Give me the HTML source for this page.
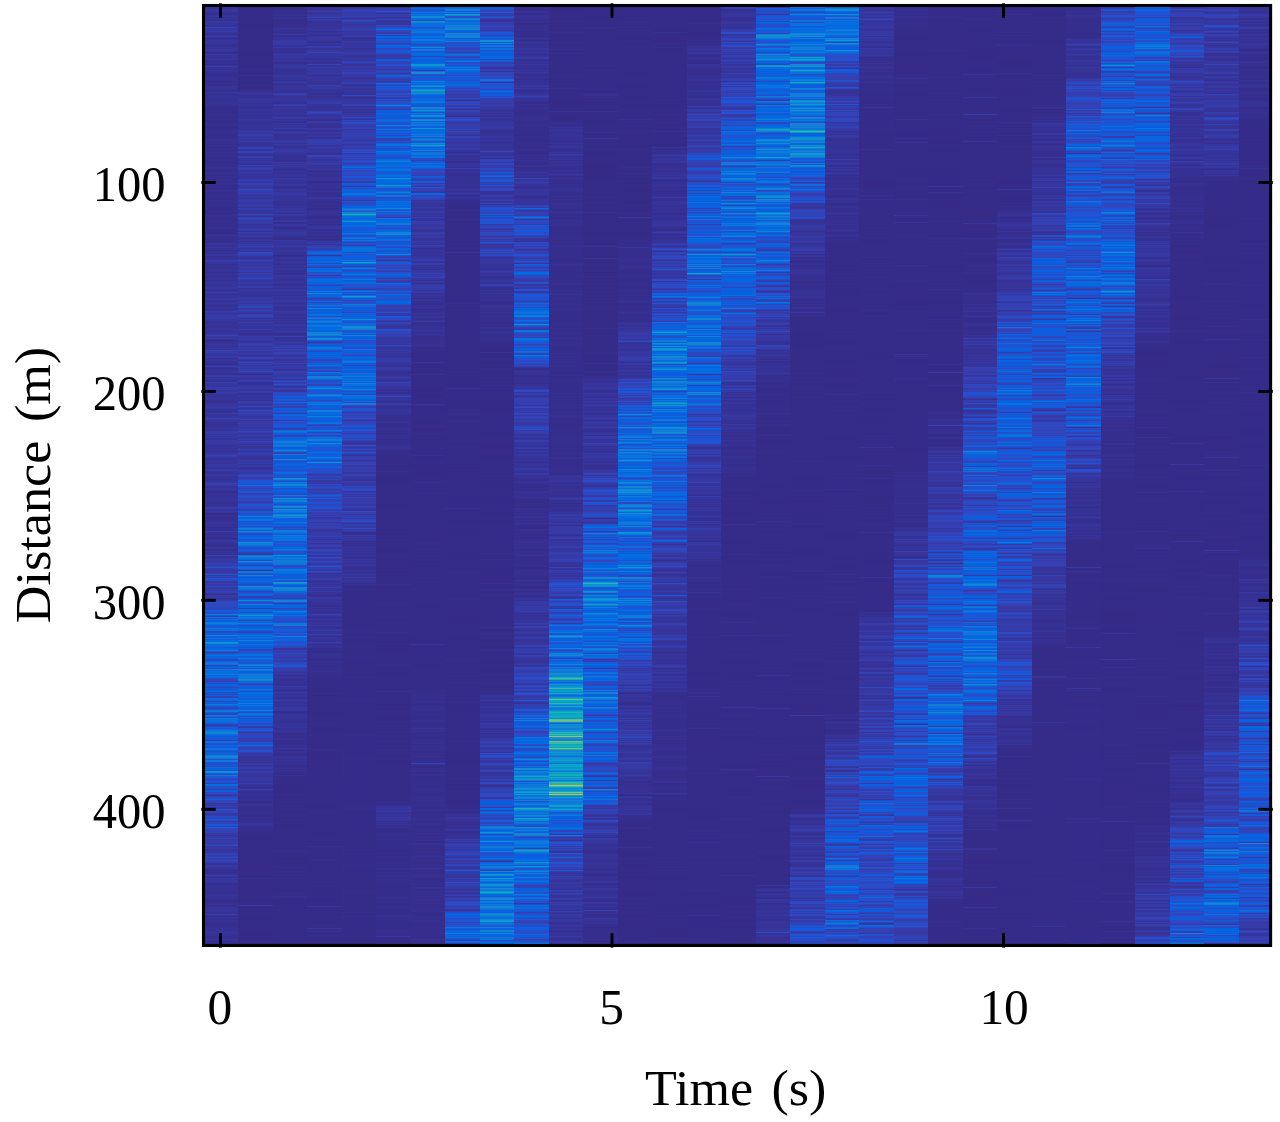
<!DOCTYPE html>
<html><head><meta charset="utf-8"><title>Distance vs Time</title>
<style>
html,body{margin:0;padding:0;background:#fff}
body{width:1280px;height:1122px;position:relative;overflow:hidden}
#p{position:absolute;left:203.5px;top:5px;width:1067.1px;height:941px;background:#352a87;overflow:hidden}
.c{position:absolute;top:0;width:34.5px;height:941px}
</style></head><body>
<div id="p">
<div class="c" style="left:0px;background:linear-gradient(#36349b .5px,#36339a,#36359c,#363399,#3638a3,#3637a0,#36359e,#363194,#362f90,#363092,#36349c,#36369e,#363194,#36349b,#363398,#363195,#3638a4,#36369f,#36359d,#36369f,#363093,#36349b,#3342b6,#36359d,#3637a1,#363aa6,#3639a6,#36349a,#363297,#363194,#36349a,#353ba8,#36349a,#362e8e,#363398,#36359e,#363297,#3637a2,#363398,#363196,#362f90,#363093,#363399,#36349b,#36369e,#36359c,#363398,#362e8e,#362e8f,#363aa6,#363399,#363297,#363296,#363297,#3637a1,#362f90,#362f90,#363195,#363093,#352d8d,#363298,#353dac,#36349b,#36349b,#362f90,#36359d,#363398,#362f91,#362f91,#362f90,#362e8e,#363092,#363195,#363195,#363195,#363093,#362f90,#362f91,#363297,#362f90,#362f90,#36349a,#363398,#363398,#363296,#362f90,#362f91,#3638a2,#363092,#363093,#363195,#363399,#363093,#363297,#363093,#363195,#363195,#363296,#363194,#363194,#363194,#362d8d,#362e8e,#362f90,#352c8b,#362e8e,#362e8f,#352c8b,#352c8b,#362f90,#362e8f,#352d8d,#362e8e,#352d8b,#362f90,#352d8c,#352d8c,#352d8c,#362f90,#362e8f,#363092,#352c8b,#352c8a,#352d8c,#363092,#362d8d,#363092,#362f90,#362e8e,#362f91,#352d8c,#352d8c,#352c8b,#352d8d,#363195,#362f90,#362f8f,#362e8f,#362f90,#362e8e,#363092,#362f91,#352d8d,#362f91,#362f91,#362e8f,#362d8d,#363093,#362f91,#362d8d,#362f90,#362e8e,#362e8f,#352d8d,#362e8d,#362d8d,#352d8c,#352d8b,#352c8b,#362e8e,#362e8e,#352d8c,#363194,#363093,#362e8f,#352d8c,#352d8b,#363092,#363093,#362e8e,#352d8c,#363092,#362e8e,#362f90,#352d8d,#362f90,#362e8f,#362e8e,#363196,#362f90,#362e8f,#352d8d,#362e8f,#352c8b,#352d8b,#363296,#362f90,#352d8d,#362d8d,#352c8a,#362f90,#362e8e,#362e8e,#362e8e,#352d8d,#362e8e,#363092,#362e8d,#362e8e,#363092,#362d8d,#362f91,#352d8c,#362e8e,#362e8e,#352c8b,#362e8f,#352d8d,#352c8a,#362f91,#363194,#362d8d,#362e8e,#352d8c,#352d8c,#362e8e,#362f90,#362e8e,#362e8f,#362e8d,#352d8b,#362e8e,#362f90,#362f90,#352d8c,#352d8d,#352d8d,#352c8b,#352d8c,#362e8e,#36349a,#352d8c,#363092,#362f90,#362e8f,#362f90,#362d8d,#363194,#363398,#36349a,#363195,#363092,#36369e,#363297,#363297,#362e8e,#363093,#363399,#362f91,#3639a6,#36369f,#362f90,#363297,#36339a,#36349a,#343eb0,#3638a3,#36349a,#363399,#363093,#363297,#36349a,#363194,#363195,#36339a,#36349b,#363296,#362e8f,#363399,#363398,#363194,#363195,#363092,#36349b,#363398,#362f91,#36339a,#3637a0,#36349b,#36369e,#363093,#3638a2,#3637a1,#3639a5,#363195,#363194,#363297,#353dad,#3637a1,#363093,#36349b,#36359d,#363296,#3637a0,#363aa7,#36349b,#363093,#36369e,#36369e,#363399,#363194,#363398,#36359d,#36349b,#362f90,#36359c,#353eaf,#3638a3,#3638a3,#36359c,#343eaf,#3637a1,#353ba8,#353dae,#36369e,#3637a1,#363195,#36349b,#363194,#36359d,#36349a,#363398,#363297,#36349b,#3637a1,#363296,#363297,#36349b,#363297,#3639a5,#3341b6,#3639a5,#36349a,#353caa,#363296,#362f90,#363093,#36349a,#363399,#36359d,#363194,#363399,#36349a,#3637a0,#363297,#3342b7,#3638a3,#343fb1,#3636a0,#36369e,#363399,#353caa,#353ba8,#363297,#363297,#3637a0,#363093,#363194,#363296,#362e8f,#36369f,#343fb1,#36339a,#362f90,#363399,#36359e,#36369f,#36339a,#363297,#362f91,#353caa,#353dae,#36349b,#36369e,#363399,#363398,#363093,#3440b2,#3637a1,#3636a0,#36349c,#36359e,#353cab,#3637a2,#353cab,#36349b,#3636a0,#353caa,#3639a5,#363398,#363194,#363297,#363195,#36359d,#36359d,#363195,#362f91,#363194,#363398,#3637a0,#36369f,#3637a1,#353ba8,#3637a2,#363194,#363296,#363093,#36349a,#353cac,#363297,#36349b,#36369f,#36359c,#3243b9,#3637a1,#3637a1,#36349b,#363194,#363195,#363092,#363399,#363092,#36369e,#36359d,#3636a0,#363196,#363aa6,#353baa,#363aa6,#36359c,#3639a5,#36349c,#363aa7,#363195,#363398,#363aa7,#3639a6,#3639a4,#3638a3,#36369e,#363195,#36359d,#36339a,#363297,#36339a,#36349a,#363194,#36369e,#36369e,#363aa6,#3340b4,#353ba8,#36369e,#363194,#363297,#36359c,#36369e,#36359c,#363297,#3637a1,#3637a1,#3639a4,#363399,#36349b,#353aa8,#353caa,#363297,#363297,#363297,#3638a4,#3638a4,#363296,#363398,#363296,#363398,#363398,#363399,#3638a2,#343fb1,#353ba9,#353cab,#363194,#36349a,#36369f,#36359d,#363398,#362e8e,#362f90,#363195,#36349a,#363195,#363297,#363398,#363297,#363399,#36349c,#363297,#363296,#363092,#363194,#363092,#363399,#353cab,#353dad,#363399,#36339a,#3637a2,#36349a,#352d8b,#362f90,#363296,#362f91,#362f91,#362f91,#362f90,#363093,#363194,#36349b,#36349b,#363194,#363195,#363297,#362e8f,#36349b,#363195,#362f90,#353dad,#36349a,#363296,#363092,#36359e,#363297,#362f8f,#352d8c,#362f91,#363aa7,#36339a,#36369f,#363196,#362e8e,#362e8e,#363092,#36349a,#363398,#362e8e,#362f91,#363398,#363194,#363399,#362f91,#343fb1,#36349b,#363297,#36359c,#363aa6,#3637a0,#3638a3,#3639a5,#343eb0,#3340b4,#353dac,#3244ba,#274ecc,#353dac,#363aa7,#3637a2,#3638a2,#3637a1,#353dac,#1758d9,#363aa7,#343fb1,#353ba9,#0b5edf,#2d48c3,#3144bb,#3639a6,#36369e,#353dac,#3638a3,#353aa8,#2e48c1,#353baa,#3639a5,#353cab,#353ba9,#3341b4,#353eae,#36369f,#363093,#353baa,#3639a4,#353dac,#36349a,#36359c,#353dae,#2f47c0,#2c4ac6,#274ecc,#3342b7,#2c4ac5,#2c49c5,#3243ba,#3242b8,#3341b4,#0363e1,#0c5ede,#2c4ac6,#2152d3,#127cd8,#1956d7,#353eaf,#0971de,#2251d1,#0871df,#0363e1,#0462e0,#0d75dc,#117ada,#0971de,#0462e1,#1857d8,#1d54d5,#0f77db,#046de0,#0a73dd,#3046be,#2d49c4,#0562e0,#1a56d7,#1482d5,#0b5edf,#0363e1,#076fdf,#1c55d6,#036ae1,#036ae1,#079cd0,#138ad3,#0267e1,#066edf,#036be0,#1956d8,#0268e1,#036ae1,#127bd9,#1c55d6,#343fb1,#2a4cc9,#0267e1,#0b73dd,#0364e1,#0268e1,#0860df,#3242b7,#3243ba,#036be0,#0971de,#0e76dc,#0870df,#3341b4,#1658da,#0266e1,#2e48c2,#117bd9,#0269e1,#066edf,#0870df,#046de0,#1079da,#0266e1,#066edf,#046ce0,#2c4ac6,#2e48c3,#3244ba,#353dac,#0860df,#2e47c1,#036be1,#0760e0,#1c55d6,#3045bd,#0960df,#274ecc,#0266e1,#056de0,#2f46bf,#0860df,#3342b6,#0267e1,#3244ba,#3440b3,#0971de,#036ae1,#036be0,#3342b7,#0265e1,#1f53d4,#0f78da,#036be1,#0e5cde,#3341b5,#3243b8,#1956d8,#0d75dc,#117bd9,#0363e1,#3046bf,#3440b3,#0f78db,#066ee0,#2c4ac7,#0d75dc,#0871de,#066edf,#0971de,#026ae1,#1c55d6,#343fb1,#353dae,#3144bc,#0364e1,#2152d2,#026ae1,#0972de,#127dd8,#1481d6,#1482d5,#046de0,#0363e1,#2251d2,#0860df,#0363e1,#2251d1,#353cac,#0871de,#0870df,#264fcd,#294cca,#036be1,#125adc,#0462e1,#0a72de,#0b73dd,#0462e1,#2a4cc9,#2351d0,#036be0,#0661e0,#127bd9,#1388d3,#1482d5,#0c74dd,#264ecd,#1079da,#0e76dc,#125adc,#2d48c3,#2a4cc9,#0a5fdf,#2f47c0,#076fdf,#0363e1,#0268e1,#2f47c0,#089ad0,#1484d4,#0265e1,#2f47c0,#0d76dc,#0364e1,#2052d3,#2d49c4,#3341b6,#2052d3,#105bdd,#244fcf,#3341b6,#0770df,#0770df,#2d49c4,#1758d9,#2d49c4,#3341b6,#0860e0,#0265e1,#3045bd,#3046bf,#353eae,#36349b,#3045bd,#2e47c1,#2d49c4,#0265e1,#2e47c1,#3144bb,#3243b9,#36359d,#353ba9,#36369e,#343fb1,#363aa7,#3637a0,#1757d9,#2e47c1,#3341b4,#2e48c1,#36369f,#3637a2,#353ba9,#2e47c1,#2c49c5,#3440b3,#0363e1,#2d49c4,#353ba9,#2e47c1,#343fb1,#1857d8,#264ecd,#343eaf,#0267e1,#2c4ac5,#3440b2,#3243b9,#3243b8,#3243b8,#3637a0,#353ba8,#363399,#3638a3,#353ba9,#3341b6,#3639a5,#353dad,#353aa8,#353cac,#3637a0,#3243b9,#2e48c2,#3637a0,#3638a2,#3639a5,#363297,#363296,#3639a4,#36359d,#343eb0,#3242b7,#363aa7,#3440b2,#2c4ac6,#353aa8,#3341b5,#3144bb,#3243b9,#363aa6,#3636a0,#363297,#3638a2,#3638a3,#36369e,#36349b,#363297,#362e8e,#363092,#362e8f,#363195,#363194,#343fb1,#36359d,#363093,#353caa,#363296,#36369f,#3638a3,#363297,#363194,#362f90,#363092,#363297,#363297,#363195,#362f91,#363298,#362f90,#362f90,#363092,#363297,#363296,#363296,#362f91,#363398,#362d8d,#362e8d,#352d8d,#362d8d,#363092,#363296,#362f91,#362f91,#36359e,#363297,#36349b,#36349b,#36349b,#363194,#363093,#353cab,#363195,#362d8d,#363297,#363093,#363092,#363296,#363092,#362f91,#362e8e,#362f91,#362e8e,#363093,#363093,#363398,#363093,#363298,#36349a,#36359c,#363399,#363398,#363195,#362f91,#362f91,#363092,#36369e,#363092,#362e8f,#363093,#362e8f,#363195,#363093 940.5px)"></div>
<div class="c" style="left:34.5px;background:linear-gradient(#352b88 .5px,#352b88,#352b88,#352b87,#352b88,#352b88,#352b88,#352a87,#352b89,#352b88,#352b88,#352b87,#352b88,#352a87,#352b88,#352b87,#352b88,#352b88,#352b87,#352b87,#352a87,#352d8d,#352b87,#352b89,#352c89,#352b89,#352b89,#352b88,#352b88,#352b88,#352b87,#352b88,#352b88,#352b88,#352b87,#352b89,#352a87,#352c8a,#352c8a,#352b88,#352a87,#352d8c,#352a87,#352b88,#352a87,#352b88,#352b88,#352b87,#352a87,#352a87,#352a87,#352b88,#352a87,#352b88,#352b88,#352b88,#352b89,#352b87,#352c8a,#352b88,#352b87,#352c8a,#352b87,#352b88,#362e8e,#352b88,#352b88,#352a87,#352c89,#352b88,#363194,#352b88,#352b88,#352b88,#352b87,#352b89,#352c89,#352b87,#352b87,#352b88,#352c8b,#352b87,#352c8a,#352c8a,#352c8a,#362e8e,#362f90,#363194,#3638a3,#36349b,#363093,#363093,#363092,#36359d,#3637a1,#36359d,#3636a0,#363297,#363092,#363399,#36349b,#363195,#363092,#363194,#36359c,#363398,#363398,#36349b,#36349b,#36349b,#363092,#363194,#36349b,#363297,#3638a2,#36359d,#363399,#363398,#363296,#363398,#36359d,#363399,#363399,#363296,#363093,#363aa7,#3637a1,#36369f,#36369f,#353baa,#343fb1,#3638a2,#36359c,#3639a5,#3638a2,#36359c,#353ba9,#36349b,#36349a,#362f91,#36349a,#363399,#343fb0,#2f46bf,#363399,#363398,#3341b4,#3341b5,#36369e,#363195,#363398,#353ba9,#3440b3,#36369f,#36359d,#363297,#3637a2,#3637a1,#363398,#363297,#3440b3,#36349b,#353ba9,#3440b2,#353ba9,#36359d,#3636a0,#3639a5,#3638a2,#363297,#36369e,#36349b,#363398,#3637a1,#3637a1,#3243b9,#3639a5,#36369e,#3342b6,#343fb2,#36359c,#3639a5,#36359c,#3638a3,#2d49c3,#353ba9,#353caa,#353baa,#3341b5,#3638a2,#3637a0,#353aa8,#3636a0,#36349a,#3638a2,#353cac,#353baa,#36359c,#3637a0,#3638a3,#3440b3,#3637a2,#36349b,#3341b5,#3639a4,#36349a,#36349a,#36359c,#36349b,#2e48c1,#3638a2,#363194,#353dac,#2a4bc8,#363aa6,#3639a5,#363aa7,#353baa,#363aa6,#363297,#36369f,#363399,#3637a1,#3638a2,#343fb1,#36369f,#363296,#353cac,#3639a4,#36349a,#36359c,#3639a5,#36349b,#363092,#363195,#3637a0,#363297,#36369f,#36359c,#353caa,#3638a4,#3243b9,#353aa8,#36349a,#36369f,#3637a0,#36349c,#2e48c2,#3045bd,#3440b3,#3440b2,#36369f,#36349a,#363296,#353cab,#3046be,#3639a6,#36369f,#36369f,#3639a6,#3639a5,#3639a5,#353ba8,#3639a5,#36369f,#343fb1,#353cab,#36359d,#343fb1,#363aa7,#353dac,#3639a5,#3243b8,#2e47c1,#353ba9,#3636a0,#36369e,#363aa6,#353cab,#363297,#363296,#343fb0,#353ba9,#363194,#36369e,#36359c,#36359c,#363398,#36349b,#363398,#36349b,#363398,#353ba9,#3637a1,#3638a2,#36359d,#353ba8,#363aa6,#36369e,#353dad,#3639a5,#2b4bc7,#3341b6,#3638a3,#3639a4,#3440b3,#353ba9,#36369f,#363398,#3341b5,#3243b9,#3145bc,#353ba8,#363398,#3637a1,#36349a,#36349a,#343eaf,#3637a1,#363297,#36369f,#363296,#3638a2,#36359e,#343eb0,#36349c,#363194,#36339a,#362f90,#363092,#36359c,#363aa7,#3637a1,#3639a6,#3639a5,#3637a1,#363399,#36359c,#353dac,#353eaf,#353dad,#36359c,#353eaf,#3637a1,#36369f,#3243b8,#36349b,#36359d,#353caa,#3638a2,#363093,#363aa7,#3341b5,#3144bb,#36369f,#363092,#3637a0,#3046be,#353ba9,#353dac,#36369f,#3639a6,#353eaf,#3637a2,#3243b8,#353ba8,#3144bb,#3638a3,#363195,#362f90,#353caa,#353ba8,#36369e,#363399,#36359c,#343eb0,#353eae,#363194,#362f91,#363093,#3637a1,#3639a4,#353dad,#3637a0,#36369e,#36349a,#353ba8,#363aa6,#363398,#363093,#363aa6,#36349a,#363398,#36369f,#36369f,#362f91,#3638a3,#353dac,#3639a5,#36359e,#36369f,#2e47c1,#3639a5,#363297,#353ba9,#2f47c0,#3342b6,#363aa7,#3144bb,#3639a5,#363aa6,#363296,#353aa8,#3639a4,#3342b7,#363296,#3637a0,#3637a2,#353eae,#3639a4,#36369f,#353ba9,#36349a,#3638a3,#343fb2,#36369e,#3145bc,#353cab,#36359d,#3639a6,#353cab,#363aa7,#363195,#363aa7,#353dae,#36359d,#3243b9,#353ba9,#3639a6,#363298,#3639a4,#363399,#363093,#36369f,#3341b5,#3638a2,#363297,#353dad,#3440b2,#3639a6,#3639a5,#36349a,#363296,#363195,#36349b,#353ba9,#3638a2,#3637a0,#353baa,#363297,#353ba8,#353ba9,#36359c,#36359c,#363297,#353ba9,#353ba9,#3639a4,#36359e,#343fb0,#2f47c0,#2b4bc7,#353aa8,#353dad,#3440b2,#2053d4,#1956d8,#2351d0,#1857d8,#2b4bc8,#076fdf,#1f53d4,#2f46bf,#353dac,#2f47c0,#2b4bc8,#0e5cde,#2052d3,#353dad,#3244ba,#2e48c2,#2350d0,#2b4bc7,#3342b6,#2f46bf,#2d49c4,#353eae,#353caa,#3045bd,#1559da,#274ecc,#2e47c1,#274ecc,#2c4ac6,#353ba9,#343fb1,#0760e0,#1459db,#3243b8,#2152d2,#1857d8,#1480d6,#0462e0,#0266e1,#0e76dc,#0971de,#2450cf,#0e5dde,#2053d4,#2251d1,#036ae1,#2b4bc7,#036be0,#137fd6,#0d76dc,#0860df,#137dd8,#0971de,#2f46bf,#3145bc,#0661e0,#0365e1,#036ae1,#036be0,#1e54d5,#2251d1,#0265e1,#1389d3,#117bd9,#127bd9,#0a72de,#0462e1,#2053d4,#3145bc,#1757d9,#0266e1,#1b55d6,#3440b3,#3639a5,#3639a6,#0c75dd,#1483d5,#1078da,#0770df,#046de0,#2a4bc8,#1486d4,#0870df,#0462e1,#1558da,#3244ba,#0a5fdf,#0b73dd,#066fdf,#2b4bc7,#3639a4,#0e77db,#127bd9,#2350d0,#264ecd,#1482d5,#0269e1,#1b55d7,#095fdf,#0268e1,#0761e0,#076fdf,#0462e1,#2152d3,#343fb2,#0e5dde,#1388d3,#0e76dc,#1078da,#056de0,#0267e1,#3341b6,#2d48c3,#1c55d6,#046ce0,#0661e0,#3243b8,#363aa7,#274ecc,#0860e0,#118cd2,#0661e0,#2b4bc8,#264fcd,#117bd9,#0267e1,#125adc,#0268e1,#353dad,#036be0,#0268e1,#036be1,#2e48c1,#056de0,#0a72de,#0a96d1,#0972de,#0e76db,#0e76db,#0266e1,#3341b6,#036be1,#0267e1,#127bd9,#046ce0,#2f46bf,#125adc,#0363e1,#0269e1,#066fdf,#0364e1,#3243b9,#343fb1,#1459db,#0562e0,#0b73dd,#036ae1,#0a72de,#036be0,#115bdc,#137fd7,#046ce0,#0b5edf,#0364e1,#0972de,#0363e1,#0364e1,#1b55d7,#0265e1,#3243b8,#2f47c0,#2450cf,#1758d9,#1a56d7,#0770df,#0972de,#2053d4,#0960df,#117ad9,#0462e1,#1b55d6,#0268e1,#294cc9,#1a56d7,#0e76dc,#1486d4,#0760e0,#0a72de,#1a56d7,#1481d6,#0e76dc,#0363e1,#1459db,#036be1,#137ed7,#0d75dc,#1078da,#1079da,#0e77db,#108fd2,#1481d5,#046ce0,#036be1,#2b4bc7,#343eaf,#2251d1,#0562e0,#0a5fdf,#0c5dde,#0c74dd,#066fdf,#2e48c2,#036ae1,#0b73dd,#0268e1,#0268e1,#125adc,#0269e1,#0e5dde,#0c5ede,#0972de,#046ce0,#0364e1,#127cd8,#0269e1,#0b73dd,#056de0,#115bdd,#1a56d7,#0269e1,#137fd6,#0960df,#3244ba,#0a72de,#0b73dd,#026ae1,#3046be,#036be0,#294cc9,#0268e1,#0a5fdf,#0f5cdd,#2053d4,#2e48c1,#2c4ac6,#0b5edf,#343eaf,#3637a1,#2252d2,#264fcd,#0265e1,#3342b7,#3638a2,#3440b3,#3244ba,#3045bd,#3045bd,#2b4bc8,#3638a3,#3341b4,#353eaf,#353cab,#125adc,#2f47c0,#2251d1,#056de0,#294cc9,#3341b4,#3341b4,#3242b8,#2152d3,#294cca,#3340b3,#353caa,#36369f,#3639a5,#36349b,#363297,#36369f,#363399,#363194,#36359c,#363298,#3637a1,#3638a3,#363195,#36369f,#363aa7,#3638a3,#36369e,#36349b,#3342b6,#353aa8,#3638a2,#36359c,#363297,#363298,#3638a3,#3638a3,#3638a3,#3637a1,#363399,#36359d,#353cab,#3638a2,#363296,#363194,#362f91,#363399,#3440b2,#36369f,#363092,#362e8e,#363093,#36349a,#363093,#362f91,#362f91,#362e8e,#363194,#362f90,#362d8d,#352d8d,#363092,#363399,#363296,#362f90,#362f90,#362e8f,#352d8c,#352d8b,#362f90,#362f90,#362e8e,#362f91,#352d8c,#352d8c,#363092,#362d8d,#352d8d,#363092,#362f91,#363297,#363399,#363399,#36359e,#362e8f,#363092,#362f90,#362e8e,#352c8b,#352d8c,#352c8a,#352b88,#352b88,#352b88,#352b88,#352b87,#352b87,#352b88,#352b88,#352b87,#352b87,#352c8a,#352a87,#352c8a,#352b89,#352b88,#352b88,#352b88,#352b88,#352b87,#352a87,#352b88,#352a87,#352b88,#352b88,#352b88,#352c89,#352a87,#352b88,#352b87,#352b89,#352b89,#352b87,#352b88,#352b89,#352a87,#352b87,#352b88,#352a87,#352b88,#352b88,#352a87,#352b88,#352b88,#352b87,#352b88,#363093,#352b88,#352b88,#352b87,#352b88,#352b87,#352a87,#352b88,#352b88,#352b87,#352b87,#352b87,#352b89,#352b88,#352b87,#352b88,#352b88,#352b87,#352b88,#352b88,#352c8a,#352b87,#352a87,#352b88,#352b88,#352b88,#352b88,#3638a3,#352b87,#352b87,#352b89,#352b87,#352b88,#352b87,#352b88,#352b88,#352b88,#352b89,#352b88,#352b87,#352b88,#352b87,#352b88,#352b88,#352b87,#352b88,#352b88,#352a87,#352b88,#352b88,#352b88,#352b88,#352b88,#352b87,#352b88,#352b87,#352b87,#352b87,#352c8a,#352c89,#352b87,#352b87,#352a87,#352c89,#352b88,#352b88,#352b88,#352b87 940.5px)"></div>
<div class="c" style="left:69px;background:linear-gradient(#363296 .5px,#362e8f,#362f90,#352c8b,#352c89,#362d8d,#362e8e,#352d8d,#362e8d,#362f91,#363092,#352d8c,#363092,#363195,#362f91,#352d8d,#352c8b,#362d8d,#362e8f,#362d8d,#362e8f,#362f8f,#363092,#36349a,#363297,#363092,#363194,#362f90,#363296,#3637a2,#363092,#362e8e,#36359d,#363398,#363297,#36359d,#353caa,#363aa7,#3638a3,#3637a1,#363195,#36349b,#363aa7,#363194,#352d8b,#36349a,#363093,#363194,#36349a,#353ba9,#3636a0,#36339a,#3639a4,#363398,#362f91,#3638a3,#363093,#362e8f,#362f90,#36359d,#3637a0,#36369f,#3638a2,#363296,#363398,#363195,#363297,#363398,#363092,#363399,#36369f,#3637a1,#363399,#363399,#363398,#362f91,#3637a1,#363aa6,#363398,#363194,#36349a,#36369e,#36349b,#363399,#36349a,#363093,#363398,#363398,#353cab,#343eaf,#3637a0,#363297,#36369f,#363296,#3638a3,#36349b,#363399,#363093,#363092,#363aa7,#3341b5,#363398,#3637a1,#36349a,#36339a,#36349b,#363296,#363399,#36369f,#36369e,#363093,#363194,#343eb0,#3637a2,#363194,#363399,#363093,#362e8e,#3637a1,#363195,#36369f,#36359d,#36349b,#353dad,#363399,#362e8f,#3637a0,#3639a5,#3637a1,#363195,#363092,#363195,#36349b,#363093,#36369f,#363399,#353ba8,#3637a1,#363398,#3637a0,#36359d,#363194,#363195,#36349b,#3637a0,#3637a0,#3639a5,#3637a2,#36369e,#363398,#363398,#363092,#363093,#363398,#363296,#362f90,#362f90,#3638a3,#363296,#3638a3,#36369e,#36369f,#36369e,#363398,#363093,#363195,#36359d,#363194,#363298,#36349b,#36359d,#36359d,#363093,#363aa6,#36349c,#36359d,#36349b,#363298,#363296,#3639a4,#36349a,#362f91,#362f90,#363092,#3637a0,#363399,#363398,#3637a2,#3638a3,#3637a2,#36369f,#36349b,#36349a,#36359c,#36349b,#36349a,#363195,#363194,#363298,#363194,#362f90,#36369e,#363195,#36369e,#36369f,#36349a,#3639a6,#363296,#363297,#3639a5,#36369f,#363296,#362f90,#363297,#363093,#36369e,#3637a1,#362f91,#363093,#3639a4,#3637a1,#363195,#362f90,#362f90,#363092,#3637a0,#36359c,#3639a5,#36369f,#3638a2,#36339a,#363195,#363093,#362f91,#352c8b,#3639a5,#36349a,#36369f,#363399,#36359c,#36369e,#3639a5,#363399,#363398,#363297,#36359c,#3639a4,#363297,#36359e,#363398,#362e8f,#362f91,#36349a,#36349b,#363194,#363194,#363398,#36369f,#363195,#363092,#36369f,#36349a,#363194,#36369f,#36369f,#363296,#363297,#363399,#363093,#363092,#3638a2,#36369f,#36349a,#36349a,#363296,#363398,#3637a0,#36349a,#36359c,#362f91,#363296,#36369f,#36359c,#363195,#36349a,#353ba9,#363194,#363399,#363399,#36349a,#363194,#3637a1,#363296,#363297,#36359e,#3636a0,#353aa8,#363297,#363194,#36359d,#36369f,#36349a,#362e8f,#363194,#363297,#363398,#3638a4,#3637a1,#363195,#36349b,#363195,#3638a2,#363297,#363093,#36369e,#363195,#36359c,#363399,#363297,#3638a2,#3638a3,#363297,#36349a,#36359d,#36369f,#363399,#353caa,#36349b,#362f90,#363195,#363399,#343fb1,#36349b,#363298,#363195,#36349b,#36349b,#353dad,#36369f,#36349a,#353caa,#353ba9,#3242b8,#353aa8,#3341b4,#353ba9,#3637a1,#3440b3,#343fb0,#353dad,#36369e,#36369e,#353caa,#3638a3,#36359c,#36369e,#363aa6,#36359d,#3440b3,#3636a0,#3637a1,#353cab,#3638a4,#363aa7,#363297,#36359d,#343eb0,#343eb0,#363aa6,#353dad,#3639a5,#3638a2,#343fb1,#363aa7,#36369f,#343fb1,#1f53d4,#3639a4,#3243b9,#264fcd,#353cab,#36349a,#36359c,#3342b6,#353cab,#36359c,#36349b,#2d49c4,#2b4bc8,#2b4bc8,#2e48c1,#0562e0,#2450d0,#294cca,#0363e1,#0b5ede,#3341b4,#0267e1,#294cca,#353cac,#2450cf,#343fb1,#3340b3,#0d5dde,#0e5cde,#2450cf,#0265e1,#274dcb,#343fb0,#0860df,#046ce0,#1559da,#1857d8,#0f5cdd,#254fce,#3639a6,#2251d1,#2b4bc8,#2350d0,#264fcd,#0363e1,#0c5dde,#254fcf,#353aa8,#3341b5,#036be1,#1078da,#056ee0,#0860df,#1a56d7,#353eaf,#3243ba,#0364e1,#0b5ede,#036ae1,#056de0,#127cd8,#137ed7,#0a72de,#0871de,#127cd8,#0d75dc,#125adc,#095fdf,#036be0,#1484d4,#066fdf,#3342b7,#3243b9,#137dd8,#1757d9,#0a5fdf,#0c5dde,#0d5dde,#1482d5,#0267e1,#3145bc,#1857d8,#0e5dde,#026ae1,#0d5dde,#2251d1,#0c5dde,#0a5fdf,#264ecd,#2d49c4,#0d5dde,#0971de,#036ae1,#1b55d6,#2450cf,#2152d2,#1558da,#108ed2,#137dd8,#0266e1,#2c4ac6,#0f78db,#0a72de,#1487d3,#1486d4,#036be1,#0871de,#2b4bc7,#105bdd,#0266e1,#0363e1,#1b55d6,#1758d9,#3045bd,#1079da,#0e5cde,#2b4bc7,#0b95d2,#0971de,#117bd9,#1484d4,#0266e1,#0761e0,#2b4bc7,#036be0,#0f8fd2,#137fd7,#2152d3,#0c93d2,#0d76dc,#1079da,#0870df,#0267e1,#137fd7,#0b95d2,#127cd8,#1481d6,#0363e1,#095fdf,#0562e0,#1956d8,#0b73dd,#0267e1,#1558da,#0265e1,#0f5cdd,#3341b5,#1757d9,#3046be,#117ad9,#117bd9,#0c74dd,#036be1,#125adc,#1079da,#046de0,#0d75dc,#056ee0,#0870df,#0870df,#1b55d6,#2b4bc7,#0265e1,#254fce,#1b55d6,#0a5fdf,#026ae1,#0266e1,#0f78db,#056de0,#2b4bc7,#2351d0,#3046be,#0266e1,#118cd2,#046de0,#0870df,#1482d5,#046de0,#0f78db,#137ed7,#1079da,#0f77db,#0a73dd,#284dcb,#3045bd,#1f53d4,#0363e1,#0f77db,#117bd9,#066fdf,#0a73dd,#0269e1,#0661e0,#0e5dde,#0462e1,#2053d4,#0d5dde,#117ad9,#2350d0,#1d54d5,#06a1cc,#1484d4,#056de0,#0e5dde,#125adb,#1484d4,#1487d3,#1482d5,#137fd7,#026ae1,#036ae1,#274ecc,#1857d8,#343fb0,#264ecc,#3243b9,#353dac,#036be0,#1483d5,#1482d5,#1459db,#343fb1,#125adc,#036ae1,#095fdf,#036be1,#2e47c1,#2b4bc7,#0268e1,#127bd9,#076fdf,#0265e1,#0d5dde,#0870df,#1857d8,#1d54d6,#264ecd,#294cca,#2351d0,#343eaf,#0f5cde,#0a72de,#0e77db,#117ad9,#2e48c2,#2e48c2,#254fce,#0561e0,#1a56d7,#1c55d6,#2f47bf,#0269e1,#294dca,#2350d0,#127cd9,#026ae1,#244fcf,#0269e1,#0269e1,#2152d3,#2a4bc8,#2351d0,#0265e1,#2c49c5,#2d49c3,#3243b9,#363399,#363399,#3243b8,#353baa,#353dae,#2a4cc9,#353dad,#353eaf,#343eb0,#3637a1,#343eaf,#2f47c0,#3639a5,#3639a6,#3243b8,#2e48c2,#3145bc,#095fdf,#274ecc,#3045bd,#363aa7,#353ba9,#353dad,#3637a2,#36349a,#3639a5,#36349a,#363195,#36349a,#36359d,#363399,#363195,#36349a,#363398,#363194,#363196,#362f90,#362f91,#353caa,#36359c,#3636a0,#363194,#362f91,#363296,#353aa8,#36359d,#363297,#36359e,#36359c,#363296,#362f90,#36359c,#363aa7,#36359c,#36349a,#363194,#36359d,#363399,#363194,#3639a5,#3638a2,#3637a1,#36369f,#363093,#362e8d,#362f90,#36349c,#363399,#363296,#36349a,#363296,#363194,#363195,#363297,#362f91,#36349a,#36349a,#36349a,#363297,#36359d,#363092,#363093,#36349b,#36349a,#363194,#362e8f,#362e8e,#362f90,#362f91,#352c8b,#363296,#362f91,#362e8e,#362e8f,#362e8e,#362e8e,#362e8f,#363297,#362f91,#362f91,#36369f,#362f91,#362e8f,#363196,#363092,#362e8e,#362e8e,#362f91,#363195,#363399,#363296,#362f90,#363398,#362f90,#363092,#363296,#363093,#362e8e,#362e8f,#362f91,#363194,#362e8e,#363194,#362e8e,#362f90,#362e8e,#352c8a,#363195,#352c89,#352b89,#352c8b,#352c89,#352b88,#352b88,#352b89,#352b88,#352b87,#352a87,#352b87,#352b88,#352b88,#352b87,#352c89,#352b87,#352b88,#352b87,#362f8f,#352b87,#352b88,#352a87,#352b88,#352b88,#352a87,#352b88,#352b88,#352a87,#352b88,#352b88,#352b88,#352a87,#352b88,#352b88,#352b89,#352a87,#352a87,#352a87,#352b88,#352b88,#352b89,#352b89,#352a87,#352b88,#352c8a,#352b87,#352b88,#352c8b,#352c89,#352a87,#352b87,#352b89,#352c8a,#352c8a,#352b88,#352b88,#352b89,#352b88,#352a87,#352b87,#352b88,#352b87,#352b88,#352a87,#352b87,#352b89,#352b88,#352b89,#352b87,#352b89,#352b87,#352b88,#352a87,#352b88,#352b88,#362f91,#352b89,#352b88,#352b89,#352c89,#352b88,#352b87,#352a87,#352b87,#352a87,#352b88,#352b87,#352b87,#352b88,#352c89,#352b88,#362e8e,#352b88,#352b87,#352b88,#352b88,#352d8d,#352b87,#352b88,#352b88,#352b87,#352b88,#352b88,#352a87,#352a87,#352b89,#352b89,#352b88,#352b89,#352b89,#352b87,#352b88,#352b88,#352b87,#352b87,#352b87,#352b88,#352b88,#352b88,#352b88,#362f90,#362f90,#352b87,#352c8a,#352b88,#352a87,#352b89,#352b88,#352b87,#352b88,#352b88,#352b87,#352b87,#352b88,#352a87,#352b88,#352b88,#352a87,#352b88,#352b89,#352b88,#352b88,#352b89,#352b89,#352b88,#352b88,#352b88,#352b88,#352a87,#352a87,#352b89,#352b88,#352c89,#352b88,#352c8a,#352b88,#352b88,#352b89,#352b88,#352b88,#352b87,#352b87,#352b88,#352b88,#352b88,#352b88,#352b88,#352b88,#352b88,#352a87 940.5px)"></div>
<div class="c" style="left:103.5px;background:linear-gradient(#3639a4 .5px,#3637a1,#36349b,#36349a,#363195,#3638a3,#3638a3,#36359d,#363195,#36359c,#3638a4,#3639a4,#3342b6,#363398,#353dac,#3638a2,#363297,#363194,#36349c,#36369f,#363195,#36349a,#36339a,#36349a,#3638a3,#36359d,#363194,#36359c,#36369f,#363297,#363092,#363399,#36369e,#3637a1,#3637a1,#36359d,#363297,#362e8f,#36359d,#36359c,#363092,#3341b5,#363aa6,#363195,#36349a,#3639a4,#3639a5,#3243b9,#3636a0,#3636a0,#363399,#36369f,#36359c,#363398,#363093,#3636a0,#36359c,#363092,#363296,#3440b3,#36359d,#363297,#353ba8,#36359d,#3639a5,#3638a2,#36349c,#36369f,#363aa7,#36349a,#363195,#363298,#3638a4,#36359d,#363399,#36349a,#363297,#36349a,#363194,#363296,#353eae,#3639a5,#36369f,#36369f,#36359e,#363093,#36369f,#363195,#363194,#362f90,#363399,#362f91,#363092,#363296,#3636a0,#36349c,#353dad,#3638a3,#353cab,#36359c,#363399,#363296,#362f91,#363398,#363297,#36359d,#343fb2,#2f47c0,#353dad,#3637a2,#36349a,#3636a0,#363aa6,#363297,#362f91,#362f91,#3637a2,#363aa7,#363296,#363194,#363195,#363093,#363296,#3637a1,#36369e,#36349a,#363093,#3638a3,#36359d,#363398,#36359d,#3637a0,#363195,#362f91,#343eaf,#3440b2,#353eae,#353eaf,#353ba9,#353ba9,#36359e,#36369f,#363aa7,#3637a2,#36339a,#3637a1,#36369f,#36349b,#362f91,#36349b,#343fb1,#3145bc,#3637a0,#3639a4,#363297,#363399,#3639a4,#36369f,#353cab,#3639a6,#363195,#36369f,#363298,#36349b,#3637a1,#363194,#362e8e,#363398,#36349a,#362f91,#363093,#362f91,#36349a,#363195,#363399,#363195,#362e8e,#352c8a,#363093,#363195,#363093,#36349a,#363093,#363093,#362f90,#362f90,#363399,#362f90,#352d8b,#363093,#362f8f,#362f91,#36359d,#36369e,#363194,#363093,#362f91,#362d8d,#362e8f,#363093,#362e8e,#363092,#363093,#362e8e,#362e8e,#363092,#363296,#36339a,#363194,#36349b,#363092,#362d8d,#352d8d,#352c8b,#363092,#363194,#363093,#363093,#363194,#362d8d,#363194,#36369f,#36349b,#3637a1,#362f91,#363194,#363398,#362f91,#363092,#363194,#363093,#362e8e,#362f90,#363092,#352c8b,#362f91,#3639a4,#3638a3,#353cab,#363398,#353caa,#353eaf,#3244ba,#343fb1,#343fb1,#3144bb,#0462e1,#036ae1,#0269e1,#1d54d5,#3637a1,#2c4ac5,#0267e1,#0267e1,#026ae1,#0c5dde,#056de0,#0267e1,#2c49c5,#046ce0,#2152d2,#2b4bc7,#353cac,#056ee0,#0265e1,#066edf,#066fdf,#2e48c2,#125adc,#2351d1,#3637a1,#254fce,#3045bd,#0760e0,#046de0,#0269e1,#036be0,#0561e0,#0269e1,#2251d1,#343eb0,#0268e1,#0b5edf,#0268e1,#1f53d4,#0b5edf,#0e76dc,#0860df,#1480d6,#036ae1,#0265e1,#0269e1,#2052d3,#3340b3,#3341b5,#274ecc,#046de0,#3046bf,#115bdc,#1b56d7,#0d75dc,#0265e1,#1d54d5,#137dd8,#0363e1,#2450cf,#036be0,#0661e0,#0364e1,#0870df,#066edf,#3145bc,#0c75dd,#1079da,#0b5edf,#0770df,#137dd8,#0d75dc,#0363e1,#036ae1,#0f77db,#0c74dd,#0265e1,#0269e1,#0770df,#0661e0,#0267e1,#1482d5,#117ada,#1388d3,#127dd8,#1f53d4,#036be1,#0d92d2,#1389d3,#0c5dde,#3045bd,#363aa7,#2d49c4,#0860e0,#1758d9,#0363e1,#0f78db,#0c74dd,#066edf,#1459db,#3145bc,#0265e1,#0c5ede,#036be0,#1459db,#026ae1,#0266e1,#0e5cde,#3342b6,#3045bd,#2c4ac6,#2d49c5,#0267e1,#0266e1,#0971de,#0860e0,#2e48c2,#2f46bf,#0860df,#2c4ac6,#3440b2,#0f77db,#0268e1,#0363e1,#2c4ac6,#137fd7,#137ed7,#117bd9,#0266e1,#2b4bc8,#2d48c3,#2251d2,#1857d8,#3340b3,#3243b9,#056ee0,#056de0,#0f8fd2,#0265e1,#0c5dde,#254fce,#1f53d4,#1f53d5,#0d75dc,#1486d3,#056ee0,#0760e0,#0e5cde,#1558da,#3244ba,#1d54d5,#0d75dc,#066fdf,#0f77db,#0760e0,#0661e0,#0d5dde,#135adb,#1559da,#127cd8,#1482d5,#046ce0,#066fdf,#036be0,#0661e0,#127dd8,#056de0,#0a5fdf,#115bdc,#0a5fdf,#0c5ede,#0871de,#0c74dd,#254fce,#353cac,#0760e0,#254fce,#1b55d7,#274ecc,#0f78db,#036be0,#3341b6,#1757d9,#0267e1,#3440b3,#274ecc,#0971de,#066edf,#127cd8,#137dd8,#0562e0,#0265e1,#1484d4,#056ee0,#0266e1,#036ae1,#264ecd,#2251d1,#0860e0,#1e54d5,#1658d9,#066edf,#0266e1,#1e53d5,#0267e1,#0265e1,#127dd8,#0971de,#095fdf,#2d49c4,#0265e1,#0e91d2,#0363e1,#1b55d6,#2c4ac6,#0269e1,#0760e0,#1a56d7,#2d49c5,#2350d0,#284dcb,#264fcd,#3243b8,#363aa7,#353ba9,#2d49c4,#3341b6,#353dac,#2c49c5,#3637a1,#36369e,#353cac,#36359c,#2b4bc7,#3340b3,#3145bc,#284dcb,#3145bd,#363aa6,#343fb0,#353eae,#353cac,#353cab,#264ecd,#0d5dde,#1c55d6,#3342b6,#1758d9,#3243ba,#3243ba,#3144bb,#1757d9,#274ecc,#3340b3,#2c4ac6,#2a4bc8,#1956d8,#264ecd,#3045bd,#353cac,#2c4ac5,#343fb1,#3638a3,#3341b5,#3639a6,#3440b3,#3636a0,#3637a2,#343eaf,#343fb1,#3342b6,#3639a5,#343eb0,#3243b9,#363aa6,#3342b7,#353eaf,#353dad,#36369f,#36349b,#3637a0,#36359d,#353dad,#3639a5,#353eae,#3341b4,#3639a5,#353caa,#363297,#353dad,#363aa6,#353eaf,#36349b,#3638a4,#3341b5,#3440b3,#363399,#36369e,#3243b9,#2e48c1,#353eae,#3638a2,#3340b3,#3342b6,#36369e,#3637a2,#2b4bc8,#343fb0,#3639a5,#353ba8,#2f46bf,#3243b8,#36359e,#3639a4,#343fb2,#1a56d7,#353cac,#3341b5,#353dac,#363399,#274ecc,#353dac,#363093,#3638a4,#36359d,#36349b,#3638a3,#363aa6,#343fb0,#363298,#363093,#36339a,#3638a4,#363296,#3637a1,#3637a2,#343fb0,#36339a,#36359c,#36349a,#353ba8,#36349a,#363297,#362f91,#362e8f,#363194,#3638a3,#3639a4,#363399,#363297,#36349a,#363296,#363093,#363297,#362f91,#362f90,#363296,#363195,#363399,#363297,#363092,#363093,#363296,#3340b4,#3638a3,#363296,#362f90,#363399,#36359c,#363092,#363093,#363399,#363399,#36349b,#36369e,#363398,#362f91,#363298,#36339a,#353baa,#363398,#36349a,#363195,#343fb0,#36349c,#363092,#363399,#363399,#36359c,#363093,#363398,#343fb0,#36349b,#362f91,#363195,#36349a,#363399,#362e8e,#352d8d,#362e8e,#352c8b,#352c8a,#363195,#362f90,#363092,#363094,#362e8f,#362e8f,#352d8c,#352d8c,#363092,#363093,#362e8d,#362e8f,#352d8c,#352d8b,#352d8c,#362e8e,#362f90,#352d8c,#363092,#362f91,#352d8c,#362d8d,#352c8b,#352d8b,#352c8b,#352c8a,#352d8b,#352c8a,#352c8a,#352b88,#352b88,#352b88,#352b89,#352b88,#352b89,#352b88,#352b87,#352b88,#352b88,#352b87,#362f90,#352a87,#352a87,#352b88,#352a87,#352b88,#352b89,#352b88,#352b88,#352a87,#352b87,#352b88,#352a87,#352b88,#352b88,#352b87,#352b88,#352b88,#352b87,#352a87,#352b87,#352a87,#352a87,#352b88,#352b88,#352b89,#352b89,#352b88,#352b87,#352b87,#352d8d,#352b88,#352b88,#352b89,#352a87,#352b87,#352a87,#352b88,#352b87,#352a87,#352b89,#352b88,#352d8c,#352b88,#352a87,#352b88,#352b88,#352a87,#352b88,#352b89,#352b88,#352b87,#352b87,#352b88,#352b87,#352b88,#362e8e,#352b88,#352b88,#352b88,#352b87,#352b87,#352b88,#352b87,#352b87,#352b89,#352b87,#352c8a,#352a87,#352b87,#352b88,#352a87,#352b88,#352b88,#352b87,#352b88,#352b87,#352a87,#352b88,#352a87,#352b89,#352b89,#352b89,#352b87,#352b89,#352b89,#352b89,#352b88,#352b88,#352b88,#352b88,#352b88,#352b87,#352b88,#352b89,#352b87,#352b89,#352b88,#352b87,#352b88,#352b88,#352b89,#352b89,#352b88,#352b88,#352b88,#352b88,#352b88,#352d8d,#352c8a,#352b89,#352b88,#352a87,#352c8a,#352b87,#352b87,#352b88,#352b89,#352b88,#352b88,#352b88,#352b88,#352b87,#352b89,#352b89,#352b87,#352b88,#352b88,#352b88,#352a87,#352b88,#352b87,#352b89,#352b88,#352b87,#352b88,#352b88,#352b88,#352b88,#352b87,#352b88,#352a87,#352b88,#352c8b,#352b88,#352b88,#352b88,#352b88,#352a87,#352b87,#352b89,#352a87,#352b87,#363093,#352b88,#352b87,#352b88,#352b89,#352a87,#352b89,#352a87,#352b89,#352a87,#352b88,#352b89,#352b88,#362e8e,#352b88,#352b88,#352b87,#352b89,#352b87,#352b88,#352c89,#352a87,#352a87,#352b88,#352b87,#352b88,#352b88,#352b88,#352b89,#352b88,#352b88,#352b88,#352b88,#352a87,#352a87,#352b89,#352b88,#352a87,#352b87,#352b88,#352b89,#352b89,#352b88,#352b87,#352b89,#352b87,#352b88,#352a87,#352b87,#352b87,#352b88,#352b88,#352b87,#352b87,#352a87,#352b87,#352a87,#352b88,#352b88,#352a87,#36359d,#352b89,#352b87,#352b89,#352b87,#352b88,#352b89,#352b89,#352b87,#352c8a,#352b88,#352b88,#352b87,#352a87,#352b88,#352a87,#352a87,#352b87,#352c89,#352b88,#352b88,#352b89,#36359c,#352b88,#352b88,#363297,#352b89,#352a87,#352b88,#362e8f,#352b88,#352a87,#352b87,#352b88,#352b89,#352b88,#352b89,#352b87,#352c89,#352b88 940.5px)"></div>
<div class="c" style="left:138px;background:linear-gradient(#353dae .5px,#363399,#36359c,#3639a4,#353ba9,#3342b7,#353eae,#363aa7,#353dac,#353cab,#353dad,#3342b7,#3638a3,#363399,#36369e,#2a4bc8,#343fb2,#363aa7,#3639a5,#3638a2,#3637a0,#36369f,#353cab,#353ba9,#3242b8,#3639a6,#36359d,#3639a5,#3637a2,#3637a2,#363aa7,#353caa,#363398,#362e8e,#363194,#36349a,#3638a3,#3639a5,#36349b,#36359d,#3638a4,#363398,#3639a5,#363399,#363296,#36359c,#3638a4,#3639a4,#3340b3,#36369e,#36349b,#363195,#3637a0,#3637a2,#3637a2,#36369f,#343eb0,#3046be,#3638a3,#363296,#36349c,#3637a1,#3637a1,#3636a0,#3637a1,#353dae,#3638a2,#3341b5,#3342b6,#3639a5,#363aa6,#3639a4,#363399,#363194,#36349a,#3637a2,#36369f,#343eb0,#343fb1,#36349b,#363195,#36369e,#3639a6,#36359d,#363296,#36359c,#36349c,#363296,#363194,#363195,#2a4cc9,#3638a2,#362f91,#363398,#36369e,#36359d,#3639a5,#3636a0,#3638a2,#3341b5,#3342b6,#363398,#3636a0,#363398,#363298,#36349a,#36369f,#363194,#36369e,#36349b,#353cac,#353dac,#2e47c1,#353ba8,#36349a,#2c4ac6,#353baa,#254fce,#2f47c0,#353eaf,#353caa,#343fb0,#353eaf,#3243b9,#36339a,#353ba9,#353cab,#353dad,#343fb0,#3243b9,#3341b6,#3243ba,#363aa7,#343eaf,#3638a3,#3636a0,#3639a5,#2f47bf,#353ba9,#36359d,#353ba9,#3341b5,#363aa6,#353caa,#3144bb,#274ecc,#3440b3,#2251d2,#3639a4,#343fb1,#2f46bf,#2c4ac7,#343fb1,#2d49c4,#343eb0,#274dcc,#264ecd,#3242b8,#343eaf,#3341b4,#2c4ac6,#0266e1,#046de0,#2c4ac7,#1658d9,#3244ba,#3046be,#2450cf,#2c49c5,#254fcf,#3440b3,#1a56d7,#115adc,#3342b6,#3046be,#294cca,#353caa,#3639a6,#0267e1,#0b5edf,#2e48c1,#363aa6,#125adc,#2a4bc8,#095fdf,#036be0,#1459db,#0f5cdd,#0972de,#0c75dd,#0265e1,#1a56d7,#2f47c0,#2d48c3,#3145bc,#3638a4,#095fdf,#3244ba,#3145bc,#2b4bc7,#115bdc,#0462e1,#0266e1,#0d75dc,#117ada,#1079da,#2d49c4,#1389d3,#1480d6,#17b1b3,#137ed7,#056ee0,#0871df,#0f5cdd,#036be0,#0d75dc,#0c94d2,#0266e1,#036be0,#0760e0,#056ee0,#036be0,#095fdf,#2351d1,#125adc,#135adb,#0266e1,#0c5dde,#0d76dc,#036be1,#2a4cc9,#2d49c4,#0770df,#0f77db,#0a5fdf,#0e76dc,#1558da,#3342b7,#1459db,#2a4cc9,#353dad,#0a5fdf,#076fdf,#0972de,#066edf,#0a72de,#046ce0,#2f47c0,#046de0,#274dcb,#0562e0,#0c5ede,#0b5edf,#0761e0,#1a56d7,#127cd8,#0562e0,#06a3cb,#1079da,#095fdf,#274ecc,#343eb0,#036ae1,#117ad9,#095fdf,#3144bb,#1a56d7,#0a5fdf,#036ae1,#1079da,#0363e1,#3046be,#1459db,#0266e1,#1079da,#0860df,#0b5edf,#066fdf,#046ce0,#294cca,#2d49c4,#0f5cdd,#254fce,#3243ba,#36369f,#0267e1,#0b73dd,#254fce,#0562e0,#2e47c1,#046ce0,#089ad1,#0f78db,#105bdd,#1658d9,#3342b7,#1b55d7,#3045bd,#2450cf,#1079da,#066edf,#046de0,#264ecd,#0c5ede,#0760e0,#264fcd,#135adb,#3340b4,#0268e1,#1658d9,#0266e1,#0760e0,#095fdf,#036ae1,#128bd2,#0266e1,#2052d3,#2b4bc7,#036be1,#046ce0,#046de0,#1485d4,#128bd2,#1485d4,#137fd6,#1658d9,#2e48c2,#0760e0,#0870df,#1b55d6,#1482d5,#0267e1,#0266e1,#0f5cdd,#046de0,#2e48c2,#1a56d7,#284dcb,#2350d0,#0b5edf,#0364e1,#0860e0,#2f47c0,#2450d0,#0d75dc,#0661e0,#115bdc,#2252d2,#0265e1,#2f47c0,#2c4ac5,#0462e1,#046ce0,#0265e1,#1459da,#046ce0,#1079da,#0c74dd,#125adc,#0462e1,#2f46bf,#0f5cdd,#0d5dde,#1857d8,#066fdf,#0661e0,#0265e1,#264ecc,#0e76dc,#036be0,#056de0,#127bd9,#0265e1,#076fdf,#066edf,#0364e1,#0e77db,#0c5ede,#137ed7,#0971de,#066edf,#0363e1,#0269e1,#066edf,#117bd9,#0269e1,#2f47c0,#0761e0,#115bdc,#3244ba,#0f77db,#0770df,#066edf,#036ae1,#0266e1,#2251d1,#056de0,#2a4cc9,#127dd8,#127bd9,#254fce,#353dae,#3440b2,#2b4bc7,#0c5dde,#1e54d5,#2c4ac6,#3639a5,#3243b9,#2b4ac7,#3341b5,#3242b7,#3144bb,#2152d3,#343eb0,#3639a5,#3342b7,#3243b9,#3341b4,#2f46bf,#2450d0,#0562e0,#3046be,#3243ba,#0860e0,#2351d0,#3045bd,#2e48c2,#353eaf,#2e48c2,#2d49c4,#3145bd,#1b55d7,#3440b2,#1b55d6,#3440b2,#3639a5,#36349a,#36369f,#3639a4,#2b4bc7,#353dac,#36369f,#353cab,#2e48c2,#3639a5,#353dad,#125adc,#3243b8,#3639a5,#36349b,#353cab,#353eaf,#353cab,#3440b3,#363297,#353aa8,#3341b5,#343fb1,#3244ba,#3639a4,#3637a1,#3440b2,#3639a4,#353dad,#343eaf,#353caa,#36369e,#36369e,#343eaf,#3145bc,#363aa6,#3637a1,#3638a3,#363398,#363399,#353caa,#3639a6,#36359d,#3638a3,#36359d,#3046be,#3342b7,#2c49c5,#294cca,#3244ba,#36349b,#353ba9,#353eae,#3639a5,#343fb1,#3637a0,#3342b6,#363aa6,#353dad,#353cab,#3637a0,#3340b4,#353dad,#3638a3,#3637a0,#2e47c1,#363aa6,#36369f,#36369f,#363297,#2b4bc7,#343eaf,#353eaf,#3639a5,#353dae,#353caa,#3243b8,#363aa7,#3342b7,#2f46bf,#1d54d5,#3440b2,#363194,#3340b3,#353cab,#353dad,#3639a4,#294cca,#3637a0,#343fb0,#36359e,#362f90,#363092,#363194,#3639a6,#36349b,#3639a6,#36349a,#3638a3,#36359c,#363093,#363093,#362e8e,#363092,#362e8f,#363195,#36349b,#363092,#363399,#363399,#363297,#36349b,#363195,#363297,#363297,#363298,#362f90,#363195,#36369e,#36349b,#36349b,#3637a0,#362f91,#3637a1,#36369f,#363297,#363093,#362f91,#363094,#363296,#363296,#363195,#36349b,#3638a2,#363399,#363297,#3637a1,#363195,#363194,#36349a,#363297,#363297,#362e8f,#363093,#352d8d,#352c8a,#352b89,#352b89,#362f90,#352c8b,#352c8a,#352b89,#352b89,#352c8a,#352c8a,#352c8a,#352b89,#352b89,#352c8a,#352c8a,#352c8b,#352c89,#352c8a,#352d8c,#352c89,#352c8b,#352b89,#352c8a,#352c8a,#352c8a,#352c8a,#352c8a,#352c8a,#352b89,#352c8a,#352b88,#352c89,#352c8b,#352d8c,#352b89,#352b89,#352c8a,#352c8a,#352c89,#352c8a,#352c89,#352b89,#352d8c,#352b89,#352c8b,#352c8b,#352d8c,#352c8a,#352c8a,#352b89,#352c89,#352c8b,#352d8b,#352b89,#352b88,#352c8a,#352c8a,#352c8a,#352c8a,#352c8a,#352d8c,#352d8c,#352b89,#352b89,#352c8a,#352b89,#352b88,#352b89,#352c89,#352b88,#352c8b,#352d8c,#352d8c,#352b88,#352b89,#352c8a,#352c8a,#352c89,#352c8a,#352b89,#352b89,#352d8c,#352c8a,#352c8a,#352b88,#352c8a,#352c8b,#352c8a,#352b88,#352c8a,#352b89,#352c8b,#352c8a,#352b88,#352c8a,#352b89,#352c8a,#352b89,#352b89,#352b89,#352b89,#352c8a,#352c8b,#352b88,#352c8a,#352b89,#352b89,#352b89,#352c8a,#352c8a,#352c8a,#352c8a,#352c8b,#352c8b,#352c8b,#352c8a,#352c89,#352c8a,#352c8a,#352c8b,#352c8a,#352b89,#352b89,#352d8b,#352c89,#352c89,#352b89,#352b89,#352b89,#352c8a,#352c8b,#352b89,#352b88,#352c8a,#352c8a,#352d8b,#352c89,#352c8a,#352c8b,#352b89,#352c8a,#352b88,#352b88,#352b89,#352c8a,#352c8a,#352b89,#352b89,#352b88,#362e8e,#352b88,#352c8b,#352c8a,#352c8a,#352b88,#352c8a,#352b89,#352c8a,#352d8b,#352b89,#352c8a,#352c8b,#352b89,#352c8b,#352d8c,#352d8c,#352c8a,#352b89,#352c8a,#352b88,#352b88,#352d8c,#352d8b,#352d8c,#352c8a,#352c8b,#352c8a,#362e8f,#352b88,#352c8a,#352b89,#352b88,#352c8a,#352d8c,#352c8b,#352c8b,#352c8a,#352c8b,#352c8a,#352c8a,#352c8a,#352c8a,#352c8b,#352c89,#352d8b,#352c8a,#352b88,#352b89,#352c8a,#352b89,#352d8c,#352d8c,#352c8a,#352b89,#352b89,#352c89,#352c8b,#352c8b,#352c8a,#352c8b,#352d8d,#352c8b,#352c8a,#352b89,#352c8a,#352c89,#352c8a,#352c8a,#352b89,#352b89,#352c8b,#352c8b,#362d8d,#352c8a,#352b89,#352b88,#352c8a,#352b89,#352b88,#352b89,#352c89,#352c8a,#352b89,#352c8a,#352c8b,#352b89,#352c8a,#352d8c,#352c8a,#352d8c,#352b89,#352b88,#352c8b,#352c8a,#352c8b,#352c8a,#352b88,#352b88,#352b88,#352b88,#352b89,#352c8a,#352b88,#352b88,#352b88,#352c89,#352c8a,#352c8a,#352c8a,#352c8a,#352c8a,#352b89,#352b89,#352c89,#362e8e,#352c8a,#352c8a,#352c8b,#352b88,#352b88,#352b89,#352b88,#352d8c,#352c8a,#352c89,#352b88,#352c8b,#352c8a,#352d8d,#352d8b,#352c89,#352b89,#352c8b,#352c8a,#352b88,#352b88,#352b89,#352c8a,#352b89,#352c89,#352c8a,#352c8b,#352c8a,#352b89,#352b89,#352c89,#352c8a,#352b89,#352c89,#352b88,#352c8a,#352c8a,#352c89,#352c8a,#352c8a,#352d8c,#352c8b,#352c8a,#352c8a,#352b89,#352b89,#352c8a,#352d8c,#352c8a,#352c89,#352b88,#352d8b,#352c8a,#352c8b,#352b89,#352b88,#352b89,#352c8a,#352b89,#352b88,#352b89,#352c8b,#352c8a,#352b88,#352c8a,#362f90,#352b89,#352c8b,#352c89,#352c8b,#352c8a,#352b89,#352b89,#352b89,#352c8a,#352b88,#352b88,#352b88,#352b88,#352c8a,#352c89,#352c8a,#352c8a,#352c8a,#352c8a,#352c8a,#352c8a,#352c89,#352b89,#352b88,#352b89,#352b89,#352b88,#352c89,#352b89 940.5px)"></div>
<div class="c" style="left:172.5px;background:linear-gradient(#363aa7 .5px,#363398,#36349b,#353cab,#3638a3,#3342b6,#2351d1,#343eaf,#363194,#3440b2,#353dad,#353dad,#36349b,#3639a6,#3243b9,#363aa6,#36349b,#3637a1,#363399,#36349a,#2d49c3,#3341b4,#2d48c3,#0c5ede,#056ee0,#3243b9,#3144bb,#353dac,#353dad,#1857d8,#353cab,#0760e0,#0265e1,#3145bc,#0265e1,#125adc,#2a4bc8,#274ecc,#353baa,#2e47c1,#0267e1,#0265e1,#0860e0,#3144bb,#2f47c0,#1658d9,#1758d9,#125adc,#3242b8,#3440b3,#3637a1,#3637a1,#353baa,#353caa,#0a5fdf,#0462e1,#3046be,#3341b5,#3341b5,#274dcc,#2251d2,#3243b8,#343eaf,#3243b9,#3637a2,#3342b7,#2c4ac5,#3440b2,#3637a2,#3243b8,#0269e1,#1a56d7,#2b4bc8,#343eb0,#353eae,#3440b3,#36349b,#353dad,#066fdf,#1c55d6,#3243ba,#0661e0,#274ecc,#1e54d5,#284dca,#2a4bc8,#353dad,#3242b8,#2450cf,#274ecc,#343fb2,#2a4bc8,#353cab,#3639a4,#1459db,#343fb1,#1f53d4,#2e48c1,#274ecc,#0f5cdd,#1079da,#0860df,#3046be,#353eae,#3340b4,#0760e0,#0d5dde,#2053d4,#046ce0,#0b5edf,#095fdf,#0c5dde,#2052d3,#2350d0,#046ce0,#056de0,#036ae1,#1857d8,#2d48c3,#1f53d4,#117ad9,#0269e1,#2c49c5,#1459da,#0c74dd,#284dca,#0266e1,#026ae1,#294cca,#0b5edf,#3144bb,#0265e1,#0364e1,#353eae,#343fb0,#343fb0,#1e54d5,#3244ba,#0265e1,#0a73de,#0a72de,#1f53d4,#0265e1,#3144bc,#115bdc,#0760e0,#0d75dc,#056de0,#036ae1,#0364e1,#294dca,#135adb,#3145bd,#1b55d7,#036be0,#0972de,#117ad9,#0269e1,#0364e1,#0269e1,#036ae1,#0871df,#1559da,#036be0,#0a73dd,#0971de,#0f5cdd,#2350d0,#0d5dde,#0265e1,#0972de,#046ce0,#0268e1,#108fd2,#0971de,#0268e1,#046de0,#036be0,#0266e1,#0266e1,#0a96d1,#117ad9,#076fdf,#1658da,#2c49c5,#1857d8,#036be0,#137ed7,#0269e1,#1d54d5,#0d75dc,#0b74dd,#3045bd,#294cc9,#0b5edf,#1f53d4,#056ee0,#0269e1,#066edf,#0365e1,#0870df,#0364e1,#0269e1,#1486d4,#0661e0,#284dcb,#0d76dc,#2152d3,#0267e1,#274ecc,#274ecc,#2f47c0,#353baa,#0a72de,#0364e1,#0266e1,#046de0,#036ae1,#117ada,#117bd9,#2450cf,#0860df,#1e53d5,#2e47c1,#0c5dde,#036ae1,#0267e1,#1481d6,#127cd8,#1389d3,#0268e1,#0268e1,#2e48c1,#0363e1,#056ee0,#066fdf,#2f47c0,#135adb,#1359db,#2450d0,#056ee0,#2252d2,#2f47bf,#036be0,#0268e1,#1559da,#2152d3,#115bdc,#0269e1,#1481d6,#125adc,#3341b5,#353dae,#2350d0,#343fb0,#36359d,#3342b6,#0363e1,#1956d8,#2a4cc9,#3243b8,#2f47bf,#3145bc,#3145bc,#2251d1,#3046be,#353cab,#254fce,#2450cf,#066fdf,#095fdf,#1559da,#2e48c2,#353aa8,#2a4bc8,#353cac,#36369f,#3440b3,#046de0,#1b55d6,#1b55d7,#2d48c3,#2c4ac6,#3243b8,#3341b5,#2c49c5,#0266e1,#294cc9,#2f47c0,#066fdf,#1658d9,#2b4bc8,#0562e0,#264ecd,#2450cf,#105bdd,#0266e1,#036be0,#0265e1,#2c4ac6,#3340b3,#353aa8,#3341b4,#3440b2,#3340b3,#363aa6,#3144bb,#294cca,#3639a4,#353baa,#3638a2,#1857d9,#125adc,#2f47bf,#2f47c0,#353caa,#36349b,#3243b9,#3045bd,#3639a4,#36369f,#36359c,#363194,#36369f,#254fcf,#2450cf,#3243b8,#2a4bc8,#3340b3,#353dad,#3243b9,#353eae,#3639a5,#36349b,#363aa7,#3637a1,#36369e,#3637a1,#3639a4,#36369f,#2e47c1,#353dac,#36349a,#363399,#363399,#353baa,#36369e,#36369f,#363398,#36349c,#36349a,#363296,#363399,#353cab,#363aa7,#363aa7,#353eae,#36359e,#36359c,#363399,#363195,#363194,#3638a3,#353ba8,#3638a3,#3636a0,#362f90,#363092,#362f90,#363195,#363297,#3637a1,#353ba9,#36359c,#36359c,#363092,#36369f,#3440b2,#353cab,#3638a3,#353aa8,#36369e,#36339a,#36359c,#363297,#362e8f,#36349b,#363195,#362d8d,#3637a0,#3639a6,#2f46bf,#36369e,#363093,#3637a2,#363399,#362e8f,#36339a,#363aa7,#363aa7,#36349c,#362f91,#363194,#363195,#36369f,#36359c,#363399,#363399,#363297,#363296,#362f90,#362f91,#362e8d,#362e8f,#362f91,#352d8d,#363194,#363092,#362e8f,#362e8f,#362e8e,#362f90,#362e8f,#363092,#363194,#362e8e,#362f91,#362f90,#362e8f,#362d8d,#363195,#362e8e,#363093,#362f91,#352d8c,#362e8e,#363092,#362e8e,#362f91,#362f91,#363092,#363195,#363195,#363194,#362f90,#362e8e,#352c8b,#352d8c,#352d8c,#362e8e,#352c8a,#352c89,#352c8b,#352b89,#352b89,#352b88,#352b88,#352b88,#352b88,#352b89,#352b87,#352b88,#352a87,#352b88,#352b88,#352a87,#362e8e,#352b88,#352b88,#352b87,#352b88,#352b88,#352b87,#352b87,#352b87,#352b88,#352b87,#352a87,#352b88,#352b88,#352b89,#352b89,#352b88,#352b87,#352b88,#352b89,#352b88,#352c89,#352b88,#352b88,#352b89,#352a87,#352d8c,#352b87,#352b88,#352b88,#352b88,#352a87,#352b88,#352a87,#352b88,#352b87,#352a87,#352b88,#352b88,#352b88,#352b89,#352b88,#352b87,#352b88,#352b87,#352b89,#352b88,#352a87,#352b89,#352b88,#352a87,#352b89,#352c8a,#352b87,#352b88,#352b87,#352a87,#352b88,#352b87,#352b87,#352b88,#352b88,#352a87,#352b87,#352b87,#352b88,#352b88,#352a87,#352d8c,#352b89,#352b87,#352b88,#352b89,#352b89,#352c89,#352b88,#352b89,#352b87,#352b87,#352b87,#352a87,#352a87,#352b87,#352b89,#352d8c,#352b89,#352b88,#352b87,#352a87,#352b87,#352b89,#352a87,#352b89,#352b87,#352b89,#352b89,#352a87,#352a87,#352b87,#352b88,#352a87,#352b87,#352b89,#352b89,#352a87,#352b88,#352b88,#352b88,#352b88,#352b87,#352b88,#352b87,#352b88,#362f91,#352b87,#352c8a,#352b87,#352b87,#352b89,#352b87,#352a87,#352b88,#352c89,#352b87,#352b88,#352b87,#352b88,#352c8b,#352b88,#352b87,#352b88,#352b88,#352b88,#352b88,#352b88,#352b88,#352a87,#352b88,#352b88,#352b87,#352b88,#352a87,#352a87,#352b88,#352b87,#352b88,#352b88,#352b89,#352b87,#352b87,#352b88,#352b89,#352b88,#352b88,#352b88,#352a87,#352b89,#352b88,#352b87,#352b88,#352a87,#362e8e,#352b88,#352b87,#352b88,#352b87,#352b88,#352b88,#352b87,#352a87,#352a87,#352a87,#352c89,#352b88,#352b87,#352a87,#352b88,#352b87,#352b87,#352b87,#352c89,#352b88,#352b88,#352b87,#352b88,#352b88,#352b87,#352b88,#352b87,#352b88,#352b87,#352b89,#352b89,#352c8b,#352b88,#352b88,#352b87,#352b88,#352b87,#352a87,#352b88,#352b87,#352b87,#352a87,#352c8a,#352b87,#352b87,#352b88,#352b88,#352b88,#352b88,#352b89,#352b88,#352a87,#352a87,#352c8a,#352b89,#352b87,#352b89,#352b88,#363092,#352b88,#352b87,#352c8a,#352a87,#352b89,#352b88,#352b88,#352b87,#352b88,#352b88,#352b88,#352b88,#352a87,#352a87,#352a87,#352b88,#352a87,#352b87,#352b89,#352c8b,#352b88,#352b88,#352b88,#352b88,#352b87,#352b87,#352b87,#352a87,#352b87,#352b89,#352b88,#352b88,#352b87,#352b89,#352b88,#352a87,#352b89,#352b88,#352b87,#352b88,#352c89,#352b87,#352b87,#352c8a,#352b88,#352b87,#352b87,#352b89,#352b88,#352b89,#352b88,#352b87,#352a87,#352b88,#352b89,#352b89,#352b87,#352b88,#352d8d,#352b88,#352b88,#352b89,#352b88,#352b87,#352b87,#352b88,#352c8a,#352b88,#352b87,#352b87,#352a87,#352a87,#352a87,#352b88,#352b87,#352b89,#352b88,#352b87,#352b88,#352b88,#352b88,#352a87,#352b89,#352b88,#352b88,#352c8a,#352b88,#352b88,#352b88,#352b88,#352b88,#352b88,#352a87,#352b88,#352b88,#352b88,#352b89,#352b87,#352b89,#352b87,#352b88,#352b87,#352b88,#352b88,#352b88,#352b88,#352b88,#352b89,#352c8a,#352c8b,#362e8e,#352d8c,#352c8b,#363092,#36359d,#36359d,#3639a5,#36349a,#3637a0,#3639a4,#363398,#363195,#3637a1,#36349b,#363399,#353aa8,#363399,#3639a5,#363398,#362f91,#363296,#362f91,#363194,#363091,#362f91,#363194,#362e8f,#352c8b,#362d8d,#352d8d,#352d8c,#352d8c,#362f91,#362e8e,#352d8b,#352d8c,#352c8b,#362e8d,#352d8c,#352d8d,#352c8b,#352d8c,#362e8f,#362e8e,#352c8a,#352d8d,#362d8d,#352c8a,#352d8c,#352c8a,#352c8a,#352c8b,#352d8c,#352c89,#352d8b,#362d8d,#352d8c,#352c8b,#352c8a,#352c8b,#362e8f,#362e8f,#352d8b,#352d8c,#352c8b,#352c8b,#362f90,#362e8e,#352c8a,#352d8c,#362e8f,#352d8c,#352d8c,#362e8d,#352c8b,#352d8c,#352c8b,#362f91,#362e8f,#362e8e,#352d8d,#352d8c,#352c8a,#352d8c,#352c8a,#352c8a,#352d8d,#352d8d,#352d8b,#352d8b,#352c8a,#362e8e,#352d8c,#352d8c,#352d8d,#362f90,#362e8f,#352d8d,#352d8c,#362e8f,#352d8d,#352d8c,#352c8a,#352d8b,#362e8f,#362f90,#362e8f,#352d8d,#352d8b,#352c8b,#352d8c,#352d8b,#352d8c,#362f91,#362f90,#362e8e,#362e8f,#362e8f,#352d8c,#352d8c,#352d8d,#352d8c,#352c8a,#352c8a,#352d8c,#352d8d,#352d8b,#362e8f,#362f90,#362f90,#362e8e,#362d8d,#362d8d,#362e8e,#3637a2,#352c8b,#352c8a,#352c8a,#362d8d,#352d8c,#352c8b,#352c8b,#362e8e,#362e8f 940.5px)"></div>
<div class="c" style="left:207px;background:linear-gradient(#0870df .5px,#046ce0,#0363e1,#066edf,#1c55d6,#2c4ac6,#0266e1,#0c74dd,#0363e1,#0971de,#066edf,#1388d3,#118dd2,#036ae1,#0267e1,#2e48c2,#0e91d2,#1481d6,#0a72de,#066edf,#076fdf,#036be0,#2052d3,#1757d9,#0871de,#076fdf,#0d76dc,#0e77db,#0269e1,#0a5edf,#1459da,#0a72de,#046ce0,#0268e1,#0f77db,#1079da,#0265e1,#036ce0,#0e5dde,#2f47c0,#2b4bc7,#0268e1,#1389d3,#0e5cde,#137dd8,#0f77db,#2152d2,#0c5dde,#056ee0,#0267e1,#0268e1,#3341b4,#0266e1,#0269e1,#0b5edf,#0860df,#0364e1,#0d5dde,#066edf,#0a96d1,#069ece,#1079da,#0870df,#0364e1,#1857d9,#353ba9,#0870df,#108ed2,#1486d4,#2052d3,#2f46bf,#0d5dde,#0266e1,#294cc9,#1e54d5,#0661e0,#127cd8,#046ce0,#056ee0,#0363e1,#137fd7,#0997d1,#0364e1,#076fdf,#1483d5,#08aac0,#1482d5,#1484d4,#118dd2,#0972de,#0363e1,#0a5fdf,#2251d2,#046de0,#056de0,#0269e1,#0c74dd,#0f77db,#0d5dde,#105bdd,#135adb,#254fce,#128bd3,#1481d5,#0e76db,#118dd2,#0c74dd,#2450cf,#0a73dd,#046de0,#128cd2,#1486d4,#0268e1,#2b4bc8,#1486d4,#0f8fd2,#0661e0,#117ad9,#066fdf,#117ad9,#0e77db,#0f5cdd,#0d5dde,#0998d1,#036be0,#0268e1,#0871de,#095fdf,#036be0,#137dd8,#046de0,#137dd8,#1758d9,#066edf,#127cd8,#0b73dd,#2a4cc8,#0661e0,#1486d4,#1078da,#06a5c8,#0f77db,#135adb,#056de0,#0267e1,#137dd7,#1b55d6,#0d75dc,#0d76dc,#0e76dc,#0364e1,#0b74dd,#0a72de,#2c4ac6,#2c4ac5,#353eae,#1559da,#1d54d5,#0972de,#0266e1,#036be0,#0b73dd,#036ae1,#1c55d6,#3341b5,#2f47c0,#2a4cc9,#3242b8,#343fb2,#3045bd,#353dad,#0760e0,#1559da,#3243b8,#353cab,#343fb2,#0364e1,#1c55d6,#3638a4,#2d49c3,#3243b9,#3638a4,#274ecc,#3341b6,#3341b4,#3341b5,#3636a0,#36369e,#036ae1,#0267e1,#3045bd,#3045bd,#2152d2,#3440b2,#343fb2,#363398,#3639a6,#36369f,#363399,#36359d,#363195,#36359c,#3639a4,#36369f,#36359c,#363399,#363aa7,#3639a4,#36369e,#36359d,#3637a2,#363296,#343fb1,#36369f,#363298,#363194,#343fb1,#363aa6,#353ba8,#3637a1,#3638a2,#363398,#353dad,#3638a2,#363297,#363194,#363398,#353dad,#353cab,#3638a4,#36359c,#363aa6,#3639a4,#363399,#363092,#36349a,#353dac,#3637a1,#36369f,#363297,#343fb1,#353baa,#363399,#362e8f,#363399,#363399,#36369e,#363297,#36359d,#36359c,#363092,#36359d,#3639a5,#36349c,#353baa,#343eaf,#36359d,#36349b,#343fb2,#353ba9,#363398,#363399,#363398,#363398,#362e8f,#353caa,#36359e,#3637a1,#3340b3,#3638a3,#353dad,#353cab,#3342b6,#36369e,#36359e,#363093,#353ba8,#36359c,#363195,#36349b,#343fb0,#353ba9,#343fb1,#363aa7,#353dac,#36349b,#353baa,#3638a3,#36349a,#363297,#36359d,#363195,#363196,#362f91,#363398,#363399,#362f91,#363296,#362e8e,#352d8c,#363398,#362f91,#363297,#362f90,#352d8c,#362f91,#362f90,#363296,#36339a,#363092,#363092,#36339a,#36369f,#363092,#362d8d,#363399,#3639a4,#362f90,#362d8d,#363092,#362e8e,#363298,#363297,#363092,#363398,#363399,#363297,#363093,#362f90,#36349b,#363195,#362e8f,#362f91,#362e8e,#362d8d,#363092,#362e8e,#362f90,#363092,#362f90,#363297,#362f91,#352d8d,#352d8c,#352c8a,#352c8b,#352c89,#352c8a,#352b87,#352b88,#352b88,#352b88,#352b89,#352c8a,#352b88,#352b89,#352a87,#36349a,#352b88,#352b88,#352a87,#352b88,#352a87,#352c8a,#352c8a,#352b88,#352b87,#352b87,#352b89,#363195,#352b87,#352b88,#352a87,#352b89,#352b88,#352b88,#352c8a,#352b88,#352b89,#352b88,#352b88,#352b87,#352b87,#352b87,#352b87,#352a87,#352a87,#352b88,#352b88,#352a87,#352b87,#352b87,#352b87,#352a87,#352b88,#352b88,#352b88,#352c8a,#352b89,#363194,#362f90,#352a87,#352b88,#352b87,#352a87,#352b88,#352b88,#352b88,#352b88,#352b87,#352b88,#352b88,#352b89,#352b88,#352c8b,#352a87,#352b88,#352b89,#352b87,#352b88,#352b88,#362d8d,#352b89,#352a87,#352b87,#352a87,#352a87,#352b88,#352b88,#362e8f,#352b88,#352b87,#352b88,#352b88,#352b87,#352b88,#352a87,#352b88,#352b88,#352b88,#352b88,#352a87,#352b89,#362d8d,#352b89,#352b89,#352b88,#352a87,#352b89,#352b88,#363092,#352b88,#352b87,#352b88,#352b87,#352b88,#352b88,#362e8f,#352b88,#352b87,#352a87,#352a87,#352b88,#352b87,#352c89,#352b88,#352a87,#352a87,#352a87,#352b87,#352b87,#352b87,#352b89,#352a87,#352c8a,#352b89,#352b88,#362f91,#352b89,#352b88,#352c8a,#352b88,#352a87,#352b88,#352b88,#352b87,#352b88,#352b88,#352b88,#352b89,#352a87,#352b89,#352b88,#352b87,#352b89,#352c89,#352b87,#352b88,#352c8a,#352b88,#352b88,#352b87,#352c8a,#352b88,#352b88,#352b89,#352b88,#352b88,#352b88,#352b88,#352b88,#352a87,#352b88,#352b88,#352a87,#352b88,#352b88,#352b88,#352b88,#352b88,#352b89,#352b88,#352b87,#352b88,#352a87,#352b89,#352b88,#352b87,#352c8a,#352b87,#352c8a,#352b88,#352b87,#352b87,#352a87,#352b87,#352b88,#352b88,#352b88,#352c8a,#352b88,#352a87,#352b88,#352b89,#352b88,#352b88,#352b87,#352b89,#352a87,#352b88,#352b88,#352b88,#352a87,#352b87,#352b88,#352b88,#352b87,#352b87,#352b87,#352b88,#352b87,#352b87,#352b88,#352b89,#352b87,#352b88,#352c89,#352b88,#352b88,#352b88,#352b88,#352a87,#352b88,#352b89,#352b88,#352a87,#352b88,#352b88,#352b87,#352b88,#352b87,#352b88,#352b89,#352b88,#352b88,#352c8b,#352a87,#352b87,#352b89,#352a87,#352c8a,#352b89,#352b88,#352b87,#352b88,#352b88,#352b88,#352b88,#352b88,#352b88,#352b87,#352b88,#352b87,#352b87,#352c89,#352b89,#352b88,#352a87,#352b88,#352b87,#352a87,#352b88,#352b88,#352b88,#352b89,#352b87,#352b88,#352b87,#352b88,#352b88,#352b88,#352b88,#352b87,#352b89,#352b88,#352b88,#352b89,#352b88,#352a87,#352b89,#352c8a,#352a87,#352b87,#352b89,#352b87,#352b87,#352b88,#352b87,#352b88,#36349c,#352b88,#352b89,#352a87,#352b87,#352a87,#352b88,#352b88,#352b89,#352b87,#352b89,#352b89,#352b89,#352b88,#352a87,#352b89,#352b87,#352b88,#352c89,#352b88,#352b87,#352b88,#352b87,#352b88,#352c8a,#352b89,#352c89,#352c8a,#352b88,#352b88,#352b88,#352b88,#352a87,#352b89,#352b88,#352b88,#352b89,#352c8b,#352c89,#352b88,#352b89,#352c89,#352b88,#352b88,#352b89,#352b89,#362d8d,#352d8c,#352d8d,#362d8d,#352c8b,#362f90,#352d8c,#362f91,#352c8b,#352d8d,#362e8f,#362f90,#362e8e,#352c8b,#352c8a,#362e8e,#362e8e,#362f90,#362e8e,#362f90,#362f91,#352c8b,#352d8c,#362e8e,#362e8f,#352d8c,#352d8d,#352c8b,#352c89,#362e8e,#362f90,#362e8d,#362e8e,#352c8a,#352d8b,#352d8c,#352c8b,#362e8f,#36349a,#362e8e,#363093,#362f90,#362e8d,#352c8b,#362e8f,#352d8c,#352d8c,#352c8a,#352c8b,#362e8f,#362f90,#352d8c,#362f90,#362f91,#362e8f,#362e8e,#363092,#363093,#362e8e,#363296,#362e8f,#362e8e,#352c8a,#362f91,#362e8e,#352d8d,#362f90,#352c8b,#352d8c,#352d8b,#352d8c,#362f91,#362e8f,#3243b9,#363296,#362f91,#352c8a,#352d8c,#362f90,#352d8d,#362f8f,#362f91,#352d8c,#352d8c,#363093,#362f91,#352d8c,#352c8b,#352c8b,#352d8d,#352c8b,#352d8c,#362e8e,#362e8e,#362f91,#352d8d,#352d8c,#362e8f,#352d8c,#363092,#352c8b,#362f90,#352d8d,#352d8c,#352c8a,#352d8c,#362e8f,#362e8f,#362f90,#362d8d,#363091,#362e8e,#352d8c,#362e8f,#362d8d,#362e8e,#362f90,#352d8d,#352d8c,#362e8d,#362f90,#352d8d,#352c8a,#352d8c,#352d8c,#362e8e,#362d8d,#362e8f,#362e8e,#363093,#362e8e,#352d8d,#362e8f,#362e8f,#363093,#352d8b,#362e8e,#352c8b,#362e8e,#362f90,#362e8e,#362d8d,#352d8d,#362f90,#362f91,#352d8d,#362d8d,#362f90,#352d8d,#362d8d,#362f91,#352c8a,#352b89,#363194,#362f91,#352d8b,#362e8d,#352d8c,#362d8d,#352d8c,#352d8c,#362e8e,#362e8f,#352d8d,#352d8d,#362e8e,#363195,#362f90,#362e8e,#362f90,#362f90,#362f90,#352d8b,#362d8d,#362d8d,#362f90,#362e8e,#362f90,#363296,#362e8f,#362e8e,#352d8c,#352b89,#362d8d,#362e8f,#362f90,#362f90,#352d8c,#352d8c,#352c8a,#362e8f,#352d8c,#362e8e,#362e8e,#362f90,#362e8f,#352d8c,#363296,#363092,#362e8e,#352c8b,#363093,#362f90,#362e8e,#363092,#362e8e,#362f91,#362e8e,#362e8f,#362e8d,#362e8e,#362e8e,#352d8b,#362f90,#362d8d,#352d8c,#362e8e,#362e8e,#362e8f,#363194,#362e8f,#363194,#352d8d,#352c8a,#352d8c,#352d8c,#362e8f,#362e8f,#352d8c,#352d8d,#362e8f,#362f90,#362e8e,#352d8c,#352d8c,#352d8c,#352d8c,#362e8e,#362e8e,#362e8f,#362d8d,#352d8c,#362e8f,#362e8e,#362e8f,#362e8f,#352d8c,#352c89,#362e8f,#363093,#363092,#362e8d,#362f90,#363092,#352d8d,#352d8b 940.5px)"></div>
<div class="c" style="left:241.5px;background:linear-gradient(#117bd9 .5px,#1485d4,#066fdf,#066fdf,#1482d5,#127cd9,#1758d9,#127cd9,#135adb,#06a3ca,#1483d5,#2450d0,#2d49c4,#117ad9,#1487d3,#0268e1,#0364e1,#0d75dc,#0770df,#056ee0,#137fd7,#127cd8,#137dd8,#1485d4,#1485d4,#0365e1,#0266e1,#1e54d5,#128ad3,#1079da,#137ed7,#128bd3,#127dd8,#1f53d4,#066fdf,#0267e1,#137fd7,#2351d1,#3145bc,#0a5fdf,#284dcb,#2251d1,#2e48c2,#3243b9,#3243b9,#2d49c4,#2c4ac5,#353cab,#2450cf,#0972de,#046ce0,#2c4ac6,#343eaf,#0c5dde,#274dcb,#046ce0,#0b74dd,#284dcb,#274dcb,#0b5edf,#2b4bc7,#0761e0,#1079da,#0268e1,#127bd9,#056de0,#0269e1,#1857d8,#0d5dde,#1956d8,#3242b8,#046ce0,#254fce,#135adb,#1b55d6,#2350d0,#1956d8,#0760e0,#0266e1,#036be0,#066edf,#1d54d6,#2d49c4,#3144bb,#274dcb,#3144bb,#343eaf,#3342b6,#343fb2,#363aa6,#353dac,#353dad,#353ba9,#284dca,#353cab,#363093,#3342b7,#2b4bc8,#3243b9,#2c4ac5,#3638a3,#3639a5,#3145bc,#353cac,#363399,#3243b8,#3242b8,#353dad,#3639a5,#3637a0,#36359d,#362e8f,#3342b7,#3440b3,#1c55d6,#294cca,#353cab,#3637a1,#3638a4,#353eae,#353eaf,#353caa,#343fb1,#3440b2,#3144bb,#363aa6,#3242b7,#363aa7,#353ba9,#3637a1,#363297,#3243b8,#3243b9,#363aa7,#3638a3,#3639a6,#3636a0,#36369f,#36369e,#3639a5,#353ba8,#36369f,#3637a1,#353dad,#353caa,#36359d,#363296,#352d8d,#36349c,#3638a3,#36349c,#363093,#363296,#363296,#363297,#36349a,#362f90,#362f90,#36359d,#36359e,#36349a,#363298,#363195,#3341b5,#363399,#363093,#363398,#363092,#362f91,#363092,#362f90,#363093,#362f90,#36349b,#363194,#363195,#363398,#362f91,#363092,#363398,#362f90,#362f91,#363093,#363398,#36369e,#36349a,#362f91,#363399,#36369f,#363298,#362e8f,#362f90,#36349b,#363093,#363194,#352d8d,#352d8d,#352d8c,#352c8b,#352b89,#352b88,#352b88,#352b89,#352a87,#362e8e,#352b88,#352b88,#352b87,#352b88,#352b88,#352b88,#352a87,#352b88,#352b88,#362f91,#352b88,#352b87,#352b88,#352b89,#352b89,#352b88,#352b88,#352b88,#352b89,#352b89,#352b88,#352b88,#352b88,#352b87,#352b88,#352b88,#352b88,#352b88,#352b87,#352b88,#352b88,#352b87,#352b88,#352b88,#352c8a,#352b87,#352a87,#352b88,#352c89,#352b88,#352b87,#352b89,#36359d,#352c89,#352b87,#352b88,#352b88,#352b87,#352b88,#352b88,#352b88,#352b89,#352a87,#352b87,#352b87,#352b88,#352b88,#352b88,#352b87,#352b88,#352b87,#352b88,#352b89,#352b88,#352b88,#352c89,#352c89,#352a87,#352c89,#352b88,#352b88,#352b88,#352b88,#352c89,#352b88,#352b87,#352d8b,#352b87,#352b88,#352b87,#352b88,#352b88,#352b88,#352b88,#352a87,#352b87,#352c8a,#352b88,#352b88,#352b88,#352a87,#352b88,#352b88,#362f91,#352b88,#352b88,#352c8a,#352b87,#352b87,#352b88,#352c8a,#352a87,#352b88,#352b88,#352b87,#352b88,#352b88,#352b88,#352a87,#352b87,#352b87,#352b89,#352b88,#352b89,#352b87,#352b88,#352b88,#352b89,#352b88,#352b89,#352b89,#352b87,#352b88,#352b88,#352b88,#352b89,#352a87,#352b89,#352b88,#352b88,#352c8a,#352b88,#352b87,#352c8a,#352b88,#352b89,#352c89,#352a87,#352b88,#352b88,#352b89,#352a87,#352a87,#352b88,#352b89,#352b88,#352a87,#352b88,#352b88,#352b88,#352b88,#352b87,#352b88,#352b88,#352b88,#352b88,#352a87,#352b87,#352b89,#352a87,#352b87,#352b88,#352b88,#352b88,#352b87,#352b88,#352b87,#352b88,#352b87,#352a87,#352a87,#352b88,#352b87,#352b88,#352b87,#352a87,#352a87,#352b88,#363194,#352b88,#352b89,#352b88,#352a87,#352b88,#352b88,#352b88,#352b88,#352b88,#352a87,#352b88,#352b87,#352a87,#352b87,#352a87,#352b88,#352b87,#352b87,#352b87,#352b87,#352b89,#352b88,#352b88,#352c89,#352b89,#362d8d,#352b89,#352b87,#352a87,#352a87,#352b89,#352b88,#362e8d,#352b87,#352b87,#352b87,#352b89,#352b88,#352b88,#352b89,#352b88,#352a87,#352b88,#352b88,#352b88,#352b88,#352b88,#352c8a,#352b87,#352b88,#352b88,#352c8a,#352b88,#352b87,#352a87,#352b87,#352b88,#352b88,#352b89,#352b89,#352b88,#352b87,#352b88,#352b88,#352c89,#352a87,#352b89,#352b88,#352b88,#352b89,#352b88,#352a87,#352b87,#352b88,#352b88,#352b87,#352b87,#352b88,#352a87,#352b87,#352b88,#352b88,#352b87,#352b88,#352b87,#352b88,#352a87,#352b89,#352a87,#352b88,#352a87,#352b89,#352b88,#352b87,#352b89,#352b89,#352b88,#352b87,#352c89,#352c89,#352b87,#352b88,#352a87,#352b88,#352b88,#352b88,#352b87,#352a87,#352b89,#352b88,#352b87,#352b88,#352b87,#352a87,#352b87,#352b88,#352b87,#352b88,#352b88,#363297,#352b89,#352b89,#352b87,#352b88,#352b88,#352b88,#352b88,#352b87,#352b89,#352b88,#352b88,#352b87,#352b88,#352a87,#352b87,#352a87,#352c8a,#352c89,#352b88,#352a87,#352a87,#352b88,#352b88,#352a87,#352b88,#352b87,#352a87,#352b88,#352b88,#352b88,#352b87,#352b88,#352b88,#352b88,#352b88,#352b89,#352b88,#352b88,#352b88,#352b88,#352b87,#352b89,#352b88,#352b87,#352c89,#352a87,#352b87,#352a87,#352b88,#352b87,#352c8a,#352b89,#352c8a,#352b89,#352b88,#352b88,#352b89,#352b88,#352b87,#352b87,#352b87,#352a87,#352b88,#352b88,#352b88,#352b88,#352b87,#352b89,#352b89,#352b87,#352b87,#352b88,#352b87,#352b89,#352b88,#352b88,#352c8a,#362d8d,#352b88,#352d8c,#352b89,#352b88,#352b89,#352b88,#352b87,#352b87,#352a87,#352b87,#352b89,#352b88,#352b89,#352b88,#352c8a,#352b89,#352b88,#352b87,#352a87,#352c8a,#352b88,#352a87,#352b88,#352b87,#352b88,#352b88,#352b87,#352b87,#352b88,#352a87,#352b87,#352b89,#352b88,#352b87,#352b87,#352b87,#352b87,#352b87,#352b89,#352b89,#352b87,#352b89,#352b88,#352a87,#352b88,#352b88,#352b88,#352b88,#352b87,#352b88,#352b88,#352b87,#352b87,#352b88,#352b87,#352b88,#352b88,#352b88,#352b87,#352b88,#352b88,#352b88,#352b88,#352b88,#352b89,#352b89,#352b88,#352b88,#352a87,#352a87,#352a87,#352b88,#352b88,#352b88,#352b88,#352b88,#352a87,#352b88,#352b87,#352b88,#352b89,#352b87,#352b88,#352b88,#352b87,#352c8a,#352b87,#352b88,#352b89,#352b88,#352a87,#352b87,#352b89,#352b87,#352c89,#352b88,#352b88,#352b88,#352a87,#352b88,#352b88,#352a87,#352c89,#352b88,#352b88,#352b88,#352b88,#352b88,#352b89,#352a87,#352c8a,#352b88,#352b87,#352a87,#352c8b,#352b88,#352b89,#352b89,#352a87,#352b87,#352b87,#352a87,#352b88,#352b87,#352b88,#352b88,#352d8b,#352a87,#352b88,#352b88,#352b89,#352b87,#352b88,#352a87,#352b88,#352b89,#352b88,#352b88,#352a87,#352b88,#352a87,#352b87,#352b89,#352a87,#352b88,#352a87,#352b87,#352c89,#352b88,#352b89,#352b87,#352b87,#352b88,#352b89,#352b88,#352b88,#352a87,#352b87,#352b88,#352b88,#352b89,#352b88,#352b88,#352a87,#352c8a,#352b87,#352b88,#352b87,#352b87,#352b89,#352a87,#352b87,#352a87,#352b88,#352a87,#352b88,#352b87,#352b89,#352b88,#362e8e,#352c8a,#352b87,#352b88,#352c8a,#352b88,#352b89,#352b88,#352b88,#352b88,#352b87,#352b88,#352b88,#352b88,#352b89,#352b87,#352b87,#352d8b,#352a87,#352b88,#352c89,#352b88,#352b87,#352b88,#352d8c,#352d8b,#352b88,#352b88,#352b87,#352b88,#352b88,#352b88,#352b89,#352b88,#352b88,#352b87,#352b88,#352b89,#352c89,#352c89,#352c89,#352d8c,#362e8e,#363092,#362e8e,#362e8f,#362e8e,#362e8e,#363296,#363194,#363093,#3636a0,#363297,#36349a,#363195,#363297,#363092,#363093,#362f90,#362f91,#362f91,#362e8f,#363195,#3636a0,#363297,#362e8f,#362e8e,#362f90,#363194,#363092,#362f90,#363398,#36349a,#343fb0,#3638a3,#3638a4,#36359d,#36369e,#3144bb,#353dae,#353eaf,#3637a2,#353cab,#3639a4,#3637a1,#3243ba,#353eaf,#3046be,#2d49c5,#353eae,#3636a0,#36359d,#343fb1,#3045bd,#3637a2,#353ba9,#3639a6,#36369e,#3342b6,#2d48c3,#3638a2,#3639a5,#36349a,#3342b6,#1d54d5,#353dac,#353ba9,#353ba9,#36369f,#36369f,#36359d,#363399,#3243b9,#3637a0,#353ba8,#363aa7,#294cca,#353ba9,#3341b5,#3440b3,#363aa7,#353caa,#3639a5,#36349a,#36359d,#3440b3,#363296,#363296,#353ba8,#353eae,#36349c,#3639a4,#343fb0,#353dad,#3440b3,#3341b6,#2450cf,#3145bc,#264fcd,#3342b6,#353dac,#3341b5,#3145bc,#3637a1,#363296,#3341b4,#2152d3,#105bdd,#0269e1,#0b5ede,#2450d0,#0266e1,#3046be,#105bdd,#1857d8,#2251d1,#3340b4,#264fcd,#2c4ac6,#274ecc,#1e54d5,#0b73dd,#0363e1,#1559da,#105bdd,#046de0,#0266e1,#137dd8,#135adb,#046ce0,#0760e0,#046ce0,#0b5edf,#3341b5,#353cab,#0770df,#0760e0,#3242b8,#2b4bc7,#0b73dd 940.5px)"></div>
<div class="c" style="left:276px;background:linear-gradient(#1b55d6 .5px,#0770df,#0266e1,#0a5fdf,#2d49c4,#3046be,#3342b7,#1459db,#353ba9,#3340b3,#353ba8,#2c4ac6,#254fce,#353dad,#36359e,#363398,#36339a,#353baa,#353ba8,#353eaf,#3341b4,#3046be,#353cab,#343fb1,#353eae,#353aa8,#3440b3,#1459da,#2152d2,#1957d8,#3342b7,#2052d3,#0267e1,#294cc9,#0860df,#089bd0,#1480d6,#0266e1,#137ed7,#1b55d6,#0c74dd,#127cd8,#1857d8,#0a72de,#0972de,#2e48c2,#0761e0,#0265e1,#125adc,#0364e1,#125adc,#036be0,#0265e1,#0265e1,#3342b7,#0363e1,#1b55d6,#3440b2,#343eaf,#3046be,#2d48c3,#343fb1,#3637a2,#36349b,#3341b5,#343fb2,#36349c,#3243b9,#2f47c0,#3341b6,#3342b7,#3046be,#3046be,#2d49c4,#0972de,#0b74dd,#274dcc,#36349a,#2251d1,#1a56d7,#294cca,#2b4bc7,#095fdf,#274ecc,#2c4ac7,#105bdd,#076fdf,#1857d8,#1757d9,#0462e1,#1a56d7,#2a4cc9,#1d54d5,#343fb0,#353ba8,#353ba9,#353ba9,#353dad,#3639a5,#353baa,#343fb1,#3637a1,#3639a4,#36369f,#36349a,#363196,#363399,#36369e,#363297,#36359c,#36349b,#363093,#3637a2,#363297,#363296,#363194,#363194,#363aa7,#36359c,#36369e,#363398,#353aa8,#353baa,#36369f,#363398,#363093,#362f91,#363093,#363092,#363296,#363398,#36359c,#36369f,#36349a,#36349b,#3638a3,#363296,#363398,#363195,#363296,#3636a0,#363093,#363195,#363296,#363296,#3639a6,#3342b6,#36339a,#36349b,#36349a,#363398,#353baa,#3638a3,#363194,#3341b5,#3145bc,#343eaf,#36369f,#2e48c2,#284dcb,#353caa,#353eae,#353ba8,#3242b8,#2b4bc7,#3341b5,#353dad,#0365e1,#3045bd,#3341b4,#105bdd,#0268e1,#343eaf,#3144bb,#2f47c0,#0363e1,#2152d2,#353eaf,#3243ba,#343eaf,#1658da,#343fb1,#363aa7,#2e47c1,#284dcb,#343fb1,#363298,#36349c,#362f90,#3636a0,#3637a1,#353dac,#363296,#36349a,#3639a5,#3342b7,#36359e,#3637a1,#3440b3,#36349b,#343fb1,#3243b9,#294cca,#1b56d7,#2c4ac6,#2d48c3,#254fce,#3243b9,#3045bd,#0363e1,#3341b5,#105cdd,#3046be,#353eae,#115bdd,#2251d2,#1e54d5,#2052d3,#2152d2,#363aa7,#3341b4,#2f46bf,#2f47c0,#353cab,#36349a,#3144bb,#343eb0,#2d49c4,#2e47c1,#2d49c4,#353dad,#3637a0,#353dae,#3144bb,#3637a0,#353cab,#353ba8,#1a56d7,#3244ba,#36349b,#3639a4,#363399,#36349a,#353baa,#3243ba,#274ecc,#3341b4,#2c4ac7,#343eaf,#3243b8,#294cc9,#3639a5,#36349a,#363398,#3637a1,#3639a5,#36369e,#363aa6,#36369f,#363194,#363296,#363297,#36359e,#363093,#363297,#36359c,#353ba9,#3637a1,#36349a,#36349a,#363296,#362f91,#362f91,#363297,#36369e,#36359c,#3639a4,#363296,#363092,#3342b7,#343eaf,#36369f,#362f91,#362e8e,#362f90,#36359c,#363195,#363093,#3637a1,#363093,#362f90,#363296,#362f91,#363195,#363194,#363195,#362e8f,#352c8b,#362e8e,#362f90,#363092,#363297,#363091,#363094,#362f91,#363092,#362f91,#363296,#362e8d,#362f91,#362f90,#362f91,#363093,#362e8f,#362f90,#362e8f,#362e8e,#352d8c,#352c8b,#362f90,#362e8f,#362e8f,#363092,#362f90,#362e8f,#362e8f,#363399,#363195,#363195,#362e8e,#362f90,#362f91,#363093,#362d8d,#363092,#362e8f,#352d8c,#352c8b,#352c8a,#352c89,#352d8d,#352b88,#352b88,#352a87,#352b88,#352b87,#352b88,#363194,#352b88,#352b87,#352b88,#352b87,#352b87,#352b88,#352b87,#352b88,#352b87,#352b87,#352a87,#352b87,#352c8a,#352b87,#352a87,#352b89,#352b89,#352b88,#352a87,#352b87,#352a87,#352a87,#352b88,#352b87,#352b88,#352b88,#352b88,#352a87,#352b88,#352b88,#352a87,#352b89,#363092,#352b89,#352b88,#362f91,#352a87,#352b87,#352c8a,#352b89,#352c89,#352b88,#352c8a,#352b88,#352b88,#352b88,#352b89,#352a87,#352a87,#352b87,#352b88,#352b87,#352c89,#352b87,#352b88,#352b87,#352b87,#352c8a,#352a87,#352a87,#352b88,#352c89,#352b88,#352b88,#352b89,#352b88,#352b88,#352b87,#352b88,#352b88,#352a87,#352b88,#352a87,#352b89,#352b88,#352b88,#352b88,#352a87,#352b87,#352b87,#352b89,#352b87,#352b88,#352c8a,#352b89,#352b89,#352b88,#352b88,#352b88,#352c8a,#352b87,#352a87,#352a87,#352b87,#352a87,#352b87,#352b88,#352b87,#352b89,#352b88,#352b88,#352b87,#352a87,#352a87,#352b87,#352b88,#352b87,#352d8c,#352b89,#352b88,#352d8d,#352a87,#352b88,#352b87,#352b88,#352b88,#352b87,#352b88,#352b88,#352b88,#352b88,#352b87,#362d8d,#352c8a,#352c8a,#352b89,#352b89,#352a87,#352a87,#352b88,#352a87,#352b87,#352b87,#352b88,#352b88,#352b88,#352a87,#352b88,#352c89,#352b87,#352c89,#352b87,#352c8a,#352b88,#352b88,#352a87,#352a87,#352b87,#352b89,#352b87,#352b87,#352b88,#352b88,#352b88,#352c8b,#352a87,#352b89,#352c8a,#352b88,#352a87,#352b88,#352a87,#352b87,#352b87,#352b88,#352b88,#352b88,#352b87,#352c89,#352b87,#352c89,#352c89,#352b89,#352b88,#352b88,#352b88,#352b88,#352b87,#352b88,#352b87,#352b88,#352c8b,#352b87,#352b87,#352b87,#352b88,#352a87,#352b88,#352b88,#352b87,#352b89,#352b88,#352b88,#352b87,#352b88,#352b87,#352b87,#352b89,#352b87,#352b87,#362e8e,#352b89,#352b88,#352b87,#352c89,#352b88,#362e8e,#352b88,#352b87,#352b88,#352b88,#352b89,#352b87,#352b88,#352b87,#352b88,#352b87,#352a87,#352a87,#352b87,#352b89,#352b87,#352b88,#352a87,#352a87,#352b87,#352a87,#352b88,#352b87,#352b88,#362d8d,#352a87,#352b88,#352b88,#352a87,#352b88,#363093,#352b88,#352b89,#352a87,#352b88,#352b88,#362e8f,#352b88,#352b88,#352b87,#352b88,#352b88,#352b88,#352b87,#352d8c,#352a87,#352b88,#352b88,#352b87,#352b88,#352b87,#352b89,#352b88,#352a87,#352b87,#352b88,#352b89,#352b88,#352b89,#352b89,#362e8e,#352a87,#352b89,#352b88,#352b88,#352b88,#352b88,#352b88,#363092,#352b88,#352b89,#352b87,#352b88,#352b88,#362e8f,#352b88,#352b88,#352b88,#352b89,#352b88,#352a87,#352b87,#352a87,#352b87,#352b88,#352b89,#352b87,#352b87,#352a87,#352b88,#352b89,#363297,#352b87,#352b88,#352b88,#352b89,#352b88,#352b88,#352b88,#352b89,#352c8a,#352b88,#352a87,#352b87,#352b88,#352b88,#352b88,#352b88,#352b88,#352b88,#352b87,#352a87,#352b89,#352b87,#352b88,#352b88,#352c8b,#352a87,#352b88,#352b88,#352b88,#352b87,#352b88,#352b88,#352b88,#352b88,#352b87,#352b87,#352b87,#352b89,#352b88,#352b88,#352c8a,#352d8b,#362e8d,#362e8f,#363297,#36359d,#363297,#363196,#363398,#3637a0,#363194,#363093,#363195,#363398,#362f91,#36369f,#36359c,#363093,#363195,#363399,#363195,#363195,#363296,#36359d,#3638a2,#36359d,#363398,#36349b,#363297,#363399,#363398,#363398,#353ba9,#3637a1,#36369e,#3637a1,#3637a1,#363093,#362f91,#36359c,#363297,#3639a5,#362f91,#363195,#363298,#363092,#363398,#36369e,#353cac,#3637a1,#3440b3,#353cab,#353dac,#3637a0,#343fb2,#3341b6,#363aa6,#363194,#353ba9,#353caa,#353aa8,#36359c,#274ecc,#343eaf,#2f47c0,#2053d4,#3145bd,#3637a1,#343fb1,#36369e,#363297,#3638a4,#3342b6,#2f46bf,#363aa6,#3639a5,#3638a2,#363296,#363aa6,#3046be,#3145bc,#36359c,#363399,#36349a,#3636a0,#3639a6,#3637a1,#363aa7,#343fb2,#343fb1,#36369f,#3045bd,#2d49c4,#3639a5,#363093,#363195,#3637a0,#343fb1,#343fb1,#2a4cc8,#353cab,#353ba8,#274ecc,#2d49c5,#2e48c2,#3046be,#3638a2,#3637a1,#2e48c2,#1857d8,#0e5cde,#0a5fdf,#0661e0,#2450cf,#0f5cdd,#2c4ac7,#343fb1,#046ce0,#0269e1,#3243b9,#0e5cde,#0971de,#0462e1,#2c4ac6,#3243b8,#264ecd,#2e47c1,#353cab,#2f46bf,#0266e1,#1a56d7,#284dca,#3341b5,#1e54d5,#2e48c1,#0d76dc,#1486d3,#0f78db,#026ae1,#0364e1,#026ae1,#0e91d2,#0e77db,#3045bd,#0267e1,#0b74dd,#0268e1,#0266e1,#0e5dde,#066ee0,#118ed2,#0268e1,#1658d9,#056de0,#1e54d5,#117ada,#0f78db,#0770df,#0363e1,#0266e1,#117bd9,#0a5fdf,#3046bf,#274ecc,#2152d2,#0364e1,#2350d0,#0a72de,#0266e1,#343fb1,#3637a1,#105cdd,#046ce0,#0a73de,#0267e1,#1079da,#137fd6,#066edf,#2450d0,#343eaf,#108ed2,#0760e0,#056ee0,#089ad0,#128bd2,#0267e1,#0265e1,#069ece,#0a73dd,#1484d4,#0770df,#0761e0,#0972de,#0e91d2,#0e92d2,#1079da,#066edf,#138ad3,#137ed7,#0c74dd,#0b95d2,#0cadbc,#1483d5,#0268e1,#036ae1,#105bdd,#1079da,#1484d4,#128bd2,#0363e1,#117ada,#127bd9,#0265e1,#0e77db,#0d76dc,#1388d3,#1482d5,#127bd9,#0972de,#0562e0,#125adc,#0860e0,#127cd8,#0998d1,#127cd8,#0f77db,#036ae1,#066fdf,#1482d5,#0998d1,#06a5c8,#036be1,#0c74dd,#0b73dd,#1c55d6,#2252d2,#137ed7,#0268e1,#0365e1,#127cd8,#1388d3,#0267e1,#1480d6,#036be1,#0266e1,#0b5edf,#0e76dc,#0a72de,#0871de,#3244ba,#0d5dde,#0269e1,#0269e1,#264fcd,#056de0 940.5px)"></div>
<div class="c" style="left:310.5px;background:linear-gradient(#363093 .5px,#362f91,#362e8f,#362e8f,#362e8e,#352d8b,#363297,#362f90,#362f91,#352d8d,#363195,#36349b,#363092,#363195,#362f91,#352d8c,#363092,#362e8f,#352c8a,#362e8e,#362d8d,#363194,#362e8d,#362f90,#363195,#362f91,#362e8f,#362e8f,#362e8e,#362f91,#362f90,#352d8d,#363093,#363297,#363092,#352d8c,#363195,#36349c,#363195,#363093,#363195,#363092,#363298,#36359d,#36369f,#363194,#36349c,#363399,#36349b,#362f91,#363194,#363399,#353ba8,#3639a5,#363297,#363092,#363398,#363399,#363194,#3638a2,#363195,#363398,#363297,#362f91,#363398,#363398,#363398,#3637a0,#363195,#362f91,#362f8f,#363195,#363399,#362f90,#352c8b,#363398,#362f90,#363398,#363398,#362f91,#3637a0,#3636a0,#363398,#3638a3,#363398,#362f91,#363093,#362f91,#36349b,#36359e,#3638a2,#343eaf,#3638a4,#363195,#36339a,#363296,#362f91,#352c8b,#352c8a,#363092,#362e8e,#362e8e,#362f90,#362f91,#362f90,#362d8d,#362e8e,#352d8c,#352d8c,#362e8f,#362e8e,#352d8d,#363092,#362f90,#363093,#362e8e,#362e8e,#352c8b,#352d8d,#362f90,#362e8f,#352d8b,#352d8b,#362e8e,#352d8c,#362e8f,#352d8c,#352d8c,#362e8e,#352d8c,#352c8a,#362e8f,#362f90,#362e8e,#362e8e,#362e8d,#352d8b,#363092,#362f91,#352d8c,#362d8d,#362e8e,#352b89,#362e8e,#362f91,#362e8e,#352d8d,#352c8b,#352c8b,#352d8d,#363092,#362f91,#362e8f,#363092,#362e8e,#363194,#363093,#362e8e,#362e8f,#362e8f,#363195,#36349b,#352d8d,#362d8d,#363093,#362f8f,#363092,#36359e,#363093,#363194,#36349a,#363298,#363194,#3342b7,#36349c,#36359d,#36359c,#353cac,#3637a1,#36349b,#36359c,#363194,#363092,#363194,#36349a,#36369f,#363399,#36349a,#3638a2,#363399,#36349a,#362f91,#362f90,#36349a,#36359d,#36359d,#363297,#36359c,#363296,#3638a2,#353cac,#3144bb,#353dac,#036ae1,#2f47c0,#36369e,#353ba9,#343fb2,#3440b3,#343eaf,#353dae,#0661e0,#0e76db,#264ecd,#3637a1,#3045bd,#2b4bc7,#3341b4,#2f46bf,#343fb0,#0561e0,#2a4cc9,#2450cf,#264fcd,#2a4bc8,#0f5cde,#105bdd,#2a4cc9,#2a4cc9,#0d5dde,#3340b3,#343fb0,#343fb1,#3638a2,#363296,#36359d,#36349b,#2e48c2,#2d49c3,#343fb2,#274ecc,#3639a6,#2e47c1,#353eae,#36349c,#3637a1,#2f47c0,#363aa6,#3243ba,#274ecc,#2350d0,#3045bd,#353dac,#363aa7,#3242b8,#3341b6,#0d5dde,#3440b3,#36359e,#0562e0,#2152d2,#2f46bf,#353ba9,#3144bb,#2c4ac6,#343fb1,#2251d1,#036be1,#036ae1,#0364e1,#2c4ac6,#3046be,#2e48c2,#353ba9,#353dac,#3639a4,#3638a3,#1a56d7,#3145bc,#3637a1,#3637a0,#3341b5,#3639a5,#3637a1,#1c55d6,#274ecc,#3639a5,#363399,#2f47c0,#1459da,#115bdc,#2251d2,#2052d3,#2d49c5,#105bdd,#3242b8,#3340b3,#2c4ac6,#046ce0,#1658d9,#254fce,#0268e1,#3046be,#0268e1,#1957d8,#036be1,#056de0,#0d75dc,#0871de,#0363e1,#117bd9,#117ad9,#0364e1,#2f47c1,#2450d0,#0871de,#0363e1,#274dcb,#274ecc,#0e91d2,#0363e1,#2b4ac7,#3342b7,#353baa,#3638a3,#0a73dd,#0b74dd,#1359db,#2d49c3,#3144bb,#3342b7,#2d49c5,#3342b6,#0870df,#0770df,#0269e1,#1857d8,#1c55d6,#1b55d7,#3341b5,#2c4ac5,#095fdf,#2e48c2,#0e5dde,#0267e1,#254fcf,#0770df,#0770df,#343fb0,#3340b4,#0e76dc,#0d5dde,#0363e1,#294cc9,#1d54d5,#2b4bc8,#3045bd,#1758d9,#3045bd,#3045bd,#3342b6,#3340b3,#36369e,#362e8f,#362e8f,#363092,#36349b,#36349b,#363092,#36349b,#362e8f,#352d8b,#363195,#363093,#362f90,#362f91,#363194,#363093,#362e8f,#363194,#363194,#363298,#3638a2,#363296,#343fb1,#2c4ac5,#2e48c2,#36349a,#3440b2,#3340b4,#36369f,#363297,#3638a2,#3243b9,#343eb0,#3340b4,#3340b3,#363aa7,#343fb0,#363aa6,#3637a0,#3341b5,#2d49c3,#353dae,#3639a5,#3638a2,#343fb0,#3637a1,#2e48c1,#3341b5,#3637a2,#343fb1,#3145bc,#343eaf,#363aa7,#353cab,#353cac,#353ba8,#3636a0,#3638a2,#353cac,#3243ba,#2c4ac5,#2f46bf,#2450cf,#363aa7,#353dad,#353caa,#353cab,#36349a,#36369e,#3638a4,#36359c,#36339a,#363399,#3341b4,#353ba8,#3637a2,#363297,#36359c,#36359d,#363398,#353ba9,#353cac,#363194,#363399,#353eaf,#363296,#363196,#353caa,#36369f,#363298,#36369f,#363093,#36349a,#36349b,#363195,#363093,#36349b,#3636a0,#363194,#36349b,#363092,#353aa8,#3639a5,#36359d,#363398,#363297,#36369e,#3639a6,#363092,#363398,#363194,#362e8e,#362f8f,#362e8e,#363194,#36339a,#362f90,#362f91,#352c8b,#362e8e,#362d8d,#362f90,#362e8e,#352d8d,#363195,#363296,#362f91,#362f91,#363092,#362f90,#363194,#362e8f,#352d8c,#352d8c,#352c8a,#352d8c,#362e8f,#362e8e,#362d8d,#352d8c,#352d8c,#363194,#363092,#362e8f,#362f91,#362e8e,#362f90,#363092,#352d8c,#363194,#363195,#362f91,#362e8e,#362f90,#362e8f,#362f90,#363398,#362f90,#352d8c,#352d8c,#352c8a,#352c8a,#363092,#362f90,#352d8c,#362e8e,#362e8e,#352d8d,#352c8b,#362f91,#352d8d,#362d8d,#362f91,#363093,#362f90,#363296,#362f91,#362f91,#362f91,#362f91,#362f91,#362f91,#352d8d,#352c8b,#362f90,#362f91,#362f90,#362f90,#363296,#362e8f,#362e8e,#362e8d,#362e8f,#362e8d,#352d8c,#362d8d,#362e8e,#352d8c,#363093,#362e8e,#352c8a,#352b89,#362e8e,#363091,#362f90,#362f91,#363093,#362e8e,#362f90,#362e8d,#352d8c,#352c8a,#362e8e,#363398,#362e8f,#352d8d,#362f90,#362f91,#362e8e,#352d8c,#352c8a,#352d8c,#363194,#362f90,#352c8b,#363092,#363398,#363398,#362f91,#362e8e,#363297,#363398,#36349c,#363194,#3638a3,#3637a0,#3639a6,#36359e,#36369f,#353ba9,#3638a3,#363aa7,#353cab,#3637a1,#353dad,#36359e,#363195,#36349a,#363194,#363195,#36359c,#363398,#363399,#36369f,#36349b,#36369f,#353cab,#3637a1,#363296,#343fb0,#3341b5,#36349b,#363296,#363194,#3637a1,#3638a3,#3637a0,#363195,#363195,#3636a0,#353baa,#3639a5,#363398,#363398,#363296,#3637a0,#363399,#36359d,#343fb1,#353cab,#36369e,#363aa6,#343eaf,#353eae,#353dad,#343fb2,#36369e,#36369e,#3341b5,#363aa7,#3636a0,#36359c,#36349b,#36369e,#363297,#363399,#3636a0,#353ba9,#36339a,#36369e,#3145bc,#2e48c2,#353dad,#353caa,#353caa,#353dac,#3244ba,#3045bd,#3440b3,#3440b3,#284dcb,#284dcb,#2c49c5,#353cab,#3341b5,#3242b8,#3639a5,#36369f,#3242b7,#2b4bc7,#353dac,#3639a5,#2351d1,#3243b8,#363aa7,#353eae,#1558da,#2c4ac6,#353cac,#36369f,#3637a1,#343fb0,#353caa,#1857d9,#3341b5,#36349b,#363296,#3341b4,#353aa8,#343fb1,#343fb2,#3342b7,#0363e1,#1757d9,#3342b7,#3342b7,#1757d9,#3145bc,#0871de,#0a5fdf,#1857d8,#0e76dc,#1d54d6,#137ed7,#0760e0,#2152d2,#0661e0,#2a4bc8,#0266e1,#036be0,#0f5cde,#3342b7,#0e5dde,#2152d3,#343fb1,#3244ba,#3342b7,#2450cf,#2f47c0,#264ecd,#0870df,#0269e1,#0363e1,#066edf,#0266e1,#0363e1,#056ee0,#2a4bc8,#2f46bf,#0a72de,#056de0,#274ecc,#3342b7,#294cc9,#0363e1,#026ae1,#0770df,#0364e1,#0a5edf,#2f47bf,#254fce,#0870df,#1484d4,#0365e1,#2c4ac7,#036ae1,#036ae1,#1b55d7,#2c4ac6,#0972de,#0d5dde,#108ed2,#118dd2,#0266e1,#127cd8,#137ed7,#0a73de,#0770df,#1484d4,#08abc0,#1079da,#108ed2,#069fce,#0e76dc,#274ecc,#1079da,#0269e1,#117ad9,#0c74dd,#1079da,#0f77db,#0899d1,#1484d4,#0c74dd,#0c94d2,#06a2cc,#0d75dc,#069fce,#036be0,#127bd9,#1481d6,#1485d4,#0364e1,#137dd8,#284dcb,#036be0,#0d76dc,#137fd6,#046ce0,#0a5fdf,#117ad9,#1ab2b1,#0b96d1,#1480d6,#046de0,#0e76db,#0f77db,#0871de,#1487d3,#127cd8,#0462e1,#08aac1,#1480d6,#1487d3,#0266e1,#1079da,#0871df,#0860df,#2a4bc8,#2e48c3,#118cd2,#0c74dd,#066fdf,#137fd6,#036ae1,#0d5dde,#1481d6,#138ad3,#127cd8,#115bdc,#3440b3,#0364e1,#115bdc,#0a72de,#1079da,#1079da,#0f78db,#0b73dd,#046ce0,#0e77db,#046ce0,#353dad,#1480d6,#06a3ca,#0f8fd2,#0c75dd,#056de0,#0363e1,#1d54d6,#0363e1,#0661e0,#0265e1,#0268e1,#0b73dd,#0364e1,#0d92d2,#0e77db,#0871de,#1c55d6,#0998d1,#0770df,#1a56d7,#264ecd,#0c74dd,#1483d5,#0267e1,#1078da,#0269e1,#2251d1,#026ae1,#127bd9,#0269e1,#2152d2,#046ce0,#0a73de,#115bdc,#0860df,#2d49c4,#3243b8,#3340b4,#3341b6,#0860df,#0462e1,#1857d8,#036be0,#2a4bc8,#1857d8,#0d76dc,#046de0,#2c4ac6,#056ee0,#0c74dd,#0960df,#0b5edf,#2e48c2,#254fce,#3637a1,#2d49c4,#046ce0,#0268e1,#0269e1,#0871df,#2053d3,#0265e1,#294dca,#353dac,#2e48c2,#2d49c4,#0365e1,#0267e1,#125adc,#2f46bf,#0e5dde,#3342b7,#2e48c2,#343eaf,#2c4ac5,#2450cf,#264ecd,#284dca,#0761e0,#0364e1,#1658d9,#2b4bc7,#254fce,#2c4ac6,#294cca,#036be1,#1957d8,#0364e1,#284dcb,#1c55d6,#343fb0,#3046be,#2d49c4,#0363e1,#0f78db,#0265e1,#3243b9 940.5px)"></div>
<div class="c" style="left:345px;background:linear-gradient(#352c8a .5px,#352b87,#352b88,#352b87,#352a87,#352b88,#352b87,#352b89,#352b88,#352b89,#352b89,#352b88,#352b88,#352b87,#352a87,#352a87,#352b88,#352b88,#352b87,#352c8b,#352a87,#352b88,#352b88,#352b88,#352b87,#352b89,#352b88,#362e8d,#352b88,#352b87,#352b88,#352b87,#352b88,#352b88,#352b88,#352b87,#352b88,#352c89,#352c89,#352b87,#352a87,#352b88,#352b88,#352b88,#362f91,#352b87,#352a87,#352b88,#362e8e,#352b88,#352b87,#352b88,#352b87,#352b88,#352b87,#352b89,#352b88,#352b88,#352c8a,#352b88,#352b88,#352b88,#352b88,#352a87,#352b88,#352b89,#352b87,#352a87,#352b89,#352b89,#352b88,#362e8f,#352b88,#352b87,#352a87,#352b88,#352b87,#352b87,#352b89,#352b88,#352a87,#352b89,#352b88,#362e8f,#352b88,#352b87,#352a87,#352b88,#352b88,#352b87,#352c8a,#352b88,#352b87,#352b89,#352a87,#352a87,#352a87,#352b87,#352a87,#352b87,#352b88,#352b88,#352a87,#352b88,#352b87,#352b88,#363195,#352b88,#352b89,#352b89,#352c8a,#352b88,#352b87,#352b87,#352b88,#352c8a,#352c8a,#362f91,#362f91,#352d8d,#362e8f,#362d8d,#36359d,#363093,#363194,#36369e,#363194,#363093,#362f90,#363398,#36349b,#363195,#363195,#363093,#363092,#363194,#362e8e,#363092,#363297,#362e8f,#363296,#36359c,#363399,#363093,#362f90,#362e8e,#363093,#36359e,#363093,#353eaf,#36349a,#363296,#363195,#363297,#3637a0,#362e8f,#363194,#363194,#363093,#363194,#363194,#362f91,#363092,#363092,#352d8c,#36349b,#362f90,#362f91,#363195,#36349b,#363297,#352d8c,#362f8f,#363296,#362f90,#362e8f,#362f90,#362f90,#352d8d,#363092,#362e8f,#363092,#362f90,#363297,#363398,#363194,#363195,#362e8e,#362e8e,#352d8c,#362f90,#363092,#362f90,#352d8d,#363093,#362e8e,#352c8b,#362f91,#362f90,#363093,#362e8f,#362f91,#362f91,#362e8f,#352d8c,#362e8f,#363195,#363297,#362f90,#362e8e,#352d8b,#362e8f,#352d8d,#352d8c,#362e8f,#362f90,#363092,#352d8c,#362f90,#362f90,#362f91,#362d8d,#352c8a,#352c8b,#352c8b,#352d8c,#352d8c,#352d8d,#352d8d,#352c8a,#362f90,#362d8d,#352d8d,#362f91,#352d8c,#352c8a,#362d8d,#352d8c,#362e8e,#352c8b,#362e8e,#362f90,#362e8f,#362e8e,#352d8d,#352d8c,#362e8d,#352d8d,#362e8f,#362e8f,#352c8b,#352d8d,#362e8f,#352d8c,#352d8c,#352c8a,#352d8c,#362e8e,#362e8d,#363093,#362f91,#362e8e,#352c8b,#352d8c,#362e8e,#352c8b,#352c8b,#352c8b,#352c89,#362e8f,#352d8c,#352d8c,#352c8b,#352d8d,#352c8a,#352d8c,#362e8e,#352c8a,#363092,#362e8e,#352c8b,#352c8a,#352c8b,#352d8c,#352d8c,#352d8b,#362e8e,#362e8e,#352c8b,#363296,#352d8b,#352d8c,#362e8f,#362e8f,#352d8c,#352d8c,#352d8d,#352d8d,#362e8e,#362e8f,#362e8e,#352c8b,#352c8b,#362f91,#362d8d,#352d8d,#352d8c,#352c8b,#352c8b,#362d8d,#352d8c,#352c8b,#352c8b,#362e8e,#352d8c,#352c8b,#352c89,#362d8d,#352d8c,#352d8d,#362e8e,#352d8c,#352c8a,#362d8d,#352c8b,#352d8c,#352c8b,#352d8c,#362e8d,#362e8e,#352c8b,#352c8b,#362f91,#362f90,#362e8f,#362e8e,#362e8e,#362e8e,#362e8e,#362f91,#352d8d,#352c8b,#352c8b,#352d8c,#352d8c,#352c8b,#352d8c,#352c8b,#362e8e,#362e8e,#352c8a,#362e8e,#362e8e,#352d8c,#362d8d,#352d8c,#362e8f,#352c8b,#352d8b,#352d8d,#362e8f,#362d8d,#352d8c,#352d8d,#362e8e,#352d8c,#352c8b,#352d8c,#352c89,#352d8d,#362f90,#352c8a,#352c8a,#362e8d,#352d8c,#362e8e,#352d8d,#362e8d,#352d8c,#352d8d,#352c8a,#352d8d,#352d8d,#352c8a,#352d8c,#352d8c,#352c8b,#352c8b,#362f90,#352d8c,#352d8c,#362e8f,#362e8f,#352d8c,#362e8e,#352c8b,#352d8c,#352d8c,#352d8c,#352d8b,#362f90,#352c8b,#362f90,#352d8d,#362d8d,#352c8a,#362f90,#362e8f,#352d8d,#362f90,#362f90,#363093,#362e8f,#352c8b,#352d8c,#352d8c,#352c8b,#352d8b,#352c8b,#352c89,#352c8b,#352d8c,#352c8b,#362d8d,#352d8c,#362e8f,#352d8c,#352d8c,#352d8b,#352d8c,#352d8d,#362e8f,#362e8e,#352d8b,#362d8d,#362e8e,#362d8d,#362f90,#352c8b,#352d8c,#352d8d,#352d8c,#352d8b,#362e8e,#352d8d,#352d8c,#352d8d,#362e8f,#362f91,#352d8d,#352c8b,#352b89,#363091,#362e8e,#362d8d,#352d8c,#352c8b,#352d8c,#352d8d,#352d8d,#352c8b,#352c8b,#352d8c,#352d8c,#362e8e,#362e8f,#362e8f,#352d8c,#352c8a,#362d8d,#363092,#3636a0,#363297,#363398,#363296,#36369e,#36339a,#363298,#362e8e,#363297,#363195,#362e8f,#363092,#363092,#363399,#363093,#363297,#363093,#363296,#363092,#363092,#363093,#36349a,#363aa7,#36369e,#363092,#363296,#363092,#362f91,#363093,#363093,#362f90,#363195,#363092,#363093,#363093,#363194,#3639a4,#36349b,#3639a6,#353cac,#36369f,#363aa7,#363aa7,#3638a4,#3638a2,#36359d,#36359c,#3639a5,#3637a2,#362f91,#3639a4,#363aa6,#353baa,#3639a4,#3638a2,#36369f,#353dac,#353aa8,#36369f,#363093,#3638a3,#363aa7,#353cac,#36359d,#363296,#353ba8,#363398,#3638a3,#36369f,#3637a1,#353ba8,#3440b2,#36349b,#3638a2,#36349a,#3638a2,#343eaf,#3340b3,#353dac,#363aa6,#3639a5,#353ba9,#363aa6,#3243b8,#3340b3,#353dad,#36369f,#363195,#36359c,#363297,#363398,#3440b3,#36349c,#36349c,#353cac,#353ba9,#353caa,#363194,#363aa7,#36349c,#363297,#353caa,#3636a0,#353ba9,#3243b9,#343fb2,#3144bb,#2152d2,#0d5dde,#2c49c5,#274ecc,#343fb1,#2450cf,#3342b7,#2f47bf,#343fb1,#353cac,#353ba8,#3243ba,#2c4ac6,#3638a3,#363399,#3637a1,#0267e1,#2a4bc8,#353eaf,#2f46bf,#294cc9,#1757d9,#2a4bc8,#353dad,#353caa,#36359d,#0269e1,#2152d2,#2a4cc9,#353cab,#3045bd,#2a4cc9,#0267e1,#1e54d5,#2c4ac7,#3045bd,#3637a2,#3342b6,#1957d8,#284dca,#353dad,#1559da,#0e76dc,#0f5cde,#1b55d6,#274ecc,#095fdf,#056ee0,#046ce0,#0d75dc,#0a5fdf,#254fce,#1481d5,#0a96d1,#0f78da,#1459db,#0363e1,#0b5edf,#0770df,#2251d1,#264fcd,#0268e1,#0265e1,#0562e0,#0363e1,#1485d4,#1a56d7,#3440b3,#1459db,#0268e1,#127dd8,#137dd8,#1484d4,#0971de,#1559da,#353dad,#066fdf,#115bdc,#0661e0,#066fdf,#036be0,#1388d3,#095fdf,#284dca,#117ada,#0269e1,#1480d6,#137ed7,#0e77db,#1079da,#0e91d2,#118ed2,#1481d6,#1484d4,#11afb8,#45bb96,#14b0b5,#0d76dc,#127dd8,#0462e1,#0a73de,#069ece,#127bd9,#0c94d2,#06a1cd,#3fba9a,#0d92d2,#069fce,#069fce,#1483d5,#07aac2,#137dd8,#0269e1,#0c74dd,#118cd2,#07a9c3,#6cbf82,#09abbf,#06a1cd,#079dcf,#28b6a7,#0c94d2,#137dd8,#0badbc,#1482d5,#0c75dd,#0f77db,#0f90d2,#06a7c5,#22b4ab,#06a5c8,#06a7c6,#06a3cb,#18b1b3,#06a3ca,#0997d1,#5bbd8b,#77bf7e,#57bd8d,#1389d3,#0562e0,#0f90d2,#1483d5,#1485d4,#108fd2,#1078da,#1480d6,#1389d3,#0a96d1,#30b7a3,#08aac0,#41bb98,#07aac1,#a0be6d,#0899d1,#0b95d2,#127dd8,#1484d4,#6abe83,#3ab99d,#3cba9b,#06a2cb,#15b0b5,#18b2b2,#06a6c7,#80bf7a,#0badbc,#128ad3,#1482d5,#069ece,#1481d6,#0c93d2,#117ada,#0c74dd,#1388d3,#0b96d1,#0a97d1,#08aac0,#1389d3,#1484d4,#0770df,#06a6c6,#06a5c8,#07aac1,#0e91d2,#079cd0,#06a2cb,#118dd2,#046ce0,#12afb7,#0d93d2,#08abc0,#14b0b5,#1484d4,#10afb8,#0e92d2,#079ccf,#0269e1,#079ecf,#36b99f,#23b5ab,#2cb7a5,#b7bd63,#46bb95,#069fce,#1484d4,#0998d1,#1388d3,#0dadbb,#96bf71,#18b1b2,#c5bc5e,#0c94d2,#1482d5,#06a8c4,#1079da,#0f77db,#1481d6,#0f78db,#0d76dc,#127bd9,#137ed7,#06a7c5,#079ecf,#0f77db,#1484d4,#06a0cd,#137fd7,#0b73dd,#2350d0,#0c5dde,#056ee0,#127bd9,#0364e1,#0c5ede,#0c5dde,#036be0,#2a4cc9,#0a5fdf,#105bdd,#2251d1,#0960df,#1b55d6,#0265e1,#0267e1,#0871de,#0364e1,#3045bd,#343fb1,#0b5edf,#2a4bc8,#3638a3,#0d76dc,#274ecc,#3637a1,#353dae,#363aa7,#363092,#3243b8,#1f53d4,#2351d1,#3045bd,#254fce,#3638a3,#2d48c3,#353cab,#2f47bf,#353ba8,#363297,#363194,#115bdc,#3045bd,#353dad,#2f47bf,#1c55d6,#3342b7,#353dae,#3340b4,#343fb2,#1c55d6,#2152d2,#3243b8,#2e47c1,#2c4ac6,#3243b8,#3341b4,#3639a6,#0e5dde,#353dad,#3636a0,#363297,#3637a1,#363399,#343fb0,#36369f,#353dad,#36369f,#36349c,#363297,#3637a0,#3638a4,#36339a,#3636a0,#3637a2,#36359d,#36349a,#363297,#3440b2,#353cab,#36369f,#3341b6,#3638a3,#36349a,#36349c,#36349b,#353dac,#3639a6,#363195,#363195,#353ba9,#3637a1,#353dae,#3637a2,#36359d,#36349b,#36369f,#3636a0,#363195,#3341b5,#36359c,#363092,#353ba9,#36369f,#3637a0,#36359d,#363297,#36369e,#3639a5,#363398,#363398,#362e8e,#36349b,#3636a0,#36359c,#363195,#363195,#36359d,#363195,#352d8c,#36349b,#363297,#363297,#363297,#363aa7,#363298,#362f91,#362f91,#36349b,#36359c,#3639a5,#36359d,#363297,#362e8f 940.5px)"></div>
<div class="c" style="left:379.5px;background:linear-gradient(#352b89 .5px,#352b89,#352b87,#352b88,#352b88,#352b88,#352b89,#352a87,#352b89,#352b88,#352b88,#352b88,#352b87,#352b87,#352c8a,#352b88,#352b88,#352b88,#352b88,#352b88,#352b89,#352b87,#362f90,#352c89,#352b88,#352b87,#352b88,#352b88,#352a87,#352b88,#352a87,#352b88,#352b87,#352b87,#352b88,#352b88,#352b87,#352b88,#352b88,#352b88,#352b89,#352b88,#352a87,#352b88,#352b88,#352b87,#352c89,#352b87,#352b88,#352b88,#352b87,#352b87,#352b88,#352b89,#352a87,#352b88,#352b88,#352b87,#352a87,#352b89,#352d8d,#352b88,#352b87,#352a87,#352b88,#352b89,#352b88,#352b89,#352b88,#352b88,#352b88,#352c8b,#352b88,#352a87,#352b88,#352b88,#352b87,#352c8a,#352b88,#352b89,#352b88,#352b88,#352b87,#352b88,#352b88,#352b89,#352a87,#352b88,#352b88,#363195,#362f91,#352b87,#362f91,#352b87,#352b89,#352b88,#352b87,#352b88,#352b88,#352b87,#352b88,#362e8f,#352b89,#352b89,#352b87,#352b87,#363092,#352b89,#352c89,#352b88,#352b87,#352b88,#352a87,#352b87,#352b88,#352b87,#352b87,#352b88,#352a87,#352b88,#352c89,#352b88,#352b88,#352b87,#352b88,#352b88,#352b88,#362f8f,#352a87,#352c89,#352b88,#352b88,#352b89,#363399,#352b88,#352b88,#352b87,#352b87,#352b88,#352b88,#352c8a,#352b88,#352c8a,#352b89,#362e8e,#352b88,#352b88,#352b87,#352b87,#352b87,#352b88,#352b87,#352b88,#352b88,#352b88,#352c89,#352b88,#352c89,#352b87,#352b88,#352b87,#352b87,#352b87,#352b88,#352b87,#352b87,#352b87,#352b88,#352a87,#352a87,#352b87,#352b87,#352b89,#352b87,#352b87,#352b87,#352b88,#352b89,#352b89,#352b88,#352b87,#352c8a,#352b88,#352b87,#352b88,#352b88,#352b89,#352b88,#352b87,#352a87,#352b88,#352b88,#352c89,#352b88,#352b87,#352b87,#352b89,#352b88,#352b88,#352b87,#352b87,#352b89,#352c8a,#352b88,#352b88,#352a87,#352c89,#363093,#352b87,#352b87,#352c8a,#352c89,#352b87,#352a87,#352b87,#352b88,#352b87,#352b89,#352b88,#352c8a,#352b89,#352c89,#352b88,#352a87,#352c89,#352c8a,#352b87,#352a87,#352b88,#352b87,#352b87,#352b88,#352b88,#352c8a,#352b88,#352b88,#352b87,#352b88,#352b87,#352b87,#352b88,#36359c,#352b88,#352b89,#352b87,#352b88,#352b88,#352b88,#352c8a,#352b87,#352b88,#352a87,#352b87,#363296,#352b89,#352b88,#352b89,#352b87,#352b88,#352b88,#352b88,#352b87,#352b87,#352a87,#352b89,#352b88,#352b88,#352b87,#352a87,#352b89,#352a87,#362e8e,#352b88,#352a87,#352c8a,#352b88,#352a87,#352a87,#352b88,#352d8c,#352b87,#352a87,#352b87,#352b88,#352a87,#352b87,#352b89,#352b88,#352b87,#352b87,#352b88,#352b88,#352b87,#352b88,#352b88,#352a87,#352b88,#352d8c,#352b87,#352a87,#352b88,#352b88,#352b89,#352b88,#352c89,#352a87,#352a87,#352a87,#352b88,#352b87,#352b88,#352b87,#352b88,#352c8a,#352b89,#352b88,#352b87,#352b88,#352b87,#352b88,#352b88,#352b87,#352b88,#362e8e,#352b87,#352b88,#352b87,#352b88,#352a87,#352b87,#352b88,#352b87,#352b88,#352b88,#352b88,#352a87,#352b88,#352b88,#352b88,#352b89,#352b88,#352b88,#352b88,#352b88,#352b87,#352b88,#352b88,#352d8d,#352b89,#352b88,#352b87,#352a87,#352b87,#352b88,#352b87,#352a87,#352b89,#352b88,#363092,#352b89,#352a87,#352b88,#352b88,#352b89,#352b88,#352b88,#362f91,#352b88,#352c8a,#352b88,#352b89,#352c8b,#362e8f,#352d8c,#363398,#363195,#363093,#363398,#36359d,#36339a,#363298,#36369f,#36359c,#3637a2,#36359c,#362f91,#363092,#363092,#3638a3,#363195,#36369e,#363092,#362f91,#3637a2,#36359e,#363093,#363aa7,#36359d,#362f91,#3637a0,#3639a5,#36349b,#363398,#363398,#363194,#36359d,#36359c,#36359d,#363092,#363195,#3636a0,#36359d,#36369f,#363aa7,#36349b,#363093,#36349c,#363aa6,#36369f,#363399,#363297,#363aa7,#363aa7,#36359c,#363092,#362f90,#363092,#363398,#363399,#3637a0,#363093,#353ba9,#353aa8,#3639a4,#363398,#363297,#363296,#363195,#3342b7,#3638a4,#3639a5,#363093,#363296,#363398,#363195,#36349c,#363195,#363194,#363aa7,#3637a2,#3637a0,#3637a0,#3638a3,#363297,#36349b,#363296,#363399,#363195,#3637a1,#363297,#362f90,#363297,#363093,#363195,#363296,#36369e,#36369e,#363aa7,#3243ba,#3045bd,#36349a,#3440b3,#3638a3,#2d49c3,#3144bb,#2c4ac6,#2a4bc8,#3340b4,#353aa8,#36359d,#36349c,#363399,#343fb0,#3341b5,#2a4bc8,#254fce,#2350d0,#2c4ac5,#3144bc,#3046be,#3639a6,#3638a3,#2e48c1,#2152d3,#284dcb,#353dad,#3639a5,#0462e1,#2b4bc8,#2450cf,#3637a2,#353cac,#3340b3,#3340b4,#353eaf,#3638a3,#353dac,#3342b7,#3045bd,#105bdd,#2e48c2,#3046be,#353dac,#363093,#353ba9,#353cab,#353caa,#36359d,#3639a6,#274ecc,#0c5ede,#0268e1,#0770df,#2450d0,#1b55d7,#0364e1,#343fb1,#2d49c3,#137ed7,#0269e1,#254fce,#0266e1,#2a4bc8,#0e5dde,#3242b7,#274ecc,#0265e1,#1658da,#3243b9,#2f46bf,#036be0,#066fdf,#1a56d7,#036ae1,#2b4bc8,#1079da,#046de0,#1079da,#036ae1,#2b4bc8,#284dcb,#284dca,#0267e1,#036ce0,#2351d1,#3244ba,#2f46bf,#0268e1,#2350d0,#135adb,#0267e1,#0265e1,#0266e1,#137fd7,#0267e1,#2d49c3,#0a73dd,#0265e1,#1a56d7,#284dca,#1459db,#1957d8,#128bd3,#1483d4,#036be0,#0860df,#0871df,#0a96d1,#29b6a7,#0f90d2,#0998d1,#1481d6,#0265e1,#2e48c2,#0462e1,#026ae1,#0c94d2,#1480d6,#2c4ac6,#0364e1,#1484d4,#046de0,#0770df,#108ed2,#089ad0,#1483d5,#0f78db,#046ce0,#0a73dd,#06a2cc,#117ada,#0364e1,#1480d6,#0268e1,#036be1,#135adb,#0f5cdd,#026ae1,#1482d5,#0f78db,#0269e1,#0268e1,#0266e1,#0972de,#056de0,#0871df,#0661e0,#0d5dde,#056ee0,#1079da,#036be1,#0860df,#2c4ac6,#2450cf,#137fd7,#056ee0,#0971de,#0f5cdd,#0364e1,#294cca,#095fdf,#0971de,#036be0,#0661e0,#036be1,#0d5dde,#294cc9,#0972de,#0265e1,#0269e1,#0e76dc,#0c5dde,#2d49c5,#117ada,#138ad3,#066fdf,#046ce0,#0268e1,#343eb0,#0e77db,#0266e1,#036ce0,#0871de,#2350d0,#353baa,#3341b4,#353dae,#0269e1,#2251d1,#066fdf,#0363e1,#1459db,#1b55d7,#353caa,#0b5edf,#0e5cde,#274ecc,#056ee0,#0972de,#1f53d4,#0661e0,#0f78db,#056ee0,#0267e1,#0363e1,#036ae1,#2a4cc9,#2e47c1,#2f47c0,#3341b5,#2a4cc8,#0f5cdd,#0363e1,#1956d8,#2c4ac5,#127cd8,#0e5cde,#117bd9,#1388d3,#1757d9,#0266e1,#0661e0,#0998d1,#1486d4,#0c74dd,#2152d2,#0871df,#0e76dc,#0267e1,#0266e1,#0860e0,#1f53d4,#137ed7,#0e77db,#0562e0,#264ecd,#0267e1,#1757d9,#115bdc,#2c4ac7,#363aa7,#1459db,#3145bc,#0268e1,#0268e1,#2f47bf,#284dcb,#0d5dde,#0365e1,#2252d2,#026ae1,#2350d0,#1559da,#036be0,#1486d4,#056ee0,#0760e0,#353ba9,#1857d8,#0f5cde,#1658d9,#0960df,#1558da,#2450cf,#3144bc,#117ad9,#066fdf,#046de0,#2a4bc8,#3342b7,#343fb1,#284dcb,#0b5edf,#294cc9,#2252d2,#1b55d7,#294cc9,#076fdf,#0871de,#2251d1,#0d76dc,#2251d2,#0860e0,#036be0,#0363e1,#2450cf,#0760e0,#3342b6,#3638a4,#353cab,#343fb1,#3340b4,#284dcb,#284dcb,#2e48c2,#3440b3,#2c4ac6,#0a5fdf,#036ce0,#2152d3,#353eae,#36369e,#135adb,#0266e1,#0860df,#363aa6,#0269e1,#1459db,#2152d2,#135adb,#026ae1,#2450cf,#3342b7,#353baa,#1480d6,#0267e1,#3244ba,#0d5dde,#284dca,#0a5edf,#095fdf,#066edf,#1758d9,#0265e1,#0d75dc,#1359db,#2e48c2,#0a5fdf,#0266e1,#2251d1,#3638a3,#3637a1,#353dad,#3639a5,#3243b9,#3144bb,#353cac,#3342b6,#353eae,#36349c,#363398,#363398,#3342b7,#363194,#36359c,#2450cf,#3046be,#3639a5,#36359d,#36349a,#36369e,#3637a2,#363aa6,#3639a5,#353dad,#3341b5,#353eae,#2f47c0,#3639a5,#3639a4,#363399,#36349a,#363093,#353eaf,#353baa,#36369e,#36369f,#36359d,#363398,#363399,#363092,#36349b,#36349b,#36349a,#362f90,#362f90,#362e8f,#362e8f,#363092,#363296,#36349a,#363194,#363398,#363398,#363194,#362f90,#362f91,#363296,#36349a,#36349b,#363195,#363093,#363093,#363093,#362e8f,#362f90,#363399,#363296,#352d8d,#352c8b,#352d8c,#363092,#36349a,#363194,#362d8d,#363092,#3637a1,#363398,#362f8f,#352d8c,#363195,#363194,#362f91,#3637a1,#36349b,#363297,#362f90,#362f91,#362f91,#363195,#363297,#363297,#3636a0,#363296,#362f91,#362d8d,#352c8b,#3638a3,#36359d,#363093,#36349b,#363194,#362f91,#363093,#352d8c,#3244ba,#363194,#363092,#36349b,#362f91,#352c8b,#362f90,#362f91,#36369f,#363399,#363296,#363092,#36349a,#363297,#363092,#362f8f,#362e8e,#352c8b,#362d8d,#352d8d,#362e8f,#352d8b,#352c8b,#362d8d,#362e8e,#362d8d,#352d8b,#362e8e,#362e8d,#36349a,#363092,#352d8c,#362f91,#362f90,#352d8c,#362d8d 940.5px)"></div>
<div class="c" style="left:414px;background:linear-gradient(#352b88 .5px,#352a87,#352b89,#352a87,#352b89,#352a87,#352b88,#352a87,#352a87,#352b89,#352b88,#352b87,#352b88,#352c8a,#352a87,#352b88,#352c8b,#352b89,#352b88,#352b89,#352b87,#352b88,#352b88,#352c8a,#352b87,#362e8e,#352a87,#352b88,#352b88,#352b88,#352b88,#352b89,#352b87,#352b87,#352a87,#352b88,#352b88,#352b88,#352b87,#352b87,#352b88,#352b88,#352b88,#352b88,#352b88,#352a87,#352b88,#352b88,#352b87,#352c8a,#352b88,#352a87,#352c8a,#352b87,#352a87,#352b88,#352b88,#352b88,#352a87,#352b89,#352b88,#352a87,#352b89,#352b87,#352b87,#352b87,#352b89,#352b87,#352b88,#352a87,#352b89,#352b89,#352b88,#352b88,#352b88,#352b88,#352b88,#352b88,#352b88,#352b88,#352b88,#352b87,#352b87,#352b87,#352b88,#352a87,#352b87,#352b89,#352b88,#352b87,#352b89,#352b89,#352a87,#352a87,#352c8a,#352b88,#352b88,#352b88,#352b88,#352b87,#352b89,#352b87,#352b87,#352c8a,#352b88,#352b89,#352b88,#352b88,#352b88,#352a87,#352b88,#352a87,#352a87,#352b88,#363092,#352b87,#352b88,#352b88,#352b88,#352b87,#352c8a,#352b88,#352a87,#352a87,#352a87,#352b88,#352b88,#352b88,#352b88,#352a87,#352b87,#352b88,#352b87,#352b88,#352b87,#352b88,#352a87,#352a87,#352b88,#352b88,#352b87,#352b87,#352b87,#352c8a,#352b88,#352b88,#352c8a,#352b88,#352c8a,#352b87,#352b88,#352a87,#352b87,#352b88,#352b88,#352b87,#352c89,#352b87,#352b88,#352a87,#352b88,#352b88,#362e8f,#352b89,#352b88,#352b89,#352a87,#352b88,#362e8f,#352b88,#352a87,#352c8b,#352b88,#352b87,#352b89,#352b89,#352b89,#352b87,#352b87,#352b88,#352b88,#352b87,#352c89,#352b88,#352b87,#352a87,#352a87,#352b87,#352b88,#352b88,#352b89,#352b89,#352b88,#352b87,#352b89,#352b87,#352a87,#352b87,#352b87,#352b88,#352b88,#352b88,#352b87,#352b88,#352b87,#352b87,#352b87,#352b88,#352b88,#352b88,#352b88,#352b87,#36369f,#352b88,#352b88,#352b87,#352b88,#352b88,#352b88,#352b88,#352b87,#352b88,#352a87,#352b87,#352b88,#352b88,#352b88,#352b88,#352b87,#352b88,#352c8a,#352b89,#352b88,#352b89,#352d8c,#362e8f,#352d8d,#352c8b,#352c8b,#362e8f,#352d8c,#352d8c,#363399,#362d8d,#352d8b,#362e8e,#352d8c,#352d8c,#362d8d,#352c8a,#362e8e,#352c8b,#362e8e,#362e8d,#363194,#362e8e,#363092,#352d8c,#352c8b,#362e8f,#352d8c,#363194,#362f90,#362d8d,#362e8f,#352c8b,#352c89,#352c8b,#352d8c,#362e8d,#362e8f,#362f91,#362f91,#352d8c,#352d8d,#352d8c,#352c8b,#352d8c,#352c8b,#362e8e,#352d8c,#352c8b,#352c8a,#352d8c,#362d8d,#362e8e,#362e8e,#352d8c,#352c8a,#362e8e,#362f90,#352d8c,#352c8b,#362e8e,#362e8f,#362d8d,#363297,#362e8e,#352d8d,#352d8c,#352d8c,#362f91,#352d8d,#352d8c,#362e8e,#362e8e,#362f90,#363297,#363093,#362e8e,#362e8e,#352c8b,#363092,#362f90,#362e8e,#362d8d,#352d8c,#36349b,#36349a,#363195,#363194,#363195,#36369e,#363296,#36349b,#36359c,#36369f,#3638a3,#353ba9,#353aa8,#3637a1,#3639a4,#353ba9,#353ba9,#36359c,#353eaf,#2e48c2,#36369f,#362f91,#363195,#36369f,#36349b,#3637a0,#36359c,#363092,#36349a,#3637a1,#3639a5,#36369e,#36349a,#3638a3,#3639a4,#3440b3,#353ba9,#353dac,#353caa,#363399,#363196,#3637a0,#353ba8,#363094,#36359d,#36359d,#363399,#362f91,#353ba9,#36359c,#363398,#36349b,#3638a3,#363195,#363398,#36359c,#36359d,#2f47c0,#353cab,#343fb2,#2052d3,#3342b6,#3440b2,#3046be,#2f46bf,#3342b7,#264ecd,#105bdd,#3341b4,#0f5cdd,#2251d1,#3342b6,#274dcb,#353dad,#2f47c0,#3342b7,#3637a1,#353dae,#3440b2,#284dca,#353baa,#2d49c4,#3341b5,#1857d8,#0760e0,#274ecc,#0269e1,#2450cf,#2f47bf,#046ce0,#2c49c5,#0d5dde,#1483d5,#046ce0,#3243b9,#056de0,#046ce0,#0d5dde,#1c55d6,#036be0,#284dcb,#264ecd,#1459db,#046de0,#1e54d5,#1486d4,#046ce0,#294cca,#1e54d5,#0363e1,#1b55d7,#056ee0,#135adb,#076fdf,#0e76dc,#127cd8,#1c55d6,#117ad9,#0267e1,#036ae1,#1078da,#0a73de,#3046be,#1857d9,#036ae1,#066edf,#2b4bc7,#1482d5,#127cd8,#0365e1,#1483d5,#0f77db,#026ae1,#0d76dc,#0971de,#0b73dd,#0562e0,#0a73dd,#0e91d2,#0b74dd,#254fce,#0267e1,#0462e1,#125adc,#046de0,#0760e0,#0462e1,#1482d5,#076fdf,#0972de,#0265e1,#0268e1,#046de0,#0871de,#0c75dc,#1f53d4,#2e47c1,#1c55d6,#0971de,#0770df,#1486d4,#127bd9,#0269e1,#0760e0,#1480d6,#1480d6,#0871de,#1481d5,#0f90d2,#1486d4,#0899d1,#0d76dc,#0a73dd,#0363e1,#1079da,#0871de,#0265e1,#056ee0,#115bdc,#0d76dc,#2e48c2,#2f47c0,#0d76dc,#1481d5,#1485d4,#046de0,#1f53d4,#137ed7,#06a2cc,#1481d6,#0265e1,#0c93d2,#0f78db,#0c74dd,#046de0,#0770df,#0268e1,#036ae1,#0462e1,#066edf,#137ed7,#0d76dc,#1079da,#1957d8,#1480d6,#0364e1,#1a56d7,#2a4bc8,#1459db,#0363e1,#0e91d2,#128ad3,#0b73dd,#0266e1,#2c4ac5,#0870df,#2152d2,#0364e1,#1658d9,#2e48c2,#0363e1,#0f5cdd,#2152d2,#2350d0,#076fdf,#0770df,#2d49c4,#254fce,#036ae1,#264fcd,#0269e1,#0a5fdf,#036be1,#056ee0,#0265e1,#066ee0,#0363e1,#026ae1,#2e48c1,#066fdf,#026ae1,#1459da,#026ae1,#137ed7,#046ce0,#089bd0,#0b73dd,#1e54d5,#0266e1,#1079da,#0860df,#0266e1,#0a5edf,#3341b6,#3342b6,#1482d5,#137ed7,#046de0,#0770df,#2d49c5,#1078da,#1d55d6,#0266e1,#0f77db,#117ad9,#0463e1,#0e77db,#0363e1,#264ecc,#1559da,#1758d9,#1658d9,#0363e1,#0b5edf,#353eaf,#105bdd,#137dd8,#036ae1,#1487d3,#026ae1,#117ad9,#056de0,#0a72de,#0870df,#2c4ac6,#0d5dde,#1658d9,#0266e1,#056ee0,#0a5fdf,#0e5cde,#095fdf,#0269e1,#1079da,#1078da,#137dd8,#0364e1,#3342b6,#0661e0,#0972de,#3046be,#125adc,#0d5dde,#128ad3,#0a73dd,#0c5ede,#3046be,#2b4bc8,#3243b9,#0364e1,#2c4ac7,#036ae1,#0363e1,#046ce0,#0661e0,#3145bc,#0871df,#046de0,#0770df,#0363e1,#2350d0,#0b73dd,#2e48c1,#2152d2,#0a72de,#2450cf,#3045bd,#1c55d6,#1d54d5,#343fb1,#3341b5,#0266e1,#0b5ede,#3145bc,#1957d8,#2c4ac6,#1857d8,#2d49c4,#353cab,#353eae,#3045bd,#343fb1,#2a4cc9,#2e48c2,#353dac,#343fb1,#36359c,#343eb0,#3636a0,#3340b4,#363aa7,#3341b4,#3440b3,#3440b3,#353dac,#3243b8,#353dad,#353ba9,#3342b6,#343eb0,#353ba8,#343fb0,#36359d,#363399,#3243b9,#353dad,#3638a2,#3440b3,#353ba9,#3638a4,#363092,#362f91,#36349c,#36339a,#3638a2,#36339a,#363296,#363399,#363399,#363195,#363092,#362e8f,#362f91,#363194,#353aa8,#363398,#363296,#36359e,#3638a2,#36359d,#3639a5,#3639a6,#3637a1,#363398,#363398,#36349c,#353dad,#363399,#353cab,#3638a3,#36359c,#363195,#3639a5,#363398,#363aa7,#3637a0,#363399,#3637a2,#3341b5,#3639a6,#353baa,#36359d,#3341b4,#353ba9,#343fb1,#2e48c2,#36369f,#343fb1,#363298,#353eaf,#36349b,#353baa,#3638a3,#363194,#363297,#362f8f,#36359c,#363297,#3638a2,#3637a1,#353baa,#363399,#363296,#363298,#363194,#36349a,#353baa,#3639a5,#363398,#363296,#353dae,#353dac,#3637a1,#353aa8,#36369e,#3638a2,#36369e,#3638a2,#363399,#36359c,#36349b,#363398,#36359d,#3638a3,#36359c,#362f90,#363398,#363194,#363093,#362e8d,#352d8d,#363092,#362e8f,#363194,#362f91,#363092,#363194,#362f90,#363195,#363092,#363398,#36349b,#362e8f,#352c89,#36349a,#3637a2,#363093,#362f8f,#363092,#363297,#363297,#363093,#362e8f,#36349a,#363398,#36359c,#36349b,#36369f,#363195,#36349b,#36349b,#36359c,#3637a0,#362f91,#362e8e,#352d8b,#362e8f,#352d8d,#362d8d,#352b89,#352b88,#352c8a,#352b89,#352b89,#352b89,#352b88,#362f90,#352a87,#352b88,#352b87,#352b88,#352b87,#352c89,#352b88,#352b88,#352b88,#352b88,#352b88,#352b89,#352b88,#352b87,#352b88,#352b87,#352b88,#352b88,#363093,#352b88,#352b88,#352a87,#352b87,#352b87,#352b87,#352b87,#352a87,#352a87,#352b88,#352b89,#352b88,#352b89,#352b87,#352b88,#352b88,#352b87,#352a87,#352b87,#352b88,#352b87,#352b88,#352b89,#352b88,#352a87,#352b88,#352c8a,#352b87,#352a87,#352b87,#352a87,#352b89,#352b87,#352b88,#352b88,#352b87,#352b89,#352b88,#352b87,#352a87,#352b89,#352b88,#352b87,#352b89,#352b87,#352b89,#352b87,#352b87,#352b87,#352b88,#352b89,#352b88,#352b88,#352a87,#352b87,#352b88,#352b88,#352b87,#352b87,#352b88,#352b89,#352a87,#352b87,#352b89,#352b88,#352b88,#352b87,#352b87,#352a87,#352b88,#352b87,#352b88,#352b87,#352b89,#352b89,#352a87,#352b88,#352b87,#352a87,#352b88,#352b88,#352a87,#352c8b,#352c89,#352a87,#352b89,#352b88,#352b88,#352b88,#352b88,#352b88,#352b87,#352a87,#352b88,#352b88,#352b88,#352b89,#352b88 940.5px)"></div>
<div class="c" style="left:448.5px;background:linear-gradient(#362e8f .5px,#352b87,#352b88,#352b88,#352b88,#352b88,#352a87,#352b88,#352b88,#352b88,#352b87,#352b88,#352b88,#352b88,#352b88,#352b88,#352b88,#352b87,#352b89,#352b88,#352b88,#352b88,#352b88,#352b88,#352a87,#352b87,#352a87,#363092,#352b88,#352b88,#352b87,#352b88,#352b88,#352b87,#352b88,#352b87,#352a87,#352b88,#352b89,#352b88,#352a87,#352b88,#362e8d,#352b87,#352b87,#352b87,#352b89,#352b89,#352b88,#352b89,#352b89,#352b88,#352b89,#352a87,#352a87,#352b88,#352b88,#352b87,#352b88,#352b88,#352a87,#352b88,#352b88,#352b88,#352b88,#352b89,#352b89,#352c8a,#352b89,#352b87,#352b87,#352b88,#352b88,#352b87,#352b88,#352b87,#352b88,#352b88,#352b87,#352b88,#352b87,#352b88,#352b88,#352b88,#352b88,#352c8a,#352b88,#352b87,#352b88,#352a87,#352b88,#352b89,#352b87,#352b89,#352c8b,#352b88,#352a87,#352b88,#352b89,#352b87,#352b88,#352a87,#352b87,#352b89,#352b88,#352b88,#352c89,#352a87,#352b87,#352b88,#352b89,#352b87,#352b87,#352b89,#352b89,#352b87,#352b88,#352b88,#352a87,#352b87,#352a87,#352b88,#352b89,#352b88,#352b88,#352c89,#363092,#352a87,#352b89,#352b88,#352d8d,#352c89,#352b88,#352b87,#352b87,#352b88,#352b88,#352b87,#352b88,#352b87,#352b88,#352b89,#36359c,#352c8b,#352d8c,#363194,#362f90,#362e8f,#362f91,#36349a,#3639a5,#363297,#363195,#36349a,#36369f,#363093,#3637a1,#363195,#363194,#362e8f,#362f90,#363093,#362f90,#363092,#36349b,#362e8f,#363398,#363092,#363297,#363195,#36359d,#363297,#36359d,#36369e,#363093,#352d8c,#362f91,#363195,#363093,#363195,#36349a,#363093,#362f91,#363092,#363093,#363194,#362d8d,#362f91,#352d8d,#362f90,#363093,#363093,#3638a4,#363195,#362f90,#363091,#36349a,#363399,#36359d,#363297,#363296,#362f90,#36349b,#363296,#363092,#362f90,#36359c,#363195,#362f90,#352d8d,#363398,#363296,#363398,#362f91,#363297,#363195,#36339a,#36359d,#36359d,#3638a4,#36359d,#363399,#362f91,#362d8d,#362e8e,#352d8c,#36359d,#363aa7,#36349c,#362e8f,#363296,#36349b,#362f91,#363194,#363195,#36359c,#36349c,#36349a,#3638a4,#3341b4,#36359d,#363297,#3638a3,#2f46bf,#2351d1,#353cab,#363092,#3243b9,#343fb0,#3638a4,#3244ba,#2c4ac6,#3045bd,#3244ba,#353dac,#36349b,#343fb1,#353eae,#353ba8,#3341b4,#343eb0,#36369f,#3341b4,#3342b6,#1e54d5,#353baa,#36359d,#3639a5,#3637a1,#36349b,#353ba9,#3638a2,#363297,#353caa,#2c4ac6,#254fce,#36369f,#3342b6,#3243b9,#274ecc,#2f47c0,#2b4bc8,#2d49c4,#343eaf,#36369e,#2c4ac6,#3342b7,#3440b2,#0268e1,#0266e1,#2251d1,#0d75dc,#0562e0,#353dac,#3341b5,#1757d9,#353dad,#3341b6,#1b56d7,#3340b4,#363aa7,#3639a4,#353ba8,#1b55d6,#353dae,#353ba9,#2f47c0,#3638a3,#3045bd,#1558da,#343fb1,#2251d2,#2e47c1,#1b55d6,#2c4ac5,#2f47c1,#353dad,#0870df,#1c55d6,#2351d0,#1e54d5,#0363e1,#0363e1,#0365e1,#1459da,#0a72de,#117ada,#06a5c8,#046ce0,#0972de,#0363e1,#2c4ac6,#2152d3,#046de0,#0269e1,#117ad9,#137dd8,#0f5cde,#108ed2,#0e76db,#0269e1,#118dd2,#0268e1,#0d92d2,#079dcf,#1487d3,#0a5edf,#0269e1,#066fdf,#0e77db,#0267e1,#0e91d2,#1482d5,#1079da,#1480d6,#046de0,#0b73dd,#0c94d2,#1486d4,#3046be,#036ae1,#0364e1,#0d75dc,#127cd8,#0d92d2,#046de0,#0269e1,#0267e1,#0d5dde,#1f53d4,#0761e0,#0770df,#1857d8,#1486d4,#0f77db,#0c5dde,#1484d4,#1482d5,#0a73dd,#0a72de,#1079da,#0269e1,#0e77db,#1389d3,#0a96d1,#0661e0,#343eaf,#105bdd,#046de0,#2251d1,#0871de,#046de0,#0870df,#1481d6,#0562e0,#0d75dc,#036ae1,#1389d3,#079bd0,#117ad9,#108ed2,#0e76db,#046de0,#125adc,#127dd8,#046de0,#137dd8,#026ae1,#1359db,#0760e0,#105bdd,#0770df,#095fdf,#0e5dde,#0d75dc,#117bd9,#0c5dde,#274ecc,#0770df,#046ce0,#0364e1,#036ce0,#118dd2,#128bd3,#0c74dd,#127cd8,#137dd8,#118dd2,#1481d5,#2450d0,#0265e1,#0871de,#0c5ede,#1658da,#1079da,#0e76dc,#0265e1,#0268e1,#264ecd,#0266e1,#0e77db,#0c5ede,#0871de,#2d49c4,#1485d4,#1482d5,#0b73dd,#0364e1,#0f78db,#0870df,#264ecd,#0770df,#0a73dd,#2f46bf,#0266e1,#0267e1,#0364e1,#2c4ac5,#284dcb,#095fdf,#1857d8,#264fcd,#2251d1,#3243b8,#2e48c2,#0b5ede,#3045bd,#2f47c0,#2d49c4,#274ecc,#0e76dc,#046ce0,#2e48c2,#2053d4,#1a56d7,#1c55d6,#0a73dd,#1b55d7,#0a5edf,#0363e1,#2c4ac6,#0363e1,#3244ba,#2d49c4,#0b5edf,#264ecd,#0f5cdd,#056de0,#115bdc,#056ee0,#0268e1,#1d54d6,#0661e0,#036be1,#0770df,#3244ba,#0268e1,#036ae1,#1b55d6,#2d48c3,#1459da,#2053d4,#115bdc,#2c4ac7,#353caa,#135adb,#115bdc,#1b55d7,#274ecc,#0870df,#036be1,#3144bc,#3145bc,#3244ba,#0b5ede,#244fcf,#353ba8,#363aa7,#343eb0,#3144bb,#343fb2,#363398,#3342b7,#0364e1,#1d54d6,#3045bd,#353dad,#3638a2,#3637a1,#353eaf,#353eae,#2e48c2,#3440b2,#363aa6,#3244ba,#0269e1,#1a56d7,#3341b5,#3638a3,#363195,#3639a4,#343fb1,#343fb2,#2c4ac5,#2b4bc8,#3440b3,#3243b9,#353dad,#3637a0,#363aa7,#36369e,#36339a,#3440b3,#353ba9,#363399,#362e8f,#36349a,#363aa7,#3440b3,#3342b6,#3440b2,#2f47c0,#353baa,#363296,#36349c,#363398,#36359d,#343eb0,#36369f,#363093,#363297,#36349b,#3639a6,#353cab,#353caa,#3638a3,#3638a2,#363399,#294cca,#353caa,#3637a2,#36349a,#36359d,#363398,#36349a,#36369f,#353dae,#36369e,#36349a,#36369f,#125adc,#353dac,#36349b,#363092,#36369f,#3636a0,#2c4ac6,#343fb1,#36369e,#3045bd,#3638a3,#3639a6,#3639a4,#353ba8,#3242b7,#2f47c0,#353cab,#343fb1,#353ba9,#36359c,#353cab,#3637a1,#363399,#3638a3,#36349a,#363297,#363093,#36359d,#343fb0,#343eb0,#3639a4,#36369f,#363399,#36349b,#36349a,#363296,#36359c,#36369e,#363296,#3638a2,#353caa,#353dae,#3637a0,#3046be,#3341b5,#3638a2,#363398,#363195,#36359d,#36349b,#3637a2,#3440b2,#3639a6,#36339a,#363399,#363398,#36349b,#362f90,#363093,#3637a1,#363195,#363296,#36359c,#363297,#363195,#363195,#363297,#363297,#363093,#363399,#363aa7,#343fb0,#36369e,#363296,#362e8e,#3636a0,#363297,#363aa6,#36349a,#363092,#362e8f,#363aa7,#3639a5,#363195,#36359c,#3638a3,#363093,#363297,#363194,#3636a0,#363296,#363398,#3638a4,#363194,#362e8e,#363399,#363194,#363093,#352c8b,#363092,#362e8d,#352c8a,#352c8b,#352d8d,#352d8c,#362f90,#352d8c,#362e8f,#362e8f,#362e8e,#352d8c,#362e8e,#362f8f,#362e8f,#352c8b,#362e8d,#362e8e,#352d8c,#362e8e,#362e8e,#362e8f,#362f90,#362f90,#352c8b,#362d8d,#352d8c,#352d8c,#362e8e,#352d8c,#352c89,#362e8e,#352c8b,#362e8e,#362d8d,#362e8f,#363296,#362f90,#362e8e,#362d8d,#362f90,#362e8e,#363092,#352d8c,#362f8f,#362e8e,#362e8e,#352d8c,#362d8d,#352c8a,#362f91,#362e8e,#362f91,#363093,#363092,#363194,#362f90,#352d8b,#352d8c,#352d8d,#352d8c,#352d8d,#363092,#363195,#362e8f,#352d8d,#362d8d,#352d8b,#352d8d,#362e8e,#362e8e,#362d8d,#362f90,#363093,#363091,#363092,#362d8d,#352d8c,#352d8c,#352d8c,#352c8a,#352c8b,#362e8d,#362e8e,#362e8d,#362f90,#362f90,#363093,#363194,#352c8b,#362e8d,#352d8d,#362f90,#362f90,#362f90,#362f91,#362f91,#352c8b,#352d8c,#36359d,#362f91,#352d8d,#352c8a,#362d8d,#352d8c,#352c8b,#352b89,#352b89,#352b88,#352b89,#352b89,#352b87,#352b88,#352b88,#352b88,#352b87,#352b87,#352b88,#352b87,#352d8c,#352b88,#352b88,#352b88,#352c8a,#352b87,#352b88,#352b88,#352a87,#352b88,#352b88,#352b88,#352a87,#352b88,#352b88,#352b87,#352b87,#352b88,#352b87,#352b87,#352b88,#352b88,#352c8a,#352b88,#352b88,#352a87,#352b88,#352b88,#352b87,#352b88,#352b87,#352c8a,#352b87,#352a87,#352b88,#352b89,#352b88,#352b88,#352b89,#352b87,#352b88,#352b88,#352b87,#352b89,#352b88,#352c8a,#352a87,#352b87,#352b88,#352b88,#352b87,#352b88,#352b88,#352a87,#352c89,#352b87,#352b87,#362e8e,#352b87,#352b88,#352b89,#352b89,#352b88,#352b88,#352b87,#352b87,#352a87,#352b88,#352b88,#352a87,#352b88,#352b88,#352b89,#352b88,#352b88,#352b88,#352b88,#352b88,#352b87,#352b89,#352b87,#352b89,#352b87,#352b88,#352b87,#352b89,#352b89,#352b87,#352b88,#352a87,#352b88,#352b87,#352b88,#352b87,#352b88,#352b87,#352a87,#352b88,#352a87,#352b88,#352b87,#352b88,#352b88,#352b88,#352b87,#352b87,#352c8a,#352b89,#352b88,#352b88,#352a87,#352b88,#352b89,#352b89,#352b88,#352b89,#352b88,#352b87,#352b87,#352b87,#352b88,#352b87,#352a87,#352a87,#352a87,#352c8b,#352b87,#352a87,#352b88,#352b88,#352b88,#352b88,#362e8e 940.5px)"></div>
<div class="c" style="left:483px;background:linear-gradient(#352b88 .5px,#352b88,#352b87,#352a87,#352b88,#352b87,#352c8a,#352b88,#352b89,#352b88,#352a87,#352b87,#352b89,#352b88,#352a87,#352b87,#352a87,#352b89,#352c8b,#352b89,#352c89,#352b88,#352b87,#352b89,#352c8a,#352b87,#352b88,#352b88,#352b87,#352b89,#352b88,#352b87,#352b88,#352b88,#352c8b,#362e8e,#362e8d,#352d8c,#362f91,#352d8c,#362d8d,#36349b,#363195,#36349b,#363296,#363195,#363092,#36359d,#36359e,#362f90,#352c8a,#352c8b,#363092,#36349b,#363195,#362e8e,#352d8b,#362e8e,#362e8f,#363297,#36359c,#363093,#363194,#362f91,#362e8e,#362e8e,#352d8c,#362f91,#362f90,#352d8c,#363092,#363093,#363195,#362f90,#363398,#363195,#362f91,#362f91,#363093,#363093,#362f91,#362e8f,#362e8f,#363195,#362e8f,#36359c,#363194,#363296,#362f91,#363194,#363093,#362e8f,#362f91,#363398,#36349b,#363297,#362f90,#363398,#363093,#363093,#363194,#343eaf,#36359c,#362f91,#353dac,#353dad,#3637a1,#363297,#353baa,#3243ba,#353eaf,#353caa,#353eae,#353ba8,#2c4ac6,#3341b4,#36359c,#3637a1,#353dad,#353cab,#36359d,#3341b5,#353dac,#36349b,#36359d,#3637a1,#3638a4,#3637a0,#363194,#3639a5,#343fb0,#353dac,#3638a2,#363398,#343eb0,#343fb2,#3637a0,#36349a,#353ba9,#3638a3,#353dad,#3244ba,#353ba9,#3638a4,#353ba9,#363aa7,#353ba8,#353dac,#2d49c4,#3341b4,#1559da,#2450d0,#2d49c4,#0363e1,#1559da,#3342b6,#3243b9,#3440b3,#353dad,#3045bd,#353ba9,#3638a4,#3046be,#1c55d6,#2251d1,#3045bd,#3243b9,#3639a4,#353eaf,#3342b7,#2c4ac7,#2b4bc7,#1a56d7,#2d48c3,#2e47c1,#353baa,#3637a0,#2e48c2,#254fcd,#2d49c4,#0265e1,#115bdc,#2e47c1,#0c5dde,#0364e1,#343fb1,#0761e0,#0265e1,#3342b7,#0268e1,#254fce,#056de0,#0268e1,#0364e1,#0462e1,#0265e1,#1359db,#076fdf,#0a5fdf,#0a5fdf,#0e5dde,#0265e1,#0761e0,#343fb1,#1857d8,#3145bc,#0266e1,#3244ba,#1f53d4,#0364e1,#0c5ede,#0d75dc,#0562e0,#254fce,#0a73de,#1c55d6,#294cca,#2052d3,#0e5dde,#353dad,#254fce,#0265e1,#284dcb,#284dca,#254fce,#0462e1,#1d54d5,#1e53d5,#0364e1,#254fce,#1559da,#0871de,#2b4bc7,#066fdf,#0364e1,#0268e1,#0268e1,#1e54d5,#135adb,#284dcb,#3045bd,#2d48c3,#3342b6,#1b55d6,#1389d3,#0265e1,#264ecd,#3046be,#135adb,#079cd0,#1459db,#0462e1,#0b73dd,#0265e1,#026ae1,#056ee0,#046ce0,#066fdf,#115bdd,#0f77db,#036be0,#137fd7,#1e54d5,#1480d6,#2351d0,#0d5dde,#0860df,#036be0,#069fce,#0d75dc,#353dae,#2d48c3,#2450cf,#125adc,#3638a3,#036be1,#1e54d5,#2b4bc8,#284dcb,#1e54d5,#0972de,#0d5dde,#046de0,#294cc9,#105bdd,#294cc9,#2e47c1,#284dcb,#0365e1,#1c55d6,#0267e1,#066fdf,#127bd9,#0760e0,#2053d4,#0d5dde,#066edf,#127cd8,#1484d4,#137dd7,#0f77db,#0761e0,#0d5dde,#1e54d5,#046de0,#0d76dc,#125adc,#2152d3,#1e54d5,#2f47c0,#0a72de,#046ce0,#046ce0,#1483d5,#128bd3,#0268e1,#0f5cdd,#0363e1,#2e48c1,#0364e1,#056ee0,#0c75dd,#0a72de,#1d54d5,#137ed7,#0d5dde,#046ce0,#0267e1,#076fdf,#0e77db,#1b55d6,#1480d6,#0960df,#026ae1,#0265e1,#0364e1,#0364e1,#1484d4,#1482d5,#1481d6,#0a72de,#0d5dde,#0d75dc,#0266e1,#3145bc,#1459db,#1c55d6,#2e47c1,#3243ba,#3244ba,#2f47c0,#353baa,#0d75dc,#026ae1,#1956d8,#2251d2,#0661e0,#294cc9,#353dae,#0860e0,#0f77db,#046ce0,#0860df,#036be0,#066fdf,#046de0,#0266e1,#0770df,#0a5fdf,#353caa,#2450cf,#0364e1,#1d54d5,#0266e1,#2c4ac6,#1459da,#056ee0,#137fd6,#0d76dc,#036ae1,#353cac,#0364e1,#0562e0,#046ce0,#0269e1,#0267e1,#1e54d5,#0e91d2,#0c74dd,#1481d5,#0a5fdf,#264ecd,#2152d3,#056de0,#0761e0,#1e54d5,#1c55d6,#1c55d6,#036be0,#1078da,#0363e1,#2d49c4,#2e47c1,#0760e0,#2f47c0,#0e5cde,#2e48c1,#2a4cc9,#2f47c0,#3637a0,#343fb1,#353ba9,#2c49c5,#1a56d7,#2450cf,#2c4ac5,#3637a2,#3341b4,#3046be,#3341b5,#3639a5,#2251d1,#3244ba,#036be0,#0860df,#2f47c0,#284dca,#2d48c3,#2450d0,#1e54d5,#3440b3,#0d5dde,#3045bd,#1a56d7,#2252d2,#1a56d7,#2251d1,#0b5edf,#2c4ac5,#343eb0,#363aa6,#3636a0,#363296,#363296,#3638a3,#3243b9,#353cab,#353dac,#343fb1,#36359d,#3243b9,#3638a3,#36349a,#363195,#3638a2,#36359c,#3637a1,#353cab,#353eaf,#353dae,#2c4ac6,#3243b8,#343eaf,#36359d,#3341b5,#353caa,#3637a1,#343fb0,#3637a1,#363093,#363195,#363296,#36369f,#3637a0,#3639a5,#3639a5,#36369f,#3341b4,#36369f,#363297,#363297,#353cac,#36349c,#3637a0,#36369e,#36349b,#36369f,#3637a1,#36359c,#363399,#362e8e,#343fb1,#36349b,#3637a1,#363296,#36349a,#36349a,#363398,#3637a1,#363196,#36349a,#363092,#363298,#3637a0,#363296,#3637a0,#363297,#363296,#36349a,#363194,#363297,#353cac,#36359d,#363092,#363092,#362f90,#353ba8,#363297,#3638a3,#362f91,#363399,#36349a,#3636a0,#353dad,#3638a3,#3638a2,#363399,#3638a2,#363195,#3637a1,#363398,#3638a3,#363399,#363297,#36359d,#363296,#362e8f,#3639a4,#36359e,#353caa,#36359d,#363399,#363297,#36359c,#363296,#362f91,#363195,#3637a2,#3638a2,#363298,#36369e,#363194,#363297,#36349b,#362f91,#363399,#363091,#363093,#362f90,#362e8e,#362d8d,#352d8d,#362e8e,#362e8f,#362e8e,#352d8c,#352c8b,#352d8c,#352d8d,#362e8f,#352d8c,#352d8c,#363093,#362d8d,#362d8d,#362e8e,#362e8e,#352c8a,#352c89,#352d8c,#352d8b,#352c8a,#352b89,#362e8e,#352d8c,#352d8c,#352d8c,#363297,#352d8c,#352d8d,#352d8c,#362d8d,#352c8b,#352b89,#352b88,#352c8a,#352b87,#352b88,#352b89,#352b87,#352b87,#352b88,#352b88,#352b88,#352b88,#352b88,#352b87,#352a87,#352b87,#352b87,#352b89,#352b89,#352b88,#352c89,#352b87,#352b88,#352b88,#352b88,#352b88,#352b88,#352a87,#352b88,#352b88,#352b87,#352b87,#352b89,#352b88,#352b88,#352b88,#352a87,#352a87,#352b88,#352b88,#352a87,#352a87,#352b89,#352b89,#352b88,#352c89,#352b88,#352b89,#352b88,#352c89,#352a87,#352b88,#352a87,#352b89,#352b88,#352b87,#352b87,#352b88,#352b88,#352b88,#352b87,#352b89,#352b88,#352b88,#352b88,#352b88,#352b89,#352a87,#352c8a,#352b88,#352b88,#352b87,#352c8a,#352b87,#352c89,#352b87,#352b88,#352b87,#352b88,#352b88,#352d8c,#352b88,#352b87,#352b88,#352a87,#352a87,#352b88,#352a87,#352b87,#352b88,#352b88,#352b88,#352b88,#352b87,#363092,#352b88,#352b89,#352b87,#363398,#352b88,#352b88,#352c89,#352b88,#352b88,#352b89,#352b88,#352b87,#352d8b,#352b87,#352b87,#352b89,#352b87,#352b88,#352b88,#352c8a,#352b87,#352a87,#352b88,#352b87,#352a87,#352b87,#352b87,#352b88,#352b88,#352b87,#352c8b,#352b88,#352b88,#352a87,#352b88,#363092,#352b87,#352b87,#352b89,#352a87,#352a87,#352b87,#352b89,#352b87,#352b89,#352b87,#352b88,#352a87,#352c89,#352b87,#352b88,#352b89,#352a87,#352c8a,#352b87,#352b88,#352b87,#352b87,#352c89,#352b88,#352b87,#352b87,#352b88,#352b87,#352a87,#352c89,#352b88,#352b87,#352b88,#352b88,#352b88,#352b88,#352b88,#352b89,#352b89,#352b89,#352b89,#352a87,#352b88,#352b88,#352b88,#352b88,#352b87,#352b88,#352b87,#352c8a,#352b88,#352b87,#352b88,#352b87,#352b88,#352c8a,#352b89,#352b88,#352b88,#352b88,#352b88,#352b88,#352a87,#352b88,#352b88,#352b87,#352b88,#352b88,#352b87,#352b88,#352b87,#352b88,#352b87,#352b89,#352b88,#352b88,#352b88,#352c8a,#352b88,#352b89,#352a87,#352b88,#352b87,#352b87,#352b89,#352b87,#352b87,#352b87,#352b87,#352b88,#352b88,#352b88,#352b88,#352b88,#352c89,#352b88,#352a87,#352b87,#352a87,#352a87,#352b88,#352b88,#352b88,#352a87,#352b88,#352b88,#352b88,#352b87,#352b89,#352c89,#352b87,#352b87,#352b88,#363196,#352b88,#352b87,#352b88,#352b88,#352b88,#352a87,#352b88,#352a87,#352b88,#352b89,#352b88,#352b87,#352b88,#352b89,#352b88,#352a87,#352b87,#352b87,#352a87,#352b88,#352b88,#352c8a,#352b87,#352b88,#352b88,#352b87,#352b87,#352b88,#352b87,#352b88,#352b88,#352b88,#352a87,#352b88,#352b89,#352a87,#352b88,#352b88,#352b88,#352b88,#352b89,#352c89,#352c8a,#352b88,#352b87,#352b88,#352b88,#352b88,#352b89,#352b87,#352b87,#352a87,#352b88,#352b88,#352b88,#352b87,#352b89,#352a87,#352b88,#352b87,#352b88,#352b87,#352b87,#352b88,#352b88,#352b88,#352b88,#352b89,#352c89,#352b88,#352b88,#352b89,#363194,#352b88,#352b87,#352b88,#352b88,#352b87,#352a87,#352b87,#352b88,#352a87,#352b88,#352b89,#352b87,#352b87,#352b88,#352b87,#352c8a,#352b89,#352b88,#352b88,#352a87,#352b87,#352b87,#352b88,#352b87,#352b88,#352b87,#352b88,#352b87,#352b88,#352b87 940.5px)"></div>
<div class="c" style="left:517.5px;background:linear-gradient(#363297 .5px,#3639a4,#3144bb,#353ba9,#363195,#363297,#36349a,#363296,#36349b,#3637a1,#363399,#36349b,#363194,#362e8f,#363093,#363092,#363297,#3638a2,#3636a0,#363194,#36349b,#363297,#363196,#36359d,#3638a3,#343eaf,#353baa,#274ecc,#2d49c3,#36369e,#3636a0,#363aa7,#353ba9,#3243b8,#3046be,#363aa7,#3638a2,#284dcb,#353cac,#343fb1,#284dcb,#2b4bc8,#353caa,#3637a0,#3242b8,#353baa,#3440b3,#3638a2,#3639a6,#3637a2,#3340b4,#3440b2,#353caa,#36359d,#3637a1,#2f47c0,#353aa8,#363aa7,#363aa6,#363297,#3637a0,#3638a4,#3639a5,#363398,#3636a0,#3638a2,#363399,#363399,#353eae,#3638a2,#36359c,#3638a3,#36349c,#353ba8,#343fb0,#353eae,#363398,#3243b8,#2c4ac6,#353dae,#2b4bc7,#3638a2,#3045bd,#2e47c1,#2c4ac6,#3440b2,#3243b8,#353aa8,#3144bb,#3440b3,#3340b4,#343fb2,#1857d9,#2a4cc8,#2e47c1,#1e54d5,#1757d9,#1658d9,#3144bb,#3342b6,#2d49c3,#353cab,#3639a5,#36369f,#353dad,#1e54d5,#3145bc,#2251d2,#264ecd,#353caa,#36369f,#353ba8,#3243b9,#1c55d6,#343fb0,#3341b4,#0c5ede,#2a4bc8,#0960df,#294cc9,#2e47c1,#1c55d6,#0267e1,#0364e1,#0761e0,#3342b7,#076fdf,#0761e0,#046ce0,#1359db,#1d54d5,#1d54d5,#254fce,#0266e1,#1758d9,#0269e1,#036ae1,#0661e0,#264ecd,#0871de,#095fdf,#3244ba,#3145bc,#0e5cde,#2e48c2,#0266e1,#1359db,#0363e1,#274ecc,#0363e1,#0267e1,#0268e1,#1482d5,#066fdf,#1a56d7,#2c4ac5,#264ecd,#117bd9,#0e76dc,#137fd6,#2152d2,#353dad,#1559da,#046de0,#0265e1,#026ae1,#127dd8,#036be1,#1480d6,#0e76db,#0462e0,#0265e1,#0661e0,#1485d4,#117ad9,#0871de,#0267e1,#3242b7,#0269e1,#2d49c5,#2450cf,#284dcb,#046de0,#1a56d7,#115bdd,#0972de,#0e5dde,#1483d5,#0267e1,#036be0,#0269e1,#3144bb,#284dca,#353dad,#0860df,#0d75dc,#1758d9,#0363e1,#1485d4,#046de0,#3440b2,#076fdf,#117ad9,#1389d3,#0364e1,#046ce0,#1857d8,#1b55d7,#1480d6,#046de0,#2e48c1,#046ce0,#0c75dc,#0e5cde,#0c5ede,#0860df,#0269e1,#0561e0,#0d75dc,#066fdf,#0d76dc,#0363e1,#1d54d6,#2c4ac5,#0364e1,#0c74dd,#2e48c2,#0b5edf,#0871de,#0266e1,#0e76dc,#127cd8,#0363e1,#3244ba,#1658d9,#0b5edf,#0871df,#0661e0,#353cac,#3242b7,#1956d8,#1d54d6,#1757d9,#076fdf,#0871de,#0770df,#0268e1,#353dad,#0770df,#0998d1,#046ce0,#254fce,#0d75dc,#2350d0,#3046be,#1a56d7,#0a5edf,#2152d3,#3045bd,#117ada,#1857d9,#3440b3,#0269e1,#036ae1,#056de0,#0267e1,#1487d3,#036be1,#1079da,#0364e1,#0267e1,#1b55d6,#115bdc,#095fdf,#0269e1,#0265e1,#0266e1,#1956d8,#1f53d4,#2351d1,#046de0,#1757d9,#3144bb,#0364e1,#105bdd,#0267e1,#1559da,#0266e1,#0860df,#0364e1,#066edf,#294cca,#0e5dde,#2e48c2,#3144bb,#0462e1,#2a4bc8,#0265e1,#1d54d5,#0266e1,#2d49c4,#254fce,#0f5cdd,#0f78db,#2f46bf,#353ba8,#353dae,#1658d9,#046de0,#1559da,#3244ba,#0f5cdd,#3045bd,#3046be,#2d49c3,#254fce,#1c55d6,#284dcb,#2f46bf,#274ecc,#1658da,#353eae,#3340b4,#3637a0,#353eae,#2152d3,#2251d1,#0c5ede,#343eaf,#254fce,#2450d0,#2e48c2,#3244ba,#2d49c4,#1f53d4,#3243b9,#3244ba,#343fb0,#3340b4,#2e48c2,#3639a6,#3639a5,#115bdd,#2f47bf,#343eb0,#2152d3,#3046be,#3046be,#2c4ac7,#3243b8,#3638a3,#36369f,#343fb2,#3341b5,#3639a5,#3440b2,#3639a4,#36349b,#36349a,#36359c,#3639a6,#343eaf,#3636a0,#3341b5,#353eae,#363399,#3145bc,#353eaf,#3243b9,#343eaf,#353ba9,#353ba9,#343eaf,#353ba9,#3637a1,#2d49c4,#353ba9,#363398,#363194,#363398,#353cac,#353ba8,#3637a1,#3639a5,#3144bb,#3638a2,#363aa6,#363194,#36359e,#363093,#36369e,#36369e,#363092,#363296,#3639a4,#363194,#363093,#3636a0,#36349b,#363092,#363296,#363195,#363298,#36359c,#36349a,#362f90,#363297,#363196,#363398,#36369f,#3638a3,#36369f,#36349b,#36359d,#363399,#363093,#363296,#363093,#362f90,#3638a3,#363195,#36359c,#36349b,#36369e,#36349c,#363093,#363297,#362f90,#362f90,#363092,#362f90,#362e8f,#363194,#362e8e,#362f90,#36349a,#363195,#362f90,#363093,#363195,#363297,#362f91,#362e8e,#352d8d,#362e8e,#363093,#362f91,#362e8e,#362d8d,#352d8d,#362e8e,#363195,#363194,#362e8e,#363093,#362e8f,#362e8e,#363092,#363092,#352d8d,#352d8c,#362f90,#363092,#363092,#362d8d,#362f91,#362e8e,#362e8e,#362e8f,#352c8a,#362e8d,#352c8b,#352c8a,#352b89,#352b89,#352b89,#352b87,#352b89,#352b87,#352b88,#352b88,#352b88,#352c89,#352b89,#362e8e,#352b88,#352b88,#352a87,#352b87,#352b88,#352b88,#352a87,#352b89,#352b88,#352b88,#352b88,#352a87,#352b87,#352c8b,#352c8a,#352b88,#352b87,#352b89,#352b87,#352a87,#352b89,#352a87,#352b87,#352a87,#352a87,#352a87,#352b88,#352b87,#352b88,#352b89,#352a87,#352a87,#352a87,#352b87,#363092,#352b88,#352b89,#352b87,#352b88,#352a87,#352b89,#352b89,#352a87,#352b88,#352b88,#352b89,#352b88,#352b88,#352b88,#352b87,#352b89,#352b88,#352b87,#352b87,#352b88,#352b88,#352b88,#352b88,#352b89,#352b87,#352b88,#352b88,#352b87,#352b88,#352d8c,#352a87,#352a87,#352b87,#352b88,#352b88,#352b88,#352b87,#352a87,#352b88,#352b88,#352b88,#352b88,#352b88,#352b88,#352b89,#352b87,#352b88,#352a87,#352b88,#352c89,#352b88,#352b88,#352b87,#352b87,#352b88,#352b87,#352c89,#352a87,#352b89,#352b88,#352b87,#352b87,#352b88,#352b88,#352b88,#352b87,#352a87,#352b88,#352b89,#352a87,#352b88,#352b87,#352b87,#352a87,#352b88,#352a87,#352b87,#352a87,#352b88,#352b88,#352b88,#352b88,#352b87,#352b88,#352a87,#352d8b,#352b89,#352b88,#352b87,#352b87,#352b87,#352b87,#352b88,#352b88,#352b88,#352b88,#352b89,#362f90,#352b87,#352b88,#352b87,#352a87,#352a87,#352b88,#352a87,#352b88,#352b88,#352b88,#352b88,#352a87,#363194,#352b87,#352b88,#352b88,#352a87,#352c8a,#352b88,#352b87,#352c89,#352b88,#352b88,#352a87,#352b88,#352b88,#352b89,#352b87,#352a87,#352b87,#352b88,#352b87,#352b89,#352b89,#352b88,#352b88,#352b89,#352b88,#352b88,#352b87,#352b87,#352b89,#352b88,#352b88,#352b87,#352b88,#352a87,#352b89,#352b88,#352b87,#352b87,#352b88,#352b87,#352b88,#352a87,#352b88,#352b87,#352b87,#352b89,#352b88,#352b88,#352b87,#352c8b,#352b88,#352b88,#352b88,#352b87,#352b88,#352c8a,#352b88,#352b88,#352b89,#352b88,#352b88,#352b88,#352b87,#352b88,#352b89,#352c8a,#352b88,#352b89,#352b89,#352b88,#352b89,#36359d,#352b88,#352b88,#352a87,#352b87,#352c8a,#352a87,#352d8d,#352d8c,#352b88,#352b88,#352b87,#352b87,#352b87,#352b88,#352b88,#352a87,#352b88,#352a87,#352b89,#352b88,#352b88,#352b88,#352c89,#352a87,#352b87,#352b87,#352b88,#352b88,#352b87,#352a87,#352b88,#352a87,#352b87,#352b88,#352b88,#352b89,#352b88,#352a87,#352b88,#352b89,#352b88,#352b88,#352b87,#352c8a,#352b89,#352b88,#352b89,#352b88,#352b88,#352b88,#352a87,#352b89,#352b88,#352b88,#352c89,#352b88,#352c89,#352c8a,#352a87,#352a87,#352b87,#363195,#352b88,#352b88,#352b87,#352b88,#352a87,#352a87,#352b88,#352b88,#352b89,#352b89,#352b87,#352b88,#352b88,#352b87,#352b89,#352b88,#352b88,#352b88,#352b89,#352b87,#352a87,#352b89,#352b88,#352b87,#352b87,#352b87,#352b88,#352b88,#352b88,#352b88,#352b88,#352b88,#352a87,#352b88,#352b87,#352b88,#352b87,#352b88,#352b89,#352b88,#352b88,#352b89,#352b88,#352c8a,#352b89,#352b88,#352b87,#352b88,#352b89,#352d8d,#352b88,#352b87,#352a87,#352b88,#352b88,#352b87,#352b88,#352b87,#352b88,#352b89,#352b88,#352b88,#352b87,#352b88,#352b88,#352b87,#352d8b,#352b88,#352b87,#352b87,#352b88,#352b89,#352b87,#352b88,#352a87,#352b87,#352b89,#352b87,#352b89,#352b87,#352c89,#352a87,#352b89,#352b87,#352d8c,#352b89,#352b88,#352b88,#352b89,#352a87,#352b87,#352b87,#352b88,#352c8a,#352b88,#352b88,#352b87,#352b88,#352b88,#352b87,#352b88,#352b88,#352b87,#352b87,#352b88,#363092,#352b88,#352b88,#352b88,#352b88,#352b89,#352c89,#352b88,#352b87,#352b88,#352c8a,#352b88,#352a87,#352b88,#352b87,#352b88,#352b87,#352b87,#352b88,#352b88,#352b88,#352b88,#352b87,#352a87,#352b89,#352b87,#352b87,#352b88,#352a87,#352a87,#352c89,#352c89,#352b87,#352a87,#352a87,#352b88,#352b89,#352b88,#352c8a,#352a87,#352b87,#352b87,#352b88,#352b88,#352b87,#352b87,#352a87,#352b89,#352c89,#352b89,#352a87,#352b87,#352b87,#352b88,#352b88,#352b88,#352b89,#352b88,#352b88,#352b88,#352b88,#352b88,#352b88,#352b88,#352b88,#352b89,#352b88,#352b88,#352b88,#352b87,#352a87 940.5px)"></div>
<div class="c" style="left:552px;background:linear-gradient(#2b4bc7 .5px,#2e48c2,#3638a2,#0e5cde,#2350d0,#2351d1,#343fb0,#1558da,#3244ba,#3638a3,#264ecc,#2152d2,#095fdf,#2152d3,#2350d0,#0266e1,#2e47c1,#0269e1,#0760e0,#3144bb,#2450cf,#3046be,#105bdd,#0269e1,#0268e1,#2251d1,#0f5cdd,#1658d9,#3045bd,#127dd8,#0c94d2,#1486d4,#138ad3,#0d76dc,#0268e1,#2251d1,#264fcd,#2b4bc8,#0268e1,#1480d6,#0770df,#254fce,#2450cf,#0c74dd,#056ee0,#0267e1,#135adb,#3341b5,#026ae1,#1483d5,#0971de,#127dd8,#0d76dc,#0e76dc,#0e91d2,#0c74dd,#0266e1,#0266e1,#2251d2,#3242b8,#0a97d1,#069fce,#036ae1,#066ee0,#0266e1,#0268e1,#135adb,#0364e1,#105bdd,#0268e1,#254fce,#0267e1,#0d76dc,#0c75dc,#036be1,#0364e1,#3045bd,#0561e0,#0661e0,#0267e1,#0d76dc,#066fdf,#0b73dd,#036be1,#1658d9,#0960df,#1658d9,#036ae1,#036be0,#125adc,#284dcb,#117ada,#076fdf,#1b55d7,#353dac,#353ba9,#0e77db,#0770df,#1956d8,#3340b4,#0c74dd,#046ce0,#1658d9,#046de0,#046ce0,#0661e0,#0363e1,#0971de,#2052d3,#1758d9,#0364e1,#036be1,#0268e1,#0870df,#137fd6,#0269e1,#046de0,#2d49c3,#343eb0,#0266e1,#0b5edf,#026ae1,#066fdf,#1480d6,#06a5c8,#0a97d1,#137dd7,#0363e1,#3045bd,#264fcd,#0f5cde,#0269e1,#0e5dde,#0265e1,#137fd7,#0a96d1,#0a73de,#0870df,#1388d3,#056de0,#0267e1,#2a4bc8,#0870df,#0b73dd,#0e91d2,#0770df,#0e77db,#117bd9,#0972de,#0b73dd,#046ce0,#066fdf,#06a2cb,#117ad9,#0661e0,#353aa8,#056ee0,#0c75dd,#0770df,#137fd6,#0a72de,#274ecc,#0d75dc,#0267e1,#0f5cdd,#0266e1,#066fdf,#0f77db,#264ecd,#105bdd,#0364e1,#1758d9,#2a4bc8,#056ee0,#0e5cde,#0269e1,#0e77db,#0c74dd,#1b55d6,#3440b3,#0d5dde,#0269e1,#056de0,#1389d3,#1079da,#2e47c1,#274ecc,#056ee0,#0770df,#0365e1,#1482d5,#1389d3,#1388d3,#0a5edf,#0e91d2,#1078da,#127dd8,#095fdf,#0b74dd,#0761e0,#2d49c3,#0661e0,#0d75dc,#046de0,#115adc,#125adc,#0363e1,#137ed7,#06a0cd,#137ed7,#0770df,#1483d5,#0a73de,#066fdf,#0d76dc,#2251d1,#056de0,#0d75dc,#1484d4,#1484d4,#036ae1,#076fdf,#0267e1,#0266e1,#0972de,#036be0,#1485d4,#0268e1,#2d49c3,#0860df,#046ce0,#1658da,#2e48c3,#284dcb,#1558da,#2c49c5,#3145bc,#3341b4,#0b5edf,#0267e1,#0c5dde,#0363e1,#2f47c0,#3046be,#353dad,#353baa,#135adb,#076fdf,#1a56d7,#2351d1,#036ae1,#0f5cdd,#2c4ac5,#0266e1,#0363e1,#127cd8,#0972de,#0266e1,#2b4bc8,#353aa8,#3341b5,#294cca,#2c4ac6,#1658d9,#0269e1,#0f78db,#2152d2,#3638a3,#105bdd,#3341b4,#3244ba,#0e5cde,#0462e1,#0f5cdd,#274dcb,#353cab,#353caa,#0661e0,#0e5cde,#2c4ac5,#353caa,#3638a3,#2f47c0,#2251d1,#2b4bc8,#353caa,#36369f,#3639a5,#1f53d4,#0f5cde,#3046be,#046ce0,#2d49c4,#036be1,#2f46bf,#363aa6,#3045bd,#0870df,#0265e1,#3340b4,#0d5dde,#264ecd,#2c4ac5,#1459db,#3342b7,#36349a,#343fb1,#363aa6,#353dac,#3243b9,#3440b3,#2c4ac5,#363aa6,#3340b4,#3639a4,#363398,#3639a5,#3639a5,#343fb0,#363aa6,#363195,#36349b,#353caa,#363296,#353ba8,#353caa,#2d49c4,#353aa8,#353ba8,#363092,#3638a3,#3638a3,#363aa7,#36359d,#3637a0,#36369e,#363195,#363195,#363093,#36339a,#3342b7,#3045bd,#363aa6,#3342b6,#36359c,#362f90,#363399,#363399,#363093,#3637a1,#363399,#363399,#363296,#363297,#362f91,#363297,#363092,#362e8f,#363092,#363194,#362f91,#36359d,#363194,#363296,#363092,#363092,#363093,#363398,#3637a1,#363296,#352d8d,#362f8f,#352d8d,#362d8d,#362f91,#362e8f,#362f91,#352d8d,#352c8b,#352c8b,#362d8d,#362e8e,#352c8b,#352c8a,#352c8a,#352b89,#352c8a,#352c8a,#352c8a,#362e8f,#362d8d,#352c8a,#352c8b,#352c8b,#352d8c,#352c8a,#352c8a,#352c8a,#352c89,#352c8b,#352c89,#352c8b,#352c8b,#352c8b,#352d8b,#352c8b,#352c89,#352b89,#363194,#352b89,#352c89,#362e8e,#352c8a,#352b88,#352c8a,#352c8b,#352d8b,#352c89,#352b89,#352c8b,#362f90,#352c89,#352c8a,#352b87,#352b87,#352b87,#352b87,#352b87,#352b88,#352b88,#362f90,#352a87,#352b87,#352b89,#352b87,#352b87,#352a87,#352b88,#352a87,#352b88,#352b88,#352b88,#352b88,#352b88,#352b88,#352b88,#352b88,#352c8b,#352b88,#352b88,#352b87,#352b88,#352b87,#352c89,#352b88,#352a87,#352b89,#352b88,#352a87,#352b88,#352b87,#352b88,#352a87,#352b89,#352b89,#352b88,#352b88,#352b89,#352b88,#352b88,#352b88,#352b87,#352b89,#352b88,#352c8a,#352b88,#352b88,#352b88,#352a87,#352b88,#352b88,#352b87,#352b87,#352b89,#352c8a,#352b88,#352b88,#352b88,#352a87,#352c8a,#352b88,#352b88,#352a87,#352b89,#352a87,#352b87,#352b87,#352b87,#352a87,#352b88,#352b88,#352a87,#352b88,#352b88,#352b89,#352b87,#352a87,#352b87,#352b88,#352b88,#352b87,#352a87,#352b89,#352b88,#352b87,#352a87,#363093,#352b88,#352b88,#352b88,#352b88,#352b88,#352b87,#352c8b,#352b89,#352b88,#352b87,#352b88,#352b89,#352b88,#352b88,#352b89,#352b89,#352b88,#352b88,#352c8a,#352b88,#352b88,#352b88,#352b87,#352b87,#352b89,#352b87,#352a87,#352b88,#352b88,#352b87,#352a87,#352b88,#352b89,#352b88,#352b87,#352b89,#352a87,#362d8d,#352b88,#352b87,#352b87,#352b87,#352b89,#352b88,#352b88,#352b88,#352b88,#352b88,#352b88,#352b88,#352b88,#352b87,#352a87,#352b88,#352b88,#362d8d,#352c89,#352b87,#352b88,#352b87,#352b89,#352b88,#352b88,#352b88,#352b87,#352b87,#352b87,#352a87,#352b88,#352a87,#352b88,#352b88,#352b89,#352b87,#352b87,#362e8d,#352b88,#352b88,#352c8a,#352a87,#352b87,#352b89,#352b87,#352b87,#352b88,#352b87,#352c8a,#352b88,#352b88,#352a87,#352b88,#352b88,#352b88,#352c89,#352a87,#352b88,#352b87,#352b88,#352b87,#352b87,#352b89,#352b88,#352b87,#352b88,#352c8a,#352b87,#352b89,#352b87,#352b88,#352b87,#352a87,#352b89,#352b89,#363093,#352b89,#352b88,#352b88,#352b89,#352b87,#352b87,#352a87,#352b88,#352b87,#352a87,#352c89,#352b88,#352a87,#352b88,#352c8a,#352b87,#352b88,#352b88,#352b88,#352b89,#352b88,#352b88,#352b88,#352b88,#352b88,#352b88,#352b88,#352b87,#352d8c,#352b89,#352b87,#352d8c,#352b88,#352b89,#352b88,#352b89,#352a87,#352b88,#352b87,#36349b,#352b89,#352a87,#352a87,#352a87,#352a87,#352b88,#352a87,#352b89,#352b88,#352b88,#352a87,#352b88,#352b88,#352b88,#352b87,#352b88,#352b88,#352b87,#352a87,#352b89,#352b87,#352b87,#352b88,#352b88,#352b88,#352b88,#352b87,#352b88,#352b87,#352b88,#352b88,#352b89,#363296,#352b88,#352c89,#352b88,#352b89,#352a87,#352b88,#352b89,#352b87,#352b88,#352b88,#352b87,#352b88,#352b88,#352b87,#352b88,#352b87,#352b88,#352b88,#352b87,#352b89,#352b88,#352b89,#352b88,#352b89,#352b88,#352b88,#352b87,#352b89,#352b87,#352b87,#352b87,#352b87,#352b88,#352b87,#352a87,#352b88,#352b88,#352b88,#352a87,#352b88,#352b88,#352b88,#352b88,#352b87,#352a87,#352b88,#352b88,#352b88,#352a87,#352b87,#352b88,#352b88,#352b87,#352b87,#352b88,#352b88,#352b87,#352a87,#352b87,#352b87,#352b88,#352b87,#352b89,#352b89,#352a87,#352b88,#352b87,#3638a2,#352b88,#352b88,#352a87,#362e8f,#352b88,#352b88,#352b89,#352a87,#352a87,#352b88,#352b88,#352b89,#352b89,#352b89,#352b87,#352b88,#352c89,#352b89,#352b88,#352b88,#352b88,#352b88,#352b88,#352b89,#352c89,#352b87,#352a87,#352b87,#352b88,#352b88,#352b88,#352b89,#352b88,#352b88,#352a87,#352b87,#352b88,#352b89,#352b88,#352a87,#352b88,#352b87,#352b88,#352b89,#352b89,#352b88,#352a87,#352b88,#352b88,#352b88,#352a87,#352b87,#352b89,#352a87,#352b87,#352b89,#352b87,#352b88,#352b88,#352b88,#352b88,#352b88,#352b88,#352b88,#352b88,#352a87,#352b88,#352b89,#352b88,#352c89,#352b88,#352b87,#352b88,#352b88,#352b88,#352b88,#352b88,#352a87,#352b87,#352b87,#352b87,#352b87,#352b88,#352b88,#352b89,#352a87,#352b88,#352b87,#352b88,#352b88,#352b89,#352b88,#352b88,#352b89,#352b89,#352b88,#352b89,#352b87,#352b87,#352b88,#352b88,#352b88,#352b88,#352b88,#352a87,#352b88,#352b88,#352c8a,#363399,#352d8d,#352d8c,#363093,#363194,#3637a2,#362f90,#362e8e,#363195,#363399,#363195,#363296,#362e8f,#362e8e,#36369f,#36359c,#363297,#36369f,#362d8d,#362f90,#363195,#36349c,#363195,#363092,#363398,#363194,#36369f,#363297,#363398,#36349b,#36359d,#363296,#363195,#363297,#363093,#362f91,#36359d,#363398,#36339a,#363296,#363296,#363398,#363092,#363399,#36369e,#363aa6,#36339a,#2b4bc7,#363297,#363297,#36369e,#36349a,#363093,#362e8f,#36349b,#363093,#363398,#363195,#362e8f,#363093,#36359c 940.5px)"></div>
<div class="c" style="left:586.5px;background:linear-gradient(#0d76dc .5px,#0e77db,#1078da,#0365e1,#0f78db,#0a73de,#2450cf,#2f46bf,#0268e1,#1481d6,#0265e1,#1d54d5,#0363e1,#1757d9,#2c4ac6,#0d75dc,#0a72de,#2d49c5,#0870df,#0770df,#076fdf,#0c5dde,#0b5edf,#056ee0,#036ae1,#036ae1,#056de0,#036be1,#137ed7,#0e91d2,#117ada,#128cd2,#0265e1,#0e77db,#095fdf,#0661e0,#0265e1,#056de0,#046ce0,#117bd9,#0870df,#0770df,#137dd8,#117ada,#1481d6,#056ee0,#066edf,#117ada,#036ae1,#2b4bc8,#2251d1,#046ce0,#06a2cb,#137fd7,#06a5c9,#0d93d2,#0661e0,#2a4cc8,#2b4bc7,#1388d3,#1389d3,#128bd3,#066fdf,#0269e1,#117bd9,#06a7c5,#127dd8,#0871df,#0871de,#3046be,#125adc,#0363e1,#0a72de,#056ee0,#0f78db,#137fd7,#0a72de,#0aacbd,#117ad9,#0363e1,#0561e0,#2152d3,#0363e1,#1481d6,#1078da,#0a5fdf,#1a56d7,#0363e1,#137fd7,#117bd9,#137dd8,#137fd6,#0265e1,#0971de,#1f53d4,#128cd2,#079cd0,#1483d4,#117ad9,#0998d1,#0f77db,#0265e1,#0c74dd,#138ad3,#0e77db,#128cd2,#0e76dc,#0770df,#0f78db,#066edf,#036ae1,#2b4bc7,#1484d4,#1483d5,#036be1,#117ad9,#0860df,#2b4ac7,#1480d6,#1483d5,#1480d6,#127bd9,#1481d6,#0c74dd,#0e76dc,#06a0cd,#32b8a1,#06a0cd,#0d5dde,#0265e1,#125adc,#0c74dd,#1485d4,#079dcf,#128bd3,#117ad9,#117bd9,#1486d3,#0562e0,#0265e1,#138ad3,#1480d6,#0daebb,#117bd9,#0870df,#1079da,#1481d6,#0e76db,#0b95d2,#06a0cd,#1481d6,#108ed2,#0f77db,#115bdc,#1c55d6,#056ee0,#2350d0,#2c4ac7,#127cd8,#135adb,#1388d3,#1484d4,#0364e1,#254fce,#0a5fdf,#0266e1,#1459da,#2251d1,#0265e1,#1c55d6,#036ae1,#115bdc,#2e48c2,#353cab,#3145bc,#2b4bc7,#0562e0,#353caa,#3145bc,#0b73dd,#046ce0,#3244ba,#274ecc,#2053d4,#046de0,#0363e1,#2c49c5,#2f46bf,#353eae,#353ba9,#343fb1,#3242b8,#254fcf,#2450d0,#1957d8,#3242b8,#274ecc,#1f53d4,#3639a5,#3637a1,#3637a0,#36369f,#363398,#36369f,#343eb0,#2e48c2,#3144bb,#343fb1,#3440b2,#343fb1,#3144bb,#3342b7,#1459db,#343fb2,#36369f,#363194,#363195,#363398,#363399,#36359d,#3638a3,#353dac,#36359c,#3638a2,#3638a3,#36339a,#363093,#363093,#36359c,#36359d,#36369f,#353ba9,#363aa7,#363398,#36359c,#36349b,#353eae,#36349a,#363093,#36349b,#36359c,#36349b,#3639a4,#3639a4,#353cac,#353dad,#363195,#3639a6,#3637a1,#362d8d,#36369f,#36369f,#362e8f,#362d8d,#363399,#363093,#362e8f,#352d8c,#363398,#363092,#352d8c,#352d8c,#363092,#363092,#363092,#36369f,#363092,#36349b,#363398,#363092,#362f91,#362f91,#362f90,#362e8e,#362f90,#362f91,#362d8d,#352d8c,#362f90,#362f91,#362f91,#362e8f,#362f91,#362f91,#362e8e,#363195,#362f91,#36339a,#363093,#363093,#362f91,#363296,#363196,#363194,#362e8f,#362e8d,#363093,#362d8d,#362e8e,#363091,#362e8e,#362f91,#363093,#363399,#352d8b,#352d8b,#362e8f,#3637a0,#352c8b,#352d8c,#362e8e,#352c8a,#352c8a,#352c8a,#352b89,#352b87,#352c8a,#352b88,#352b88,#352b87,#352b88,#352b89,#352b88,#352b88,#352b88,#352b88,#352b89,#352b88,#352a87,#352b88,#352a87,#352b87,#352b87,#352b88,#352a87,#352b89,#352b88,#352b87,#352b87,#352b87,#352b87,#352b88,#352b88,#352c89,#352c89,#352b89,#352b88,#352a87,#352b88,#352b87,#352b87,#352b88,#352c8a,#352c89,#352b87,#352b88,#352a87,#352b88,#352b89,#352b88,#352b88,#352b88,#352b87,#352c8b,#352b87,#352a87,#352b88,#352b88,#352c89,#352b88,#352b87,#352a87,#362e8f,#352b88,#352b88,#352b88,#352b88,#352b88,#352b88,#352b87,#352b87,#352b88,#352b88,#352b89,#352b88,#352b89,#352b87,#352b88,#352b88,#352a87,#352b87,#352b88,#352b88,#352b87,#352b87,#352b89,#352b88,#352b87,#352a87,#352b89,#352b87,#352c8a,#352b87,#352c8a,#352c8b,#352a87,#352b87,#352b89,#352b88,#352b89,#352b89,#352b87,#352b88,#352b88,#352b88,#352b88,#352b89,#352a87,#352b89,#352b89,#352c89,#352b88,#352b87,#352c89,#352b88,#352c89,#352c89,#352b88,#352a87,#352b88,#352b88,#352b87,#352a87,#352b89,#352b88,#352b88,#352b88,#352b88,#352a87,#352b89,#352b89,#352b88,#352b88,#352b88,#352a87,#352b88,#352b88,#352b88,#352b89,#352b87,#352b88,#352b89,#352b89,#352b87,#352b87,#352b87,#352b89,#352b88,#352b87,#352b89,#352b89,#352a87,#352c8a,#352b88,#352b88,#352b87,#352b87,#352b88,#352b89,#352b89,#352b88,#352b89,#352b88,#352b87,#352a87,#352b87,#352b88,#352b87,#352a87,#352b87,#352b87,#352b88,#352b88,#352b87,#352b88,#352b88,#352b89,#352b88,#352b87,#352b87,#352c8a,#352b87,#352b88,#352b88,#352a87,#352b87,#352b87,#352b87,#352b88,#352b88,#352b87,#352b88,#352b89,#352b87,#352a87,#352a87,#352b88,#352a87,#352c8a,#352a87,#352a87,#352b89,#352b87,#352b89,#352b87,#352b88,#352c8a,#352a87,#362e8f,#352b89,#352b88,#352a87,#352a87,#352b87,#352b87,#352b88,#352b88,#352a87,#352b88,#352b89,#352b87,#352b87,#352b88,#352b88,#352a87,#352b88,#352b88,#352b88,#352b88,#352b88,#352b88,#352b89,#352b88,#352b88,#352b88,#352a87,#352b87,#352b87,#352a87,#352b87,#352b88,#352b88,#352b88,#352b88,#352c8a,#352b87,#352b88,#352b87,#352b89,#352d8d,#352a87,#352b88,#352b88,#352b88,#352c89,#352b88,#362d8d,#352a87,#352a87,#352b88,#352b87,#352a87,#352a87,#352b88,#352a87,#352b88,#352b88,#352b89,#352b89,#352b87,#352b88,#352a87,#352b88,#352b88,#352b87,#352a87,#352b87,#352b89,#352b87,#352b87,#352b88,#352b89,#352b88,#352a87,#352b88,#352b88,#352a87,#352b88,#352a87,#352b88,#352b87,#352b87,#352b88,#352b87,#352b87,#352b88,#352b88,#352b88,#352b88,#352b88,#352b88,#352b88,#352b88,#352b87,#352b89,#352b87,#352b88,#352b87,#352b88,#352c89,#352b88,#352b88,#352b88,#352b88,#352a87,#352b89,#352b89,#352b87,#352b87,#352b88,#352b88,#352b88,#352b87,#352b88,#352b89,#352b88,#352b89,#352a87,#352b88,#352b87,#352b88,#352b89,#352b87,#352a87,#352b88,#352b88,#352b88,#352b87,#352d8b,#352b89,#352b88,#352b89,#352c89,#352a87,#352c8b,#352b88,#352b89,#352a87,#352b87,#352a87,#352a87,#352b87,#352b88,#352a87,#352b88,#352b88,#352b88,#352b88,#352b87,#352a87,#352b89,#352b88,#352b89,#352b88,#352b88,#352b87,#352b87,#352b88,#352b87,#352a87,#352b88,#352b89,#352b88,#352b88,#362f91,#352a87,#352b88,#352b88,#352b88,#352a87,#352b87,#352a87,#352b88,#352b88,#352b89,#352b88,#352b88,#352b87,#352b88,#352b87,#352a87,#352b88,#352b87,#352b88,#352b88,#352b87,#352b87,#352b88,#352b87,#352b88,#3637a1,#352b87,#352b88,#352a87,#352b89,#352b88,#352a87,#352b88,#352b87,#352b88,#352b87,#352b88,#352b88,#352b87,#352b88,#352b88,#352b88,#352b88,#352c8a,#352b88,#352b88,#352a87,#352a87,#352b87,#352b88,#352b87,#352c8a,#352b88,#352a87,#352b88,#352b88,#352b88,#352a87,#352a87,#352b89,#352b88,#352b87,#352d8d,#352b87,#352b88,#352b87,#352b87,#352b88,#352a87,#352b87,#352b87,#352b88,#352b88,#352b87,#352b89,#352a87,#352b88,#352b87,#352b88,#352b87,#352b87,#352b87,#352b87,#352b88,#352b87,#352b88,#352b88,#352c8b,#352c8a,#352b88,#352b87,#352b87,#352b88,#352c8a,#352b87,#352a87,#352a87,#352b87,#352b88,#352b88,#352b88,#352b88,#352b88,#352b88,#352b88,#352b89,#352b88,#352b89,#352c8a,#352b87,#352b87,#352a87,#352b88,#352b87,#352b88,#352b88,#352b89,#352c89,#352c8a,#352d8c,#362e8d,#352d8d,#362e8e,#362e8e,#36359c,#3638a4,#3639a5,#363399,#363093,#362e8f,#363296,#363399,#36349a,#363296,#363093,#36369f,#363aa7,#363398,#3638a4,#353ba8,#353cac,#36369f,#363196,#363194,#362f90,#36349b,#3638a2,#363195,#363093,#363297,#36349a,#3639a4,#36369f,#3341b4,#3638a3,#353caa,#3637a1,#363399,#36359c,#363195,#36369e,#3638a3,#363296,#36359c,#363399,#363195,#363297,#363aa7,#363398,#363297,#3638a3,#353ba8,#36359d,#363195,#362f91,#363093,#363399,#3639a5,#3440b3,#3639a4,#36349a,#363aa6,#343eaf,#353aa8,#363aa6,#363399,#36349b,#3244ba,#2d49c4,#2d49c4,#3639a5,#3638a3,#2e48c1,#343fb0,#2f46bf,#353dae,#353ba9,#353dac,#264ecd,#3243ba,#3637a1,#3639a4,#3242b8,#353cab,#353cab,#343fb1,#343eaf,#353caa,#36359c,#353ba9,#3637a0,#3244ba,#2d49c4,#2c4ac5,#3639a5,#343fb1,#3340b4,#3638a3,#363297,#3145bc,#294cc9,#3340b4,#2e48c2,#3639a4,#2d49c4,#2d49c3,#353ba8,#3637a2,#36369f,#2d49c3,#353dac,#3637a0,#3243b8,#3342b7,#3342b7,#294cc9,#0b5edf,#2c4ac5,#0a5fdf,#0b5edf,#274dcb,#3243b9,#3638a2,#3145bc,#1e54d5,#2351d0,#2f47c0,#0d5dde,#2350d0,#3045bd,#1d54d5,#3440b2,#3440b3,#2152d3,#2e48c2,#066fdf 940.5px)"></div>
<div class="c" style="left:621px;background:linear-gradient(#0266e1 .5px,#2450d0,#0364e1,#0f78db,#108fd2,#1487d3,#046de0,#1a56d7,#0c5ede,#1389d3,#036ae1,#2053d4,#137fd6,#0d75dc,#1e54d5,#0c74dd,#0269e1,#066edf,#0971de,#046de0,#0363e1,#0770df,#046de0,#0269e1,#0f77db,#127cd8,#076fdf,#0971de,#0f78db,#1079da,#036ae1,#0269e1,#1c55d6,#1484d4,#127cd8,#06a2cb,#036be0,#2e47c1,#118dd2,#0f78db,#0661e0,#0562e0,#1a56d7,#0b5edf,#0363e1,#118cd2,#0d75dc,#036be1,#0761e0,#254fce,#2b4bc8,#2b4bc7,#3145bc,#244fcf,#1658d9,#2053d4,#3341b5,#353ba8,#3046be,#353caa,#343fb2,#2e47c1,#353cab,#36349b,#0b5edf,#0268e1,#2450cf,#1a56d7,#3342b7,#3045bd,#3440b3,#3341b6,#3440b2,#3440b3,#343fb0,#1f53d4,#2d49c4,#3341b4,#36369f,#353caa,#3639a5,#353caa,#2251d1,#3243b9,#3638a2,#363194,#36349b,#363093,#36359c,#363398,#36369f,#353aa8,#353aa7,#3341b6,#3637a1,#353aa8,#2a4cc9,#353ba9,#3637a1,#1b55d6,#363aa7,#353eaf,#353eae,#3638a3,#3637a1,#274dcb,#353cab,#3243b8,#3144bc,#3243b9,#3046be,#363aa6,#363aa7,#3145bc,#2f47c0,#2d48c3,#3244ba,#3639a5,#3637a0,#3340b3,#3637a1,#3244ba,#3243b8,#353baa,#3637a1,#3639a6,#363195,#3636a0,#36359d,#363296,#3638a2,#363aa6,#36349b,#363195,#362f91,#362f91,#363398,#363195,#363296,#363398,#363194,#363296,#363195,#363195,#36349b,#363398,#36349b,#363297,#363296,#363093,#362e8f,#36349a,#363195,#363195,#353cab,#363297,#363398,#36359e,#36369f,#36359d,#363195,#363093,#3637a1,#363398,#36349a,#363195,#362f90,#36349b,#3639a5,#363195,#352d8c,#363092,#363092,#362e8e,#362f90,#363092,#363297,#362f91,#362e8e,#363093,#363092,#362e8f,#362f91,#36349b,#363398,#363093,#362e8f,#362d8d,#363093,#362f90,#362e8f,#352d8c,#362f91,#363194,#363399,#363093,#363194,#362f90,#362e8e,#352d8c,#362e8f,#363297,#363195,#362f91,#362f91,#362f91,#362e8e,#363195,#363297,#363092,#362e8e,#363092,#362d8d,#362e8e,#363093,#362f91,#363195,#363093,#363093,#363195,#362f90,#362f91,#362f90,#362f90,#363092,#363297,#363092,#352d8d,#362e8e,#362f91,#363296,#362f91,#362e8e,#352d8c,#362f90,#352d8c,#352d8c,#352c89,#352b88,#352b89,#352b88,#352b88,#352b88,#352a87,#352b87,#352b88,#352a87,#352b88,#352b88,#352a87,#352b89,#352b89,#352b87,#352b88,#352b88,#352b88,#352b88,#352b87,#352b87,#352b88,#352b87,#352b87,#352a87,#352b88,#352a87,#352b87,#352b89,#352b89,#352b88,#352b88,#352b87,#352b87,#352b88,#352b88,#352a87,#352b88,#352b87,#352b88,#352b88,#352b89,#352a87,#352b87,#352b88,#352a87,#352a87,#352a87,#352a87,#352b87,#352b87,#352a87,#352b87,#352b88,#352b88,#352b88,#352b88,#352b87,#352b89,#352b88,#352b88,#352b88,#352c89,#352b88,#352a87,#352b87,#352b87,#352a87,#352a87,#352a87,#352b88,#352b87,#352c8a,#352b87,#352b88,#352b87,#352b88,#352b88,#352b88,#352b88,#352b88,#352b88,#352b88,#352b88,#352c8a,#352b88,#352b87,#352b87,#352b88,#352b89,#352a87,#352b88,#352b88,#352b88,#352c8a,#352c89,#352b88,#352b88,#352b87,#352b87,#352b87,#352b87,#352b88,#352b88,#352b88,#352b88,#352b88,#352b88,#352b87,#352a87,#352b88,#352b88,#352b88,#352b88,#352b89,#352b87,#352b88,#352a87,#352b87,#352b88,#352b88,#352b88,#352b88,#352b89,#352b89,#352a87,#352b88,#352b87,#352b89,#352b87,#352a87,#352b87,#352c89,#352a87,#352b87,#352b88,#352b88,#352b89,#352b88,#352a87,#352b87,#352a87,#352b87,#352b88,#352a87,#352b87,#352b88,#352b88,#352b88,#352b87,#352b88,#363092,#352b88,#352b87,#352c8a,#352b87,#352b88,#352b88,#352b88,#352b89,#352a87,#352a87,#352b89,#352b88,#352b88,#352b87,#352b88,#352b88,#352b88,#352b89,#352b87,#352c89,#352b88,#352b87,#352a87,#352b88,#352b88,#352a87,#352b88,#352b89,#352b87,#352b89,#352a87,#352b89,#352b87,#352b88,#352b88,#352b88,#352b88,#352b88,#352a87,#352b88,#352c89,#352a87,#352b87,#352b87,#352b87,#352b88,#352b88,#352b87,#352b88,#352b88,#352b88,#352b88,#352b89,#352b88,#352b87,#352b89,#352c89,#352b89,#352b87,#352b88,#352b88,#352a87,#352b87,#352b87,#352b88,#352c89,#352b88,#352b88,#352b88,#352b88,#352b88,#352b89,#352b88,#352b87,#352c89,#352b88,#352b87,#352a87,#352b88,#352b88,#352a87,#352b87,#352c89,#352b88,#352b88,#352c8a,#352b88,#352b89,#352b88,#352d8d,#352b88,#352b87,#352b89,#352b88,#363092,#352c8a,#352a87,#352a87,#352b88,#352a87,#352b88,#352b89,#352b88,#352c89,#352b88,#352b87,#352a87,#352d8c,#352b88,#352b87,#352b88,#352b89,#352a87,#352b89,#352b88,#352b88,#352b87,#352b88,#352b88,#352a87,#352b88,#352b88,#352a87,#352d8d,#352a87,#352b89,#352b88,#352b87,#352b89,#352b89,#352b87,#352b88,#352b87,#352b88,#352a87,#352b88,#352b88,#352a87,#352a87,#352b87,#352a87,#352a87,#352b88,#352b87,#352b87,#352b89,#352b89,#352b88,#352c89,#352b88,#352b88,#352b88,#352b88,#352b88,#352b88,#352b87,#352b88,#352b88,#352b88,#352b88,#352c8a,#352b89,#352b87,#352a87,#352b89,#352b89,#352b88,#352b88,#352b88,#352b87,#352c8b,#352a87,#352b87,#352b88,#352b87,#352b88,#352c8a,#352b88,#352b89,#362f90,#352b87,#352b88,#352b88,#352b88,#352a87,#352b88,#352c8b,#352b88,#352b87,#352b87,#352b87,#352a87,#352b88,#352b89,#352c8a,#352b88,#352a87,#352b88,#352c8a,#352b87,#352b87,#352b89,#352b88,#352b88,#352b87,#352b89,#352b87,#362e8f,#352b87,#352b87,#352a87,#352c8a,#352b87,#352b88,#352b88,#352b88,#352b87,#352b87,#352b87,#352b88,#352a87,#352b88,#352b88,#352b89,#352b88,#352a87,#352b88,#352b87,#352b88,#352b88,#352b88,#352b87,#352a87,#352b88,#352b88,#352a87,#352b88,#352a87,#352b88,#352b88,#352b88,#352b88,#352b88,#352b88,#352b89,#352b89,#352b88,#352b87,#352b89,#352b88,#352b87,#352a87,#352b88,#352b88,#352b87,#352b89,#352b88,#352b89,#352a87,#352a87,#352b88,#352b88,#352b87,#352b87,#352a87,#352a87,#362e8d,#352b88,#352b88,#352a87,#352b88,#352b89,#352b87,#352b89,#352a87,#352b89,#352b88,#352b89,#352b88,#352a87,#352b88,#352a87,#352b88,#352b87,#352b87,#352c8a,#352b87,#352b88,#352b88,#352b89,#352b88,#352b88,#352b88,#352a87,#352a87,#352c8a,#352b88,#352c8a,#352b88,#352b88,#352a87,#352b89,#352b88,#352b87,#352b88,#352a87,#352b88,#352b88,#352b87,#352b88,#352b88,#352c8a,#352d8b,#352b89,#352b89,#352c8a,#352c8b,#352b89,#352c89,#362f90,#362f91,#352d8c,#362f90,#362e8e,#352c8b,#352c8a,#362e8f,#363296,#363093,#362f91,#352d8c,#363092,#362e8f,#363092,#362e8f,#352c8a,#362d8d,#362f90,#352d8c,#363194,#363296,#363195,#363297,#363093,#3637a0,#36359c,#363398,#3639a6,#3636a0,#3341b5,#353cab,#36369f,#3637a1,#36339a,#363297,#3244ba,#353aa8,#36349c,#36349b,#3637a2,#3244ba,#343fb1,#3638a4,#363399,#343fb0,#2251d2,#3144bb,#284dca,#2e47c1,#2e48c2,#3045bd,#3638a2,#363296,#3045bd,#353cab,#363398,#362f91,#3342b6,#3244ba,#353dad,#264ecd,#3440b2,#0364e1,#3243b8,#353dad,#353eae,#2d48c3,#2c4ac6,#2d49c4,#3243b9,#353dad,#3638a4,#3639a5,#3638a3,#36349b,#3440b3,#3341b5,#3046be,#3639a6,#3637a0,#36359d,#3638a2,#3243b8,#3342b6,#2c4ac6,#3243b8,#353dae,#3342b6,#3341b4,#3046be,#353caa,#343eaf,#2c4ac5,#3243b8,#3637a0,#1857d8,#3342b7,#3440b2,#36369f,#274ecc,#2152d3,#3046be,#3639a6,#353cab,#0661e0,#1658da,#1a56d7,#2d49c4,#0267e1,#284dca,#294cc9,#343eb0,#1857d9,#0e5cde,#095fdf,#0661e0,#343eb0,#2c4ac5,#0c5dde,#2152d3,#1a56d7,#0365e1,#1a56d7,#254fce,#056ee0,#026ae1,#0265e1,#1758d9,#3243b8,#3638a2,#3638a3,#0267e1,#1b55d7,#1e53d5,#3144bb,#1857d8,#343eb0,#3639a6,#0c5dde,#1359db,#2f47c0,#343fb1,#3045bd,#0c74dd,#1956d8,#363aa6,#1a56d7,#0562e0,#0b5edf,#1e54d5,#0d76dc,#117bd9,#1483d4,#0b73dd,#0971de,#2152d2,#274ecc,#1d54d6,#3046be,#0b5edf,#3244ba,#353caa,#105bdd,#2b4bc8,#0266e1,#2c4ac7,#2c4ac5,#1c55d6,#3046bf,#1857d8,#2e48c1,#0971de,#056de0,#0c5dde,#2351d1,#0561e0,#066edf,#0363e1,#0265e1,#3144bb,#353eae,#3045bd,#343fb0,#3243b8,#2e48c2,#0860e0,#0364e1,#3046be,#0f5cdd,#3045bd,#2e48c2,#3440b3,#1d54d5,#254fce,#3243b9,#066fdf,#0267e1,#244fcf,#254fce,#353ba9,#2053d4,#2251d2,#1d54d6,#343eb0,#3639a5,#0871df,#1f53d4,#036be0,#117ad9,#0562e0,#3046be,#3045bd,#026ae1,#056de0,#353cab,#3341b5,#3440b2,#2a4cc9,#343fb1,#2d49c4,#046de0,#1857d8,#2d48c3,#294cca,#3440b2,#353dac,#3243b8,#3243b8,#2b4bc7,#3243b9,#254fce 940.5px)"></div>
<div class="c" style="left:655.5px;background:linear-gradient(#36349c .5px,#3639a6,#363399,#3637a0,#36359d,#363093,#3637a1,#353eaf,#36369f,#36359d,#3638a4,#3638a2,#363296,#363aa7,#3243b9,#36369f,#363398,#3637a1,#36349a,#36359e,#36369f,#3639a6,#363aa7,#36349b,#36349b,#363296,#3639a4,#3638a2,#3638a2,#3636a0,#3639a6,#363297,#363aa7,#3636a0,#36359c,#3637a2,#363195,#363398,#363398,#36369f,#3637a0,#363092,#362f91,#3639a5,#3638a2,#363398,#3639a4,#363296,#36359d,#363399,#3637a1,#363194,#362e8e,#362f90,#362e8e,#362e8d,#363194,#362e8f,#363296,#362f8f,#362e8e,#363296,#363399,#363093,#362e8f,#362e8f,#363194,#362e8f,#362e8e,#363092,#362d8d,#363296,#363093,#362f90,#362d8d,#352d8c,#362f91,#362f91,#362e8e,#352c8a,#352c8a,#362e8f,#352c8b,#362d8d,#352d8c,#352d8b,#352d8d,#352d8d,#352c8b,#352c8b,#352c8a,#352d8c,#352c8b,#352c8a,#352d8c,#352c8a,#352c8a,#352c89,#352c8a,#352c8b,#352c8a,#352d8c,#363399,#352d8d,#352c8a,#352b89,#352c8b,#352c8b,#352c8b,#352c89,#352c8b,#352c8a,#352d8c,#352c8b,#352c8a,#352c8b,#352c8a,#352d8c,#352b89,#352d8d,#352d8d,#352b88,#352b89,#352c8b,#352c8b,#352b89,#352b88,#352c8b,#352b89,#352b88,#352b88,#352b88,#352b88,#352b88,#352b87,#352b89,#352b89,#352a87,#352b88,#352b88,#352b88,#352a87,#352a87,#352c89,#363194,#352b87,#352b87,#352b89,#352a87,#352b88,#352a87,#352b89,#352b88,#352b88,#352b88,#352b88,#352b88,#352a87,#352b87,#352b88,#352b89,#352a87,#352b88,#352b88,#352b87,#352b87,#352b88,#352b87,#352b88,#352b87,#352b88,#352b89,#352b89,#352b88,#352a87,#352b88,#352b87,#352b87,#352b87,#352b87,#352b88,#352b88,#352a87,#352b88,#352b88,#352b88,#352d8b,#352b88,#352b88,#352b87,#363195,#352b89,#352b88,#352c8a,#362f91,#352b88,#352b89,#352b88,#352c8a,#352b88,#352b88,#352b88,#352a87,#352b88,#352b88,#352b88,#352b88,#352c8a,#352b88,#352b88,#352b88,#352b88,#352a87,#352b88,#352b88,#352b88,#352b88,#352b87,#352b88,#352b88,#352c89,#352b87,#352b88,#352b88,#352a87,#352b87,#352b88,#352a87,#352b88,#352b88,#352b87,#352b88,#352b89,#352b88,#352a87,#352b87,#352b88,#352b87,#352b88,#352b88,#352b88,#352b88,#352b88,#352b87,#352c8a,#352b88,#352b87,#352b89,#352a87,#352b89,#352b88,#352b88,#352d8c,#352b88,#352b87,#352b87,#352d8b,#352b87,#362e8e,#352b88,#352b88,#352b88,#352b87,#352b87,#352b88,#352b88,#352b87,#352b88,#352b87,#352b87,#352b88,#352b88,#352b88,#352b88,#352b87,#352b88,#352b88,#352b88,#352b88,#352c8b,#352b87,#352b89,#352b87,#352b88,#352c89,#352b88,#352b87,#352b87,#352b88,#352b88,#352b88,#352b87,#352b88,#352b87,#352b88,#352c8a,#352b87,#352b88,#352b89,#352b87,#352c8a,#352b88,#352a87,#352b88,#352b89,#362e8f,#352b89,#352a87,#352b88,#352b87,#352b88,#362e8f,#352a87,#352b88,#352c8a,#352b88,#352b88,#352b88,#352b88,#352b88,#352b87,#352c8a,#352c89,#352b88,#352b88,#352a87,#352b88,#352c8b,#352b88,#352b89,#352b88,#352b88,#352b87,#352b89,#352b87,#352b89,#352b87,#352b87,#352b89,#352b89,#352b88,#352b87,#352b88,#352b88,#352b87,#352b88,#352b88,#352b87,#352b88,#352b87,#352c89,#352b87,#352b87,#352a87,#352b88,#352b88,#352b88,#352b88,#352b87,#352b88,#352c8b,#352b88,#352b88,#352b88,#352b88,#352a87,#352a87,#352b89,#352b88,#352b87,#352b89,#352b88,#352b88,#352b88,#352b87,#352a87,#352c8a,#352a87,#352b88,#352c8a,#352c8a,#352b88,#352b88,#352a87,#352b87,#352b88,#352b88,#362e8d,#352b88,#352b88,#352b88,#352b88,#352b89,#352a87,#352a87,#352b87,#352b87,#352b88,#352b88,#352b88,#352b88,#352b87,#352b89,#352b87,#352b87,#352b88,#352b87,#352b87,#352b88,#352b88,#352b89,#352b87,#352b89,#352a87,#352b88,#352b87,#352a87,#352b89,#352b87,#352b87,#352b88,#352b87,#352b88,#352b88,#352b88,#352b87,#352b89,#352b88,#352a87,#352b87,#352b89,#352b88,#352b88,#352b87,#352d8c,#352b88,#352b88,#352b87,#352b88,#352b88,#352b88,#352b88,#36349b,#352b87,#352b88,#352b88,#352b87,#352b87,#352b88,#352b89,#352a87,#352a87,#352b88,#352b87,#352a87,#352b88,#352b88,#352a87,#352c89,#352b88,#363092,#352a87,#352b88,#352b89,#352b88,#352c8a,#352b87,#352b87,#352b88,#352c8a,#352b88,#352b87,#352b87,#362f91,#352a87,#352b87,#352b89,#352b87,#352a87,#352a87,#352b88,#352b88,#352b88,#352b88,#352b88,#352b89,#352c89,#352a87,#352b88,#352b88,#352a87,#352b87,#352b87,#352b87,#352b88,#352b87,#352c8a,#352b88,#352a87,#352b88,#352b89,#352b87,#352b88,#352b89,#352a87,#352b87,#352b88,#352b87,#352b88,#352b88,#352b87,#352a87,#352b88,#352b88,#352b87,#352a87,#352b89,#352b88,#352b88,#362e8f,#352b88,#352b88,#352b88,#352b88,#352b87,#352b88,#352b88,#363194,#352b88,#352b87,#352b87,#352b88,#352a87,#352b88,#352b89,#352b88,#352b88,#352b89,#352b88,#352b88,#352b88,#352c8a,#352b88,#352b88,#352a87,#352b89,#352b89,#352b88,#352b87,#352a87,#352c89,#352a87,#352c8a,#352b87,#352a87,#352b87,#352b87,#352a87,#352b89,#352b88,#352b87,#352c8a,#352b89,#352b88,#352b87,#352b88,#352b88,#352b88,#352a87,#352b88,#352c8a,#352a87,#363297,#352b88,#352a87,#352d8c,#352b87,#352b88,#352b88,#352b89,#352b89,#352b89,#352b88,#352b87,#352b88,#352b87,#352b88,#352b88,#352b88,#352b89,#352b87,#352c8a,#352c8a,#352a87,#352b89,#352b89,#352b88,#352b87,#352b88,#352b88,#352a87,#352b88,#352b88,#352c89,#352c8a,#352c8a,#352c8a,#363194,#362e8e,#362f90,#363092,#362e8f,#36349b,#36349a,#36359e,#36349a,#363297,#363296,#353caa,#353ba9,#3636a0,#363399,#363195,#36359d,#363194,#3638a4,#3639a6,#363398,#3637a2,#363296,#353eae,#353eaf,#353eae,#3638a2,#363195,#36359d,#3046be,#3637a1,#36369f,#36339a,#36349b,#3243b9,#343fb2,#353dae,#353caa,#3637a1,#3636a0,#363195,#3639a4,#3638a3,#36349a,#36359e,#36369e,#353ba9,#363aa6,#343fb0,#36359d,#363194,#363297,#363399,#363092,#363398,#36349a,#353cab,#3637a0,#363297,#36359d,#3440b3,#353eae,#363195,#363298,#3639a4,#363aa6,#36339a,#363195,#36369e,#3638a3,#36349a,#3638a4,#36359c,#36349b,#36369f,#2f47c0,#353ba9,#36349b,#3638a3,#3638a4,#3637a0,#353cab,#353cab,#36349a,#363399,#3637a1,#363194,#3638a3,#3440b3,#36359d,#363aa6,#3637a0,#36359d,#3638a2,#363aa7,#3637a0,#3639a5,#353dad,#3341b4,#2b4bc7,#36369f,#36359d,#353dac,#3639a5,#36359c,#3638a3,#2e48c1,#3340b4,#3637a0,#36369f,#363aa7,#343fb1,#353cac,#3637a1,#2d49c4,#3243b9,#36359c,#353aa8,#3342b6,#3342b7,#36359e,#3340b4,#3639a4,#363aa7,#3637a1,#3243b8,#3638a3,#2e47c1,#3440b2,#1d54d5,#3144bb,#3243b8,#343fb2,#3341b5,#353cab,#353caa,#363aa7,#2053d4,#343fb0,#3637a0,#2c49c5,#353ba9,#353aa8,#2e48c2,#0364e1,#0960df,#2b4bc8,#3244ba,#2e48c2,#2e47c1,#353eae,#2d49c4,#294cca,#353dad,#353dad,#1e54d5,#353aa8,#353ba9,#353cab,#0b5edf,#0268e1,#1a56d7,#3342b6,#353eae,#0269e1,#115bdc,#0363e1,#036be1,#2d49c5,#0c5ede,#1d54d6,#353dac,#0364e1,#105cdd,#105bdd,#3046bf,#2a4bc8,#353eaf,#343fb1,#294cc9,#3440b3,#343fb2,#2d49c5,#353eae,#3440b3,#353dad,#3342b6,#36359d,#2f47bf,#0364e1,#2b4bc8,#046de0,#2351d0,#294cca,#1857d8,#0760e0,#2450cf,#0269e1,#1757d9,#0a5fdf,#3145bc,#2c4ac6,#353dae,#3637a2,#0c5ede,#0d5dde,#2b4bc7,#2e47c1,#1359db,#3341b5,#3638a2,#2a4bc8,#353dae,#046de0,#105bdd,#0661e0,#2052d3,#3145bc,#1b55d7,#0760e0,#1d54d5,#105bdd,#294cca,#284dca,#066fdf,#2e47c1,#3244ba,#3638a2,#353ba8,#0364e1,#254fce,#3046be,#363aa7,#2351d1,#3145bc,#353dad,#343fb2,#0e5dde,#3341b5,#2f46bf,#0860df,#1d55d6,#2b4bc8,#343fb0,#3243b9,#2f46bf,#353eaf,#353cac,#3639a5,#294cc9,#264ecd,#353ba8,#3145bc,#353dac,#343fb1,#2152d2,#294cca,#363aa7,#2e48c2,#3341b5,#3046be,#2d49c5,#1757d9,#0d5dde,#3046be,#3342b7,#2251d2,#274dcb,#1e54d5,#2e48c1,#2e48c2,#2c4ac6,#2b4bc7,#1e54d5,#2c4ac7,#2b4bc7,#3342b7,#363aa6,#1957d8,#2e48c3,#2053d4,#3342b7,#3046be,#2251d1,#254fce,#036ae1,#274ecc,#2450d0,#2052d3,#353baa,#2c4ac6,#2152d2,#3045bd,#353caa,#3144bb,#3342b7,#0960df,#1e54d5,#0860df,#1857d8,#3243b9,#3638a4,#1559da,#3145bc,#3144bb,#2b4bc8,#343fb1,#353dac,#2c4ac6,#026ae1,#3341b5,#36349b,#3639a5,#036be0,#0269e1,#2a4bc8,#353cac,#3144bc,#353ba9,#3046be,#353ba9,#3638a3,#1c55d6,#294dca,#3440b3,#3440b3,#2c49c5,#2251d1,#2c4ac5,#2053d4,#3341b4,#274ecc,#3440b3,#2d49c4 940.5px)"></div>
<div class="c" style="left:690px;background:linear-gradient(#362e8f .5px,#362e8e,#352c8a,#362e8f,#362f90,#362d8d,#352d8c,#352d8c,#362e8d,#362e8e,#352d8d,#363093,#362f91,#362e8e,#362e8e,#362d8d,#352d8b,#362e8e,#362e8f,#362e8f,#362e8f,#352d8c,#352c8b,#352c8b,#352c8b,#352c8a,#352b89,#362e8f,#352b88,#352c8a,#352b89,#352b88,#352b87,#352b88,#352b87,#352b89,#352b88,#352b87,#352a87,#352b88,#352b88,#352b88,#352b88,#352b88,#352b88,#352b89,#352b88,#352c8a,#352a87,#352b87,#352b89,#352b89,#352b89,#352b88,#352b88,#352c8a,#352b88,#352b88,#352b88,#352b88,#352b87,#352b87,#352a87,#352b89,#352b87,#352b88,#352b89,#352b88,#352b87,#352c89,#352c8a,#352b88,#352b89,#363194,#352b88,#352b88,#352b89,#352b88,#352b88,#352b87,#352b87,#352a87,#352b88,#352c8a,#352b88,#352b88,#352b89,#352b89,#352b88,#352b87,#352a87,#352b88,#352c89,#352b87,#352b88,#352b87,#352b87,#352b87,#352b88,#352b88,#352b88,#352b88,#352b87,#352c8b,#352b89,#352b88,#352b88,#352b87,#352b88,#352b89,#352b87,#352b88,#352b88,#352b88,#363195,#352b88,#352b88,#352b87,#352b87,#352c8a,#352b88,#352a87,#352b88,#352b88,#352b88,#352b89,#352b88,#352b87,#352a87,#352b89,#352a87,#352a87,#352b89,#363093,#352b88,#352b88,#352b88,#363092,#352b88,#352b88,#352b87,#352b89,#352b88,#352b87,#352b87,#352b89,#352b88,#352b88,#352b88,#352b88,#352c89,#352b87,#352b88,#352b87,#352b89,#352b88,#352b88,#352a87,#352b88,#352b87,#352c89,#352b88,#352b87,#352a87,#352a87,#352b89,#352b88,#352a87,#352a87,#352b88,#352b87,#352b87,#352b88,#352b88,#352b88,#352b88,#352b88,#352b89,#352b87,#352a87,#352b87,#352b88,#352b88,#352b88,#352b88,#352b88,#352b87,#352c8a,#352b87,#352c8a,#352b88,#352a87,#352b88,#352c89,#362d8d,#352b88,#352b88,#352b88,#352b87,#352b88,#352b89,#352c89,#352b88,#352b88,#352b88,#352b87,#352b88,#352b89,#352b89,#352a87,#36369e,#352b88,#352c89,#352b87,#352b88,#352b87,#352b88,#363399,#352b88,#352b88,#352b88,#352c8b,#352b88,#352d8c,#352b88,#352b87,#352b88,#352b87,#352c89,#352b88,#352b88,#352b89,#352b88,#352a87,#352b87,#352b88,#352a87,#352b88,#352b87,#352b87,#352b88,#352b89,#352b88,#352b88,#352b87,#352b89,#352c8a,#352b88,#352a87,#352b88,#352b87,#352b88,#352b89,#352b88,#352b88,#352a87,#352b88,#352b87,#352b89,#352b87,#363092,#352b88,#352b88,#352b88,#352c89,#352b87,#352c8b,#352b88,#352b88,#352b88,#352b88,#352b88,#352b87,#352c8a,#352c8a,#362d8d,#352b88,#352b89,#352b89,#352b88,#352b88,#352b88,#352b89,#352b88,#352a87,#352b88,#352b87,#352c89,#352a87,#352a87,#352b88,#352b89,#352c89,#352b87,#352b88,#352b88,#352a87,#352b87,#352a87,#352a87,#352b87,#352b89,#352b87,#352b88,#352b88,#352b88,#362e8f,#352b89,#352c89,#352a87,#352b89,#352b88,#352b88,#352b87,#352b89,#352b88,#352b89,#352b89,#352b87,#352c89,#352b88,#352c8a,#352b87,#352b88,#352b89,#362e8e,#352b88,#352b87,#352b87,#352b88,#352b88,#352b88,#352c89,#352b88,#352b87,#352c8a,#352c8a,#352b88,#352b87,#352b88,#352b88,#352a87,#352b87,#352b88,#352a87,#352c89,#352b87,#352a87,#352b87,#363398,#352b89,#362f90,#352b88,#352b88,#352b87,#352b87,#352b88,#352a87,#352b87,#352b88,#352b89,#352b88,#352b89,#352b88,#352b88,#352b89,#352a87,#352b88,#352b88,#352b88,#352b87,#352b87,#362e8e,#352b89,#363093,#352b88,#352b89,#352a87,#352b88,#352b88,#352c89,#352b87,#352b87,#352b88,#352b87,#352c8b,#352a87,#352b89,#352b87,#352b88,#352b88,#352a87,#352b88,#352b89,#352b87,#352b88,#352b88,#352b88,#352b89,#352b89,#352b88,#352a87,#352b88,#352b88,#352a87,#352b89,#352b87,#352b88,#352a87,#352b88,#352b88,#352b88,#352b87,#352b88,#352b88,#352c89,#352d8c,#352b87,#352c89,#352b88,#352b89,#352c89,#352b87,#352b88,#352b87,#352b88,#352b87,#352c8a,#352b87,#352b88,#352b88,#352b87,#352c89,#352b87,#352a87,#352b89,#352a87,#352b88,#352b88,#352b89,#352b88,#352b88,#352b87,#352b87,#352a87,#352a87,#352b87,#352b88,#352d8b,#352a87,#352b88,#352b88,#352b87,#352a87,#352b89,#352b87,#352c8a,#352b88,#352b87,#352b88,#352b87,#352b88,#352b87,#352c89,#352b89,#352b89,#352b89,#363093,#352b89,#352c8a,#362d8d,#352d8c,#352d8d,#352d8b,#362f90,#352d8c,#352c8b,#352d8c,#352c8b,#352c8b,#362e8f,#352d8c,#362f90,#362e8e,#352d8c,#362e8e,#352c8b,#352d8c,#362d8d,#352c8b,#352c8b,#362e8e,#362e8f,#352d8d,#362e8e,#362e8f,#362e8e,#362e8e,#363092,#362e8e,#362f90,#352d8c,#362e8f,#362e8f,#362e8e,#362e8e,#362e8e,#362f90,#362e8e,#362e8e,#363093,#362e8e,#352c8a,#362f90,#362f90,#352d8c,#362f90,#362f90,#352c8a,#352d8c,#352d8c,#352c8a,#362f91,#36349b,#362f90,#363399,#363298,#3637a1,#3637a1,#3638a2,#363aa6,#363093,#363297,#363195,#353dae,#36359d,#3637a1,#36369f,#363194,#363296,#363195,#36349a,#363296,#3638a2,#363297,#363092,#343fb1,#36359c,#363297,#363399,#363297,#362d8d,#362e8f,#36349c,#2b4bc7,#36369e,#36349a,#3638a3,#3637a0,#363aa7,#2d49c4,#3342b7,#36359d,#36369f,#3637a1,#1757d9,#2e48c3,#3440b3,#353ba9,#284dcb,#274ecc,#2a4bc8,#3440b2,#3638a3,#36359c,#3440b3,#3244ba,#343fb1,#3638a2,#3637a1,#3639a6,#2e47c1,#363aa7,#3637a2,#363aa7,#3440b3,#353eaf,#3340b3,#3638a4,#363093,#36359e,#3639a6,#353eae,#36369e,#36359c,#2e48c1,#3340b3,#2f47c0,#343fb1,#36349c,#264fcd,#0265e1,#3144bb,#3243b9,#353dad,#3638a3,#3341b5,#284dcb,#3342b6,#353cab,#1e54d5,#046ce0,#1b55d6,#353cac,#353cab,#2f46bf,#3639a4,#3046be,#264fcd,#2a4bc8,#3340b4,#36369f,#343eaf,#3639a4,#3639a4,#125adc,#2152d2,#2e48c1,#3638a3,#2d49c4,#3045bd,#2053d4,#0860df,#0269e1,#3244ba,#2d49c3,#353baa,#0268e1,#343fb0,#363aa6,#1d54d6,#0971de,#1f53d4,#2e48c2,#3243b8,#36349b,#3243b8,#2a4cc9,#3340b3,#3440b2,#3638a3,#363aa7,#2a4bc8,#2152d2,#2f47c0,#2e48c3,#1a56d7,#1a56d7,#0a5fdf,#2d49c5,#343fb1,#36349a,#0d5dde,#3243b9,#343eaf,#2152d3,#343fb1,#3341b5,#363aa6,#353cac,#2c4ac6,#1459db,#294cca,#1d55d6,#0a5edf,#2251d2,#2a4cc9,#2e48c1,#3341b6,#3045bd,#2c4ac5,#1956d8,#2f47c0,#0267e1,#056ee0,#294cc9,#254fcf,#274ecc,#3243b9,#2351d1,#0265e1,#2f47c0,#36359d,#36369f,#0269e1,#0267e1,#2a4bc8,#3144bc,#264fcd,#254fce,#125adc,#0e5cde,#294cca,#0363e1,#1758d9,#1b55d6,#2f47bf,#254fce,#353dac,#3639a4,#1758d9,#1c55d6,#2053d4,#0c5dde,#353dad,#046de0,#046ce0,#105bdd,#353baa,#36359e,#066fdf,#046de0,#2450cf,#3243b8,#2c4ac6,#274ecc,#343eb0,#284dcb,#2a4bc8,#274ecc,#3045bd,#3639a5,#3341b5,#0860e0,#284dca,#353dae,#1857d8,#2252d2,#127bd9,#0d75dc,#3144bb,#3341b5,#3144bb,#3242b8,#0c5dde,#1a56d7,#1c55d6,#264fcd,#2b4bc8,#2e48c2,#0462e1,#125adc,#2251d1,#1758d9,#3342b6,#353baa,#3243b9,#2f47c0,#1d54d5,#0860df,#3440b3,#3046be,#3340b4,#0269e1,#0c5dde,#254fce,#0760e0,#2052d3,#353cab,#2c4ac7,#0269e1,#0364e1,#0a72de,#0363e1,#036ce0,#0a5fdf,#0562e0,#125adc,#0a5fdf,#0364e1,#0269e1,#2251d1,#353cab,#294cca,#2053d4,#0364e1,#0267e1,#2152d3,#1d54d5,#2052d3,#046de0,#0860df,#2f47bf,#284dca,#2c4ac6,#274dcb,#1b55d7,#0a5edf,#274dcc,#284dcb,#3341b4,#115bdd,#0a5fdf,#2c4ac6,#264ecd,#2053d4,#264ecd,#095fdf,#2152d2,#0365e1,#264fcd,#3341b5,#3243b8,#353cab,#3440b2,#3342b6,#363aa7,#3638a3,#0661e0,#254fce,#2b4bc7,#0265e1,#135adb,#0661e0,#2d48c3,#0269e1,#0a72de,#0c5ede,#3440b2,#353dad,#254fce,#2f47c0,#3046bf,#3045bd,#3144bb,#2f47c0,#3342b6,#0562e0,#2b4bc7,#2f47c0,#294cc9,#2f47c0,#0364e1,#0a72de,#0269e1,#1c55d6,#2d48c3,#056ee0,#1b55d7,#3242b8,#2251d1,#115bdd,#0269e1,#0b73dd,#0561e0,#0364e1,#0266e1,#1a56d7,#343eaf,#1a56d7,#294cc9,#2152d3,#264ecd,#1a56d7,#3440b3,#1a56d7,#046de0,#0269e1,#2d49c3,#353dac,#3145bc,#036ae1,#0265e1,#0b73dd,#0267e1,#0f5cdd,#0266e1,#046ce0,#0b5edf,#3243b9,#2e48c1,#3045bd,#3638a3,#353eaf,#36349a,#3638a2,#254fce,#3144bb,#353caa,#36359d,#353dad,#2450cf,#343fb1,#3145bc,#2b4bc8,#2251d1,#0363e1,#2c4ac5,#1e53d5,#0760e0,#2350d0,#2152d3,#254fce,#2f46bf,#3243b8,#3045bd,#2152d3,#2d49c3,#3244ba,#2c4ac5,#0265e1,#1459db,#2a4cc8,#2f47c0,#343eaf,#353dad,#3242b7,#3341b5,#2351d0,#2f47c0,#2a4cc9,#1c55d6,#3244ba,#363aa7,#353cac,#3639a5,#353ba9,#3637a1,#3638a3,#363aa6,#353dac,#3243b9,#2e47c1,#3440b2,#3243b8,#3636a0,#3046bf,#363aa7,#3341b5,#3639a4,#3638a3 940.5px)"></div>
<div class="c" style="left:724.5px;background:linear-gradient(#352c8a .5px,#352a87,#352b87,#352b87,#352b88,#352b88,#352b88,#352b88,#352b88,#352b88,#352b89,#352b88,#362e8e,#352b87,#352b88,#352b87,#352b87,#352b89,#352b88,#352b87,#352b88,#352a87,#352b88,#352b88,#352a87,#352b88,#352b88,#352b88,#352b89,#352b87,#352b87,#352b89,#352b89,#352b88,#352c8a,#352b88,#352a87,#352b87,#352b88,#352b87,#352b89,#352b87,#352b88,#352b87,#352b88,#362e8f,#352b88,#352b89,#352b87,#352b87,#352c8a,#352b88,#352b88,#352b88,#352b87,#352b88,#352b87,#352b88,#352b89,#352b88,#352b87,#352c8b,#352b87,#352b88,#352b89,#352b87,#352b88,#352b89,#352b87,#352b87,#352b88,#352b88,#352b88,#352b88,#352a87,#352b87,#352b88,#352b89,#352b88,#352b87,#352b88,#352a87,#352b88,#352b88,#352b87,#352a87,#352b87,#352b88,#352b88,#352b89,#352b87,#352b88,#352b87,#352b89,#352b88,#352b88,#352b87,#352b87,#352b88,#352b88,#352b89,#352b88,#352b88,#352c8b,#352b89,#352c8a,#352b88,#352a87,#352b88,#352b89,#352b88,#352b88,#352a87,#352a87,#352b89,#352b88,#352b88,#352a87,#352b87,#352b88,#352a87,#352b88,#352b87,#352a87,#352a87,#352b88,#352b89,#352b87,#352a87,#352b88,#352b87,#352b87,#352b88,#352b88,#352a87,#352b87,#352b87,#352b87,#352a87,#352b89,#352b88,#352a87,#352b88,#352b87,#352b89,#352a87,#352a87,#352b88,#352b88,#352b88,#352b89,#352b87,#352a87,#352b88,#352b88,#352b88,#352b88,#352b88,#352b88,#352c8a,#352b88,#352b88,#352a87,#352b87,#352a87,#352c89,#352b87,#352b88,#352b88,#352b87,#352b87,#352b88,#352b87,#352b88,#352a87,#352a87,#352b87,#352b89,#352b87,#352b87,#352b88,#36359d,#352b88,#352a87,#352b87,#352b88,#352b89,#363195,#352b89,#352b87,#352b87,#352b87,#352b88,#352b88,#352b88,#352b87,#352b88,#352a87,#352b87,#352b87,#352a87,#352b88,#352b88,#352b88,#352b88,#352b87,#352b88,#352b88,#352b87,#352b88,#352b88,#352b88,#352b88,#352b88,#352b87,#352d8c,#352b89,#352b88,#352a87,#352b88,#352b88,#352b89,#352b88,#352a87,#352b87,#352b88,#352b88,#352b87,#352c8b,#352b88,#352b87,#352b87,#352b88,#362f90,#352b88,#352a87,#352b88,#352c8b,#352b87,#352b88,#352b88,#352b88,#352a87,#352b88,#352b87,#352b89,#352b89,#352b88,#352b88,#352b88,#352b87,#352b88,#352b88,#352a87,#352b87,#352b88,#352b88,#352b88,#352b88,#352b88,#352b87,#352b87,#352b87,#352c8a,#352c8a,#352b87,#352a87,#352b88,#352b88,#352b88,#352b88,#352b88,#352b88,#352a87,#352d8c,#352b88,#352b88,#352b87,#362e8f,#352b89,#352b89,#352b87,#352c89,#352b88,#362e8e,#352b88,#352b87,#352b88,#352b89,#352b89,#352b88,#352b87,#352d8b,#352c8a,#352b89,#352b88,#352a87,#352b87,#352b87,#352b88,#352b87,#352b88,#352b88,#352a87,#352a87,#352b87,#352b89,#352b88,#352b88,#352b88,#352b88,#352b88,#352b88,#352b88,#362f91,#352b87,#352b89,#352b88,#352b87,#352b87,#352b88,#352b87,#352a87,#352b87,#352b88,#352b88,#352b89,#352b87,#352b87,#352b88,#352b89,#352b88,#352b88,#352b89,#352b87,#352b89,#352b88,#352c89,#352b88,#352b89,#352b88,#352b88,#352b87,#352b89,#352b87,#352b88,#352b88,#352b88,#352b89,#352b87,#352b89,#352a87,#352b87,#352a87,#352b89,#352b88,#352b88,#352b89,#352b87,#363194,#352b88,#352b89,#352b88,#352a87,#352a87,#352c8a,#362e8f,#3639a5,#352b87,#352b89,#352b88,#352b88,#352a87,#352b87,#352b88,#352b88,#352b88,#352b88,#352b88,#352c89,#363194,#352a87,#352a87,#352a87,#352b89,#352b87,#352b89,#352b88,#352b88,#352b87,#352b88,#352b87,#352b89,#352b88,#352a87,#352b88,#352b89,#352b87,#352b88,#352a87,#352b89,#352b88,#352b88,#352c8a,#352c8a,#352b89,#352c8a,#363093,#352d8c,#362d8d,#352c8b,#352d8c,#352d8d,#362e8f,#363195,#363093,#363093,#362e8f,#362f91,#363195,#3342b7,#362e8f,#362e8e,#362f90,#362f91,#362e8e,#363093,#363093,#362f90,#352c8b,#352d8b,#362e8f,#363296,#362e8e,#362d8d,#352d8d,#352c8a,#362f8f,#362e8d,#352d8c,#352d8c,#352d8c,#363297,#363092,#362f90,#363194,#36369f,#363399,#363195,#36349b,#3637a2,#363196,#3638a2,#36349a,#363398,#363399,#36369e,#353dad,#3638a3,#36359d,#3639a4,#36349b,#3637a1,#3639a5,#363399,#36359d,#3341b4,#353caa,#3638a3,#36359c,#36359e,#3637a0,#3638a2,#3637a1,#36359d,#363aa6,#36369e,#36359d,#363398,#36359c,#363092,#36359c,#353cac,#353eae,#343fb2,#3639a4,#363aa7,#353eae,#3638a3,#36369e,#363297,#36359c,#36369f,#363296,#353ba9,#3637a1,#3636a0,#363aa6,#36349c,#363297,#36359c,#3637a0,#363297,#363399,#3639a6,#3243b9,#3144bb,#3638a4,#363aa7,#353ba8,#3341b4,#2c4ac6,#3045bd,#3242b7,#3340b4,#2d49c4,#2f46bf,#353dad,#353cab,#353dad,#353dae,#3242b8,#3342b6,#3638a2,#3639a5,#3638a3,#36369f,#3046be,#2f46bf,#3144bb,#3340b3,#254fce,#3046bf,#3145bd,#254fce,#2e48c3,#2f46bf,#353eae,#3638a3,#343fb1,#343fb1,#353cab,#2f46bf,#343fb0,#343fb2,#0c5dde,#3244ba,#36359d,#3046bf,#0860df,#3342b6,#2e48c1,#3342b7,#1d54d5,#363aa7,#36359e,#2251d1,#343eaf,#363195,#3145bc,#2f47c0,#36369f,#0562e0,#3144bb,#3341b5,#1d54d6,#1559da,#1c55d6,#3341b5,#1b55d7,#1483d4,#137ed7,#0871de,#1d54d5,#3243b9,#1a56d7,#2c4ac5,#3440b3,#353aa8,#1559da,#0c5ede,#264ecd,#1758d9,#0b5edf,#3341b6,#1758d9,#2351d1,#1e54d5,#1c55d6,#1a56d7,#1f53d4,#026ae1,#026ae1,#2b4ac7,#274ecc,#0266e1,#1459db,#274ecc,#2d49c3,#363aa7,#095fdf,#125adc,#046ce0,#026ae1,#0d5dde,#2c4ac6,#3243b9,#0364e1,#2c4ac6,#3638a3,#3046be,#284dcb,#1b55d6,#1956d8,#2052d3,#2e48c1,#2e48c2,#0e5cde,#2e47c1,#254fce,#2053d4,#056de0,#2c4ac7,#066fdf,#0268e1,#0e76dc,#046de0,#254fce,#2f46bf,#2350d0,#1957d8,#274dcb,#2d49c3,#0e76dc,#2152d2,#264fcd,#353dac,#343eb0,#0268e1,#0268e1,#105bdd,#0b5edf,#2351d0,#066edf,#0860df,#0760e0,#1f53d4,#0d5dde,#3243b9,#3340b4,#2c4ac7,#0871de,#0d5dde,#0f5cdd,#0364e1,#0c5ede,#353dac,#0871de,#1757d9,#254fce,#0363e1,#0b73dd,#3046be,#3045bd,#0b5edf,#095fdf,#2d49c4,#0e5cde,#0b5ede,#115bdc,#3341b4,#363aa6,#0265e1,#0364e1,#3342b7,#0a5fdf,#3144bb,#2450cf,#3045bd,#284dcb,#353dad,#353cab,#3144bb,#3639a6,#3342b6,#294cc9,#3244ba,#274ecc,#1658d9,#1079da,#056ee0,#0d5dde,#056de0,#2351d1,#1956d8,#1957d8,#0b73dd,#0760e0,#1e54d5,#127bd9,#127cd8,#0770df,#0c74dd,#036be0,#135adb,#0d75dc,#046de0,#1388d3,#0871df,#036ae1,#0c5ede,#1e54d5,#1a56d7,#274ecc,#026ae1,#0971de,#0266e1,#036be0,#0561e0,#076fdf,#2152d3,#353eaf,#117bd9,#0770df,#0268e1,#1857d8,#0265e1,#274ecc,#343fb2,#0e76db,#095fdf,#1a56d7,#0972de,#036be0,#046ce0,#0364e1,#0a73dd,#0462e1,#0b74dd,#1079da,#274ecc,#3243b9,#0c5dde,#1b55d7,#0265e1,#264fcd,#115bdc,#2f46bf,#0972de,#1d54d5,#0871de,#3045bd,#3243b8,#0364e1,#0266e1,#0e5dde,#2d49c5,#0d76dc,#1957d8,#0266e1,#3046be,#3340b4,#2d49c4,#353ba9,#3637a1,#343eb0,#36359d,#343fb0,#2e47c1,#353dac,#2e48c1,#026ae1,#0b5edf,#343fb1,#3637a1,#3341b5,#353eaf,#0b5edf,#3243b8,#135adb,#3341b5,#353cac,#343fb2,#353ba9,#3639a5,#36369e,#363aa6,#36369f,#3638a2,#3637a1,#36369f,#363195,#36359c,#363195,#36349a,#3639a4,#3045bd,#3341b4,#36349b,#36359c,#3342b6,#3243b8,#3340b3,#3342b6,#2e48c2,#3637a0,#353ba9,#363399,#36359e,#3637a0,#36349b,#353cab,#36369f,#284dcb,#3341b5,#3243ba,#3639a5,#353dae,#3637a1,#36369e,#3145bc,#3340b3,#363aa7,#353baa,#353dad,#3045bd,#3638a3,#3440b2,#353ba9,#36359c,#363195,#36359c,#3638a2,#2f47c1,#353cab,#36349a,#3243b8,#3638a3,#36369f,#36369e,#363399,#353ba9,#353ba9,#36349a,#3144bb,#363399,#36349b,#3638a3,#363092,#362f91,#363195,#36359c,#363398,#363297,#36359d,#363297,#362e8f,#363297,#363297,#363092,#362f90,#352d8c,#363399,#36349a,#363398,#362e8e,#362f91,#362e8f,#362f90,#362d8d,#362d8d,#362f91,#362f91,#363297,#36369f,#363398,#363195,#363093,#363092,#363297,#362f91,#362e8f,#363194,#363092,#362e8f,#363297,#363296,#36339a,#363297,#363296,#363296,#362f90,#36349b,#363195,#362e8e,#362e8f,#352c8b,#352c8b,#352c8a,#352c8b,#352b89,#352c8a,#352b89,#352b89,#352b89,#352c8b,#352c8a,#352c8a,#352c8b,#352c8a,#352b88,#352c8a,#352c8a,#352c8a,#352c8a,#352c8a,#352c8b,#362e8f,#352b89,#352b88,#352c8b,#352b89,#352b89,#352b89,#352b89,#352c8a,#352c8b,#352c8a,#352d8c,#352c8b,#352c89,#352c8a,#352b88,#352b88,#352c8b,#352c8a,#352c8a,#352b88,#352c8a,#352c8b,#352c8a 940.5px)"></div>
<div class="c" style="left:759px;background:linear-gradient(#352c89 .5px,#352b88,#352b89,#352b88,#352b87,#352b88,#352b88,#352b87,#352b87,#352b88,#352a87,#352b88,#352b87,#362d8d,#352c8b,#352b88,#352b88,#352b88,#352b88,#352b89,#352b88,#352b87,#352b88,#352b88,#352a87,#352b87,#352b87,#352b89,#352b87,#352b89,#352b88,#352a87,#352a87,#352b89,#352b87,#352b87,#352b87,#352b88,#352b88,#352b88,#352b88,#352b87,#352b89,#352b87,#352a87,#352b88,#352b87,#352a87,#352b88,#352b87,#352b88,#352a87,#352b87,#352b87,#352b89,#352b87,#352b88,#352b89,#352b88,#352b88,#352b88,#352b89,#352b88,#352b87,#352b87,#352b89,#352b87,#352b88,#352a87,#36349b,#352b88,#352b88,#352b88,#352c89,#352b88,#352b88,#352b88,#352c89,#352a87,#352b88,#352b87,#352b87,#352b88,#352b87,#352b88,#352b87,#352a87,#352b87,#352b88,#352b88,#352b88,#352b89,#36339a,#352b88,#352b88,#352b88,#352b88,#352b88,#352b88,#352b87,#352b88,#352c8a,#352b87,#352b88,#352b88,#352a87,#352b89,#352b88,#352b88,#353cab,#352b88,#352b88,#352b88,#352b88,#352b87,#352b87,#352b88,#352b88,#352b87,#352a87,#352b88,#352d8d,#352b88,#352b88,#352b87,#352a87,#352b88,#352b88,#352a87,#352a87,#352b88,#352b88,#352c8a,#352b87,#352b89,#352b88,#36359c,#352a87,#352a87,#352b88,#352a87,#352b88,#352b88,#352b87,#352b89,#352b87,#352b87,#352a87,#352b89,#352b88,#352b88,#352b88,#352a87,#352c89,#352a87,#352b88,#352b89,#352b87,#352b88,#352b87,#352b89,#352b88,#352b87,#352c8a,#352a87,#352b88,#352b88,#352a87,#352b88,#352b87,#352b87,#352b88,#352a87,#352a87,#352c8a,#352c89,#352b87,#352b88,#352b88,#352b88,#352b88,#352b88,#352a87,#352b87,#352b89,#352b89,#352b89,#352b88,#352a87,#352b89,#352b88,#352b88,#352b88,#352b88,#352b89,#352b88,#352b88,#352b87,#352a87,#352b89,#352b87,#352b89,#352b89,#352b88,#352b88,#352b87,#352b88,#352b87,#352b87,#352b88,#352b87,#352b89,#352b89,#352a87,#352b88,#352b89,#352b88,#352b89,#3636a0,#352b88,#352b88,#352a87,#352b87,#352a87,#352b88,#352b88,#352b87,#352c89,#352a87,#352b88,#352b89,#352b89,#352b88,#363093,#352d8b,#352b88,#352b89,#352b89,#352b88,#352b88,#352b88,#352b88,#352b87,#352b88,#352b88,#352b89,#352b89,#352b88,#363091,#352b88,#352b88,#352b88,#352a87,#352b87,#352a87,#352b87,#352b87,#352b89,#352b88,#352b88,#362e8f,#352c8b,#352b87,#352b88,#352b89,#352b88,#352b88,#362d8d,#352b89,#352b88,#352a87,#352a87,#352b87,#352b88,#352b87,#352a87,#352b87,#352b89,#352b88,#352b89,#352b88,#352b88,#352b88,#352b88,#352b88,#352b89,#352c8a,#352c8b,#363298,#362d8d,#362e8f,#362f90,#352d8c,#363094,#362e8f,#362e8e,#362f90,#352d8d,#362e8f,#363194,#362f90,#352d8b,#363194,#363092,#363093,#362f91,#363399,#362e8e,#362e8d,#362e8e,#362f91,#363296,#362e8f,#352d8c,#352c8b,#352b89,#352d8d,#362e8e,#363093,#363296,#363195,#362e8e,#362e8e,#352d8c,#362e8e,#362f91,#362e8f,#363092,#362e8e,#362e8f,#363297,#362f91,#363297,#353eaf,#36359d,#363399,#363aa7,#36369f,#36369f,#353ba8,#36349b,#36359d,#36349a,#36359c,#363092,#363398,#363297,#363296,#362f91,#36349b,#36339a,#363194,#36349a,#363297,#363298,#3637a1,#36349a,#3639a5,#36349b,#363297,#363399,#36369e,#3342b7,#343fb1,#353aa8,#3440b2,#3638a3,#353ba8,#353cac,#343fb0,#36349a,#3638a3,#3342b7,#3243b8,#353dac,#343fb2,#3638a3,#343fb0,#3639a5,#2e48c3,#3440b3,#3244ba,#3243b9,#353eaf,#363aa6,#3046be,#343eaf,#2251d1,#2350d0,#1956d8,#2e48c2,#2e48c2,#3342b7,#36369f,#363296,#353cab,#353dac,#3637a1,#294cca,#353dad,#36369f,#36369f,#353caa,#0b5edf,#3341b4,#363398,#363297,#363296,#3638a3,#353eaf,#2d49c4,#353cab,#36349b,#254fce,#2350d0,#2c4ac6,#353eaf,#343fb2,#36359d,#353dad,#0d5dde,#2a4bc8,#343eaf,#353cab,#353ba8,#3342b6,#0661e0,#3145bc,#3342b7,#0e5cde,#3340b3,#1658d9,#284dcb,#1c55d6,#3046be,#2e48c2,#3342b6,#2e48c2,#2053d4,#3045bd,#0266e1,#0c5ede,#2d48c3,#2e47c1,#3342b7,#0f5cde,#1482d5,#0871de,#066edf,#0267e1,#1e54d5,#0364e1,#2152d2,#0f5cdd,#2350d0,#2b4bc8,#3243b9,#3144bb,#0269e1,#0e5dde,#0f5cdd,#353ba9,#066edf,#0364e1,#117ad9,#1d54d6,#0871de,#2c4ac6,#3341b4,#3244ba,#056ee0,#3145bc,#294cca,#1459db,#2c4ac6,#3243b9,#2c4ac6,#115bdc,#274ecc,#2f47c0,#127cd9,#2152d2,#264ecd,#1f53d4,#1857d8,#0a72de,#1658d9,#2c4ac6,#264ecd,#3340b4,#343fb2,#2f47c0,#36359c,#363399,#353dac,#3243b9,#2c49c5,#1459db,#3243b8,#3046be,#3639a5,#254fce,#3243b9,#2251d2,#3046be,#3145bc,#2a4bc8,#2d49c3,#2a4bc8,#1b56d7,#274ecc,#0760e0,#125adc,#1658da,#1559da,#3243b9,#3638a3,#3639a4,#0860df,#3046bf,#0d5dde,#0364e1,#3045bd,#2c49c5,#3046be,#056de0,#046ce0,#0b5edf,#0f5cdd,#046ce0,#0761e0,#115bdc,#2f46bf,#3243b8,#0c5ede,#0d5dde,#3244ba,#2a4bc8,#3243b8,#353ba8,#3244ba,#2052d3,#3244ba,#3639a5,#3639a5,#3342b6,#026ae1,#0269e1,#125adc,#036be1,#0a5fdf,#026ae1,#125adc,#095fdf,#2c4ac7,#1658d9,#0269e1,#0a73de,#0562e0,#0562e0,#0562e0,#294cca,#0d76dc,#026ae1,#0f77db,#1957d8,#135adb,#0265e1,#0760e0,#1f53d4,#353ba9,#0561e0,#056de0,#0363e1,#0269e1,#0972de,#0266e1,#036be1,#0e76dc,#1486d4,#137dd8,#0661e0,#0364e1,#2a4cc9,#2e48c2,#3637a2,#3342b6,#2450cf,#3045bd,#264fcd,#1e54d5,#0760e0,#0266e1,#3243b9,#0b5edf,#0266e1,#0a72de,#0269e1,#066fdf,#1f53d4,#343fb0,#066fdf,#117bd9,#1757d9,#095fdf,#066fdf,#117bd9,#036be0,#1957d8,#1a56d7,#1757d9,#1e54d5,#0e5cde,#274dcc,#0d5dde,#3145bc,#353dac,#046de0,#284dcb,#1d54d5,#284dcb,#0f78db,#056ee0,#1b55d7,#0266e1,#0363e1,#137ed7,#0e77db,#0d75dc,#0d75dc,#036be1,#0364e1,#0265e1,#046de0,#1485d4,#0364e1,#1758d9,#2b4bc7,#056de0,#0870df,#0661e0,#0870df,#117ada,#0265e1,#115adc,#1484d4,#0268e1,#1559da,#0e76dc,#0972de,#2052d3,#056ee0,#1486d3,#1484d4,#0b74dd,#0c74dd,#0267e1,#2b4bc7,#0268e1,#0268e1,#294cc9,#2e48c3,#0e5cde,#0267e1,#095fdf,#0269e1,#056de0,#1f53d4,#127cd8,#036be0,#0266e1,#1d54d6,#2f46bf,#0268e1,#137dd8,#0267e1,#0b74dd,#0770df,#1e54d5,#1487d3,#0b73dd,#2450cf,#095fdf,#2d49c4,#1956d8,#076fdf,#066fdf,#036ce0,#115bdc,#294cca,#3145bc,#2450d0,#0562e0,#0269e1,#0760e0,#1480d6,#0a5fdf,#3046be,#3638a4,#3342b6,#3145bc,#0364e1,#0269e1,#0269e1,#1757d9,#264ecd,#3243b8,#0363e1,#2c4ac6,#1957d8,#353caa,#3637a0,#363aa7,#3639a6,#353eaf,#3638a3,#36359d,#3639a5,#3244ba,#3342b7,#353aa8,#36349c,#353eaf,#36369f,#353dac,#353aa8,#343fb1,#36369e,#3638a3,#363194,#3638a3,#3243b8,#353ba9,#353caa,#36359d,#353dac,#3638a2,#3341b6,#3639a4,#3341b6,#353ba8,#3341b4,#3244ba,#353ba9,#363aa7,#3340b4,#3440b2,#2d49c3,#2e48c3,#363aa6,#363195,#363398,#36349b,#2d49c4,#343eb0,#353ba8,#36359e,#363194,#353dae,#36349c,#362f90,#36359d,#36349c,#36349b,#363195,#362e8f,#363398,#363093,#36359c,#36359c,#363093,#363092,#36369e,#363092,#363092,#352d8c,#352c8b,#362f90,#362f91,#362d8d,#362e8f,#36369f,#363194,#36359c,#36359d,#363194,#363398,#363194,#362d8d,#363398,#363297,#363092,#362e8f,#362f91,#363093,#36349b,#36349a,#36349a,#363296,#363194,#363092,#363195,#363092,#36349b,#363297,#362e8f,#362e8f,#362e8e,#352d8c,#362f91,#363195,#362f90,#362e8f,#362d8d,#362e8f,#363092,#352d8c,#362f90,#362e8f,#363092,#362d8d,#362d8d,#362e8e,#352c8a,#36369f,#352c8a,#352b88,#352b88,#352b88,#352b87,#352b87,#352c89,#352a87,#352b88,#352b89,#352b88,#352b87,#352c8a,#352b87,#352c89,#352b89,#352b88,#352b89,#363194,#363297,#352b88,#352b89,#352b89,#352b88,#352b88,#352b89,#352c8a,#352b88,#352b88,#352a87,#352b87,#352b87,#352b88,#352b87,#352b88,#352b89,#352b87,#352b87,#352b87,#352b88,#352b88,#352b89,#352b89,#352b88,#352b89,#352b88,#352b88,#352b88,#352b88,#352b88,#352b88,#352b87,#352a87,#352b89,#352b87,#352b88,#352d8c,#3637a1,#352b87,#352b88,#352b87,#352b88,#352b88,#352b87,#352b87,#352b88,#352b88,#352a87,#352b88,#352b87,#352a87,#352b88,#352b87,#352b87,#352c89,#352b87,#352b88,#3636a0,#352b89,#352b88,#352b88,#352b89,#352b88,#352b87,#352a87,#352b88,#352b88,#352b88,#352b87,#352b88,#352a87,#352c89,#352b87,#352b88,#352b87,#352b88,#352b88,#352b88,#363092,#352b88,#352b88,#352a87,#352b89,#352b87,#352b88,#352b87,#352b89,#352b88,#352b88,#352b88,#352b89,#352b88,#352b88,#352b89,#352b87,#352b87 940.5px)"></div>
<div class="c" style="left:793.5px;background:linear-gradient(#352b88 .5px,#352a87,#352b88,#352b88,#352b88,#352b88,#352b88,#352b87,#352b89,#363093,#352b87,#352b87,#352b88,#352b88,#352b87,#352b88,#352b89,#352b89,#352b88,#352b87,#352b88,#352b89,#352b88,#352b88,#352b89,#352b89,#352b88,#352b88,#352b87,#352b87,#362e8d,#352b87,#352a87,#352b88,#352b88,#352c8a,#352b87,#352b89,#352b88,#362f91,#363092,#352b89,#352b87,#352b87,#352b88,#352b88,#352b87,#352b88,#352b87,#352a87,#352b89,#352b88,#352c89,#352b88,#352b87,#352a87,#352b87,#352b87,#352b87,#352b87,#352b87,#352b88,#352c89,#352b87,#352b88,#352b88,#352b88,#352b87,#362f91,#352b88,#352a87,#352b87,#352b87,#352b88,#352b88,#352b87,#352b88,#352b88,#352b88,#352a87,#352b87,#352b88,#352b87,#352a87,#352b87,#352c8b,#352b87,#352b89,#352a87,#352b87,#352a87,#352b88,#352b88,#352b87,#352b87,#352b89,#352a87,#352b89,#352b89,#352b89,#352a87,#352b89,#352a87,#352a87,#352a87,#352b87,#352b87,#352b88,#352b89,#352b88,#352b88,#352b88,#352b88,#352b88,#352b88,#352b88,#352b87,#363092,#352c8a,#352b87,#352b88,#352b88,#352a87,#352b88,#352b88,#352b88,#352b88,#352b87,#352b87,#352b88,#362f91,#352b87,#352b87,#352b89,#352b88,#352b87,#352a87,#352a87,#352b89,#352b87,#352b88,#352b88,#352b88,#352b88,#352b87,#352b88,#352b88,#352a87,#352b88,#352a87,#352a87,#352b88,#352b88,#352b88,#352b87,#352b88,#352b88,#352b87,#352b88,#352b89,#352b88,#352b88,#352b88,#352c89,#352b88,#352b88,#352a87,#352b88,#352a87,#352b88,#352b88,#352b88,#352b89,#352b89,#352c89,#352b87,#352a87,#352b87,#352b87,#352b89,#352c8a,#352b88,#352c8a,#352b89,#36369f,#352b88,#352b89,#352b88,#352b88,#352b88,#352b87,#352c89,#352b88,#352b87,#352a87,#352b88,#352a87,#352b87,#352c89,#352b87,#352c8a,#362e8e,#352c89,#352d8c,#352d8c,#352d8d,#362f91,#363093,#362f91,#363399,#363297,#362f90,#362e8f,#352d8d,#363093,#362f91,#362e8e,#363296,#363092,#36339a,#363297,#36359e,#362f91,#363093,#362e8e,#362f90,#36359d,#363092,#362e8e,#362f90,#363195,#362f90,#36359e,#363195,#362e8f,#362e8e,#352d8c,#362f90,#363296,#363194,#362e8f,#362e8e,#352d8c,#36359c,#353dad,#363398,#363195,#3639a5,#363aa7,#353aa8,#36359c,#363195,#3440b2,#3638a2,#363aa7,#36349b,#363092,#363296,#36359c,#3638a3,#353ba8,#363297,#3639a5,#36369f,#3636a0,#363aa7,#3638a2,#36359d,#363398,#36359e,#36359e,#353cab,#3639a5,#353eaf,#36359e,#363093,#36349b,#363194,#36359d,#36349b,#36349b,#363399,#363399,#36369e,#363297,#36349b,#3639a5,#3637a1,#3440b3,#3639a5,#353dad,#3045bd,#3341b4,#343fb0,#3243b9,#3145bc,#363aa6,#363297,#3244ba,#3243b9,#353aa8,#3341b5,#353ba9,#3242b7,#3342b6,#36349b,#36359d,#343fb1,#3340b3,#3639a5,#2e48c2,#2c4ac5,#2450cf,#3243b9,#3638a3,#353cab,#3243b8,#1957d8,#3046be,#2e47c1,#0b5edf,#3243b9,#0d75dc,#2b4bc8,#343fb1,#3440b3,#343eaf,#1d54d5,#343fb0,#0268e1,#2350d0,#2c49c5,#0363e1,#0269e1,#254fce,#3342b6,#1d54d6,#2350d0,#046ce0,#0d5dde,#274ecc,#1c55d6,#244fcf,#0266e1,#0267e1,#0462e1,#1b55d6,#353dae,#294cc9,#2b4bc7,#135adb,#0364e1,#076fdf,#0860df,#3242b8,#0269e1,#0265e1,#0b5edf,#2350d0,#0364e1,#1e54d5,#2c4ac6,#0960df,#2e48c1,#0e5dde,#0266e1,#046ce0,#1d54d5,#284dcb,#3243b9,#0364e1,#1459db,#1a56d7,#1956d8,#274ecc,#0b5edf,#0265e1,#2e48c3,#3244ba,#3341b5,#0a5fdf,#1e54d5,#0561e0,#046ce0,#274ecc,#0f77db,#036be1,#0b5ede,#0a73dd,#036be0,#3243b9,#0c5ede,#0661e0,#254fce,#3244ba,#0d5dde,#0860df,#0562e0,#0972de,#0972de,#0a5edf,#0363e1,#2251d2,#274ecc,#125adc,#1a56d7,#2d49c4,#353ba9,#0a5fdf,#1857d8,#0e5cde,#2351d0,#0363e1,#0871de,#0267e1,#2350d0,#0d5dde,#1b55d7,#0266e1,#036ae1,#1857d9,#1658d9,#0d75dc,#2f47c0,#0d5dde,#036be0,#036be0,#2c49c5,#1857d8,#046ce0,#0c74dd,#046ce0,#0266e1,#3144bb,#2b4bc7,#2c49c5,#0661e0,#076fdf,#274ecc,#0c5dde,#076fdf,#1857d8,#3144bb,#3638a2,#2c4ac5,#0760e0,#2450cf,#0e5dde,#0266e1,#244fcf,#2b4bc8,#2053d4,#1c55d6,#2f47c0,#2b4bc7,#0269e1,#105bdd,#3341b5,#2152d2,#284dcb,#3045bd,#2b4bc7,#1c55d6,#066fdf,#1957d8,#0268e1,#3243ba,#2e47c1,#1758d9,#3144bb,#3243b9,#294cc9,#1956d8,#2450d0,#264ecd,#2a4cc9,#274ecc,#0363e1,#046ce0,#135adb,#2f46bf,#3340b4,#2d49c3,#353dad,#2c49c5,#1757d9,#1558da,#3242b8,#0268e1,#0364e1,#0761e0,#1a56d7,#0860e0,#284dcb,#3242b7,#353ba8,#3046be,#105bdd,#264ecd,#1658da,#343fb2,#2f46bf,#2351d0,#1e54d5,#3341b5,#056ee0,#105bdd,#1d54d5,#0363e1,#353dad,#284dca,#2d48c3,#343fb2,#0c5ede,#1c55d6,#3639a4,#343fb1,#3243b9,#3046be,#0b5edf,#2450d0,#3639a5,#0364e1,#0268e1,#2450cf,#343fb2,#0a5fdf,#1559da,#0266e1,#0364e1,#1c55d6,#125adc,#2d48c3,#353ba9,#0c5ede,#1857d8,#0266e1,#0d75dc,#0462e1,#353ba8,#2e48c2,#2053d4,#343eaf,#3639a5,#0b5edf,#3341b4,#2450d0,#3045bd,#3638a3,#2a4cc9,#2351d0,#3639a4,#353eaf,#2d49c4,#0266e1,#0267e1,#2251d2,#353eae,#3045bd,#3243b8,#3341b5,#1a56d7,#1558da,#2152d3,#353cac,#1d54d6,#2e48c2,#2251d2,#274ecc,#2d48c3,#36369f,#0363e1,#0d5dde,#2052d3,#3341b6,#36359c,#353dad,#3440b2,#3045bd,#2e48c1,#1d54d5,#2e47c1,#353ba8,#2e47c1,#2c4ac6,#1f53d5,#0562e0,#0265e1,#3341b6,#353caa,#3145bc,#2e47c1,#343fb2,#3046be,#2251d1,#353eaf,#2351d0,#284dcb,#3045bd,#3440b2,#363aa6,#353caa,#353ba8,#36369f,#353eaf,#353ba9,#36359e,#3144bb,#2a4bc8,#3046bf,#353caa,#343eaf,#3144bb,#353eaf,#36359e,#343eaf,#363aa6,#353ba9,#353dad,#3440b3,#353ba9,#3637a0,#353ba8,#353ba8,#343fb1,#353caa,#3637a1,#284dcb,#2d48c3,#353baa,#3639a5,#3243b8,#353eae,#363398,#3638a4,#3637a1,#274ecc,#3341b4,#353dac,#353dae,#3639a4,#3243ba,#353cac,#3639a5,#353caa,#343fb1,#353dad,#353caa,#353cab,#36349b,#353cab,#353ba9,#363aa7,#3637a1,#3243b9,#3046bf,#3243b9,#1857d8,#2450cf,#1e54d5,#1f53d4,#3440b3,#3342b6,#3244ba,#2e48c1,#2b4bc7,#125adb,#2350d0,#095fdf,#115bdd,#353dad,#284dca,#3440b2,#0d5dde,#105bdd,#363aa7,#353cab,#2350d0,#2351d0,#2d49c4,#2c4ac6,#3440b3,#3342b7,#2d49c4,#3045bd,#36369f,#343fb2,#3342b6,#353cab,#353dad,#36369f,#36359d,#343fb1,#353cab,#363195,#363093,#3639a5,#363398,#3637a0,#363195,#363aa6,#36359c,#3639a5,#36349c,#3637a0,#363296,#36369f,#353ba9,#36349b,#3638a2,#36359c,#362e8f,#363093,#363092,#363092,#363092,#363296,#363092,#363297,#363093,#362e8e,#362e8e,#352d8c,#363296,#36359d,#363195,#362f91,#363296,#363399,#363195,#363194,#362f90,#363092,#363092,#363194,#36349b,#363398,#363296,#362f91,#36349b,#352d8c,#352c8b,#352c8b,#352c8b,#352c8a,#352b89,#352b89,#352b88,#352b88,#352b88,#352c8a,#363195,#352b89,#352b88,#352c8a,#352b87,#352b88,#352b88,#352b87,#352b89,#352b89,#352b88,#352b89,#352b88,#352b88,#352b89,#352b87,#352b87,#352b89,#352b88,#352a87,#352b87,#352b88,#352b88,#352b88,#352c89,#352b87,#352b88,#352b88,#352b87,#352b87,#352b87,#352c8a,#352b88,#352b87,#352b89,#352b89,#352b88,#352b87,#352b87,#352b88,#352b88,#352b87,#352b89,#362d8d,#352a87,#352b87,#352b89,#352b89,#352b87,#352b87,#352a87,#352c8b,#363194,#352b89,#352b87,#352b88,#352b88,#352b89,#352b88,#352b87,#352b88,#352b88,#352c89,#352b87,#363399,#352b88,#352b89,#352c89,#352b87,#352b88,#352b87,#352b87,#352b88,#352b88,#352b88,#352b88,#352b87,#352b89,#352b88,#352b87,#352a87,#352b88,#352a87,#352b88,#352b88,#352a87,#352b89,#352c89,#352b88,#352b88,#352b88,#352b88,#352b88,#352a87,#352b88,#352b89,#352b87,#352b88,#352c8a,#352b88,#352b88,#352b88,#352b89,#352b87,#352b87,#352b87,#352b88,#352a87,#352b88,#352b88,#352a87,#352c89,#352b88,#352c89,#352b88,#352c8a,#352b88,#352b87,#352b88,#352c89,#352b87,#352c8a,#352b89,#352b87,#352b88,#352b89,#352b88,#352c8a,#352b88,#352b88,#352b88,#352b89,#352b87,#352b89,#352a87,#352a87,#352b87,#352b88,#352a87,#352a87,#352b88,#352b89,#352b88,#352b88,#352a87,#352b89,#352b88,#352b88,#352a87,#352b88,#352b88,#352a87,#352c89,#352b88,#352b88,#352b89,#352b89,#352b87,#352b87,#352b88,#352a87,#352a87,#352a87,#352c8a,#352b88,#352b88,#352b88,#352b88,#352b87,#352c8a,#352b88,#352b89,#352b87,#352b87,#352b88,#352b88,#352b88,#352a87,#352b88,#352b89,#352c8a,#352b89,#352b87,#352b87,#352a87,#352d8d,#352b88,#352b87,#352b87,#352a87 940.5px)"></div>
<div class="c" style="left:828px;background:linear-gradient(#352b88 .5px,#352c8a,#352c8b,#352c8a,#352b88,#352b88,#352b88,#352b88,#352a87,#352b87,#352b88,#352b87,#352c89,#352c8a,#352a87,#352a87,#352c89,#352b88,#352b88,#352b89,#352b87,#352c8a,#352b87,#352b88,#352b88,#352b87,#352c8b,#352b88,#352b89,#352b88,#352b88,#352b88,#352b89,#352b87,#352b89,#352b87,#352b88,#352a87,#352b88,#352b88,#352c89,#352c8a,#352b88,#352b87,#352b88,#352b88,#352b88,#352b88,#352b87,#352b88,#352b87,#352b88,#352b88,#352b88,#352b89,#352a87,#352b88,#352b87,#352b88,#352b88,#352b89,#352b88,#352b89,#352b88,#352b87,#352b88,#352b88,#352b89,#352b87,#352b89,#362e8e,#352b87,#352b87,#352b88,#352a87,#352b89,#352b89,#352b88,#352b87,#352b88,#352a87,#362e8f,#352b87,#352b88,#352b89,#352b88,#352b87,#352b89,#352b88,#352b87,#352b89,#352b88,#352b87,#352b88,#352b87,#352b88,#352b88,#352b88,#352b88,#352b88,#362f90,#352b87,#363398,#352b88,#352b87,#352b88,#352b89,#352b89,#352b88,#352c8b,#352d8c,#352d8c,#362e8f,#362e8d,#352c8a,#363297,#362f90,#363093,#36369e,#36349a,#36339a,#363195,#363194,#363296,#362f91,#362e8f,#363297,#362f91,#3638a3,#3637a1,#362e8f,#363093,#363297,#362f90,#352d8c,#362f91,#363196,#36349c,#363093,#362e8f,#362f91,#363298,#363398,#363094,#363196,#363093,#362f91,#363092,#362e8f,#362e8d,#362e8e,#363093,#3638a3,#362f91,#352d8b,#363297,#363297,#363296,#363092,#362e8f,#362d8d,#362e8f,#362f91,#36339a,#363194,#36359c,#363196,#363398,#363195,#36349a,#3637a1,#363196,#363093,#3638a3,#36359d,#353ba9,#36339a,#363399,#36349b,#36369e,#36369e,#36359d,#353cac,#363297,#36359d,#36349b,#36349c,#363195,#363398,#363093,#3637a1,#36359e,#36349b,#3638a2,#363398,#363399,#3639a5,#3637a1,#363296,#3639a5,#36369f,#3637a1,#36349b,#36369f,#36339a,#3637a0,#363194,#363296,#274ecc,#3341b4,#3638a3,#3637a0,#3046be,#363aa6,#343fb1,#3244ba,#353eae,#3342b7,#3243b9,#3341b5,#3637a0,#3639a5,#353eaf,#3638a2,#353dad,#3440b2,#36349b,#362f90,#363399,#363399,#2152d2,#2450cf,#3637a2,#343fb1,#3637a1,#353baa,#0661e0,#2d49c3,#2c4ac6,#3341b5,#264fcd,#046ce0,#0761e0,#0e5cde,#2c4ac7,#1f53d4,#1b55d7,#2e47c1,#2c4ac5,#3243b9,#2d49c4,#2d49c4,#3046be,#026ae1,#1956d8,#0e5cde,#0462e1,#0f5cdd,#125adc,#2450cf,#046ce0,#284dca,#2d49c4,#284dca,#1857d8,#0363e1,#0562e0,#264ecc,#0e5cde,#2e47c1,#0e5cde,#0265e1,#2152d3,#284dca,#3341b5,#0e5cde,#0363e1,#2d48c3,#3145bd,#353cab,#3244ba,#3244ba,#284dca,#0462e1,#2e48c2,#3639a4,#2251d1,#0d76dc,#0c5ede,#066edf,#0b5ede,#3342b6,#2e48c1,#3243b9,#1e54d5,#3045bd,#2c4ac6,#254fce,#2f47bf,#036ae1,#2d49c4,#353cac,#3244ba,#3144bc,#066fdf,#0860e0,#3638a2,#3342b7,#353ba8,#3244ba,#1459db,#0364e1,#0f5cdd,#3342b6,#36369e,#125adc,#0561e0,#1a56d7,#056ee0,#1459da,#1b55d7,#2c4ac5,#2f47c0,#0e5dde,#095fdf,#1857d8,#0363e1,#125adc,#095fdf,#125adc,#0f5cdd,#2e47c1,#343fb1,#2152d3,#0b5ede,#0770df,#2d49c4,#3046be,#0d5dde,#1857d9,#3243b8,#353dac,#1459db,#1d54d6,#2c49c5,#363aa6,#3440b2,#1f53d4,#105bdd,#3342b6,#2a4cc9,#0f5cdd,#135adb,#3045bd,#3046bf,#3046bf,#0265e1,#274dcb,#1857d8,#0d75dc,#0b5edf,#2f47c0,#2d48c3,#1e54d5,#353dad,#353dae,#363aa6,#3144bb,#0265e1,#1658d9,#3243b9,#0b5ede,#0d5dde,#36369f,#353dad,#3340b3,#2f46bf,#3144bb,#1f53d4,#2e48c2,#3144bb,#284dca,#1e54d5,#3341b5,#2152d3,#0268e1,#2d48c3,#3145bc,#1658da,#353eae,#36359c,#2450cf,#2f47c0,#3341b6,#3046be,#0462e1,#056ee0,#2c49c5,#036ae1,#2b4bc7,#0267e1,#1559da,#0b5edf,#353dad,#3638a3,#363398,#3145bd,#105cdd,#2d49c4,#3046be,#353cac,#3638a3,#353dad,#3342b6,#343eb0,#36359e,#353ba9,#2f47c1,#2b4bc7,#2e47c1,#2f47c0,#3145bc,#3243b8,#2f47c1,#2e48c2,#343fb1,#2e48c2,#2f47c0,#3341b4,#2d49c3,#3440b2,#135adb,#3145bc,#1757d9,#2a4cc9,#0f5cde,#125adc,#294dca,#2251d1,#0f5cdd,#105bdd,#264ecc,#3342b6,#2c4ac6,#2d48c3,#343fb0,#1758d9,#0a5fdf,#0267e1,#0269e1,#0f5cdd,#3243b9,#3243b8,#1559da,#125adc,#0971de,#1d54d6,#0f5cde,#2251d1,#046ce0,#1359db,#066edf,#2251d2,#1559da,#2152d3,#353dae,#294cc9,#2e48c2,#3145bc,#3440b3,#0269e1,#0269e1,#294dca,#138ad3,#0267e1,#0661e0,#2d49c4,#3341b4,#2d49c4,#1757d9,#0265e1,#0266e1,#0266e1,#3144bb,#0b5edf,#1956d8,#1857d8,#0e77db,#0562e0,#2a4cc8,#0364e1,#0265e1,#135adb,#353baa,#353eae,#0f5cde,#0562e0,#1459da,#2d49c4,#3145bc,#0265e1,#0267e1,#115bdc,#2f47c0,#3341b4,#3244ba,#1459db,#3342b6,#0268e1,#046de0,#2450cf,#36349b,#1559da,#1f53d4,#3145bc,#3341b4,#0661e0,#2350d0,#0265e1,#0a5fdf,#0269e1,#2152d3,#0268e1,#3243b8,#3341b5,#1078da,#0a5fdf,#0364e1,#2a4cc9,#1857d8,#0661e0,#2c49c5,#3243b9,#2053d4,#2152d2,#0e5cde,#264ecd,#353eaf,#353cac,#3144bb,#3145bc,#2b4bc7,#3046be,#046ce0,#3244ba,#353cab,#2c4ac7,#3243b8,#353ba9,#36359d,#3638a2,#353eae,#353cab,#363aa6,#343fb2,#343eb0,#353cab,#343fb0,#3440b2,#343fb0,#3244ba,#3639a6,#36349b,#36349a,#36359c,#3636a0,#363298,#3637a1,#363398,#36349b,#343fb2,#363aa6,#36349b,#3639a4,#36349a,#36369e,#3638a2,#353aa8,#36359d,#343eaf,#3243b8,#343fb2,#3341b4,#36359c,#363092,#363aa7,#36369f,#363aa7,#36369f,#363195,#363296,#363aa6,#363195,#363296,#363398,#363195,#36349a,#363093,#362f90,#362f91,#36359c,#363296,#363194,#363297,#3638a4,#363092,#362e8f,#363296,#363092,#363298,#362f91,#363195,#363398,#363092,#363093,#362e8e,#362f91,#362e8e,#363091,#363195,#363194,#363092,#363093,#363091,#363093,#363298,#36359d,#362f90,#362f90,#363093,#362d8d,#363296,#362f91,#362e8e,#363194,#363194,#362f91,#363093,#362f90,#352d8c,#352c89,#352b89,#352c8a,#352c8a,#352d8b,#352c8a,#352b89,#352b89,#352b89,#352b89,#352b89,#352b89,#352c89,#352c8a,#352b89,#352b88,#352c8a,#352c8a,#352b88,#352c89,#352b89,#352c8a,#352b89,#352b89,#362e8e,#352b89,#352b89,#352b88,#352b88,#352b88,#352c8a,#36359d,#363398,#352c89,#352b89,#352b88,#352b88,#352b88,#352c8a,#352c8a,#362e8f,#352b88,#352b88,#352c89,#352c89,#352c8a,#352b88,#352b88,#352b89,#352b89,#352b88,#352c89,#352b89,#352b88,#352b89,#352b89,#352b89,#352c8a,#352b89,#352c89,#352b89,#352b89,#352c89,#352b88,#352b87,#352b88,#352c8a,#352c8a,#352c89,#352b89,#352c89,#352c8a,#352b89,#352b88,#352c8a,#352b89,#352c8a,#363399,#352b89,#352c8a,#352b88,#352b89,#352b89,#352b89,#352b89,#352b89,#352b89,#352b89,#352c89,#352b88,#352d8c,#352c89,#352b88,#352c8b,#352b89,#352c89,#352c8a,#352b89,#352b89,#352b89,#352c8a,#352b89,#352c89,#352b89,#352b88,#352c8a,#352c89,#352b88,#352b88,#352c89,#352b88,#352b89,#352c89,#352c8a,#352c8a,#352c8a,#352b89,#352c8b,#352c8a,#352b89,#352c89,#352d8b,#352b89,#352b89,#352c8a,#352c89,#352b89,#352b88,#352c8a,#352d8c,#352c8a,#352b88,#352c8a,#352c8a,#352c89,#352b88,#352b89,#352c89,#352c8a,#352b88,#352b89,#352c8a,#352b89,#352b89,#352b89,#352c8a,#352b89,#352c89,#352b88,#352b89,#352c8a,#352c8a,#352b88,#352c8a,#352c89,#352b89,#352b89,#352c8a,#352b89,#352c8a,#352d8d,#352b89,#352b89,#352c8b,#352b88,#352b89,#352b88,#352b88,#352b89,#352d8d,#352b89,#352b89,#352b88,#352c8a,#352b89,#352b89,#352b89,#352c8a,#352c89,#352b88,#352b89,#352b89,#352c89,#352c8a,#352b89,#352c8a,#352c89,#352b89,#352b88,#352c8a,#352b89,#352b88,#352c8b,#352b89,#352b89,#352b89,#352c89,#352b88,#352b88,#352c8a,#352b89,#352c89,#352b89,#352b88,#352b88,#352b88,#352c8a,#352c8a,#352b88,#352c8a,#352b88,#352c89,#352b89,#352b89,#352b88,#352c8a,#352c8b,#352b89,#352b88,#352c8a,#352b89,#352b89,#352b88,#352b89,#352b89,#352b89,#352b89,#352d8c,#352b88,#352b88,#352b89,#352b89,#352c8a,#352c8a,#352c8b,#352b89,#352b89,#352c8a,#352b89,#352b88,#352b89,#352b88,#352c8a,#352d8c,#352c8a,#352b89,#352b89,#352b88,#352b88,#352c8a,#352b88,#352b89,#352c8a,#352b88,#352b88,#352b88,#352b88,#352c8b,#352b89,#352c89,#352b88,#352c89,#352c8a,#352c8b,#352b89,#352c89,#352b89,#352c8a,#352c89,#352b89,#352b89,#352b88,#352b88,#352b89,#352b88,#352b88,#352b89,#352c8a,#352b89,#362e8f,#352c8b,#363399,#352c89,#352c8a,#352c8b,#352c89,#352b89,#352b89,#352b89,#352b89,#352c89,#352b88,#352c8b,#352b89,#352c8a,#352c8a,#352b88,#352b89,#352b89,#352c8a,#352c89 940.5px)"></div>
<div class="c" style="left:862.5px;background:linear-gradient(#362f90 .5px,#362f90,#362e8f,#352d8c,#352d8b,#352d8d,#363092,#362e8f,#362e8d,#363093,#363194,#362f91,#362f90,#362d8d,#362d8d,#362d8d,#352c89,#362e8f,#362e8e,#352d8d,#362e8e,#352d8c,#362e8e,#352d8b,#362d8d,#362e8e,#362e8f,#362e8e,#352d8c,#352c8a,#352d8d,#352d8c,#352c8a,#363092,#36349b,#363296,#363297,#36359d,#36369e,#3341b4,#36369f,#363398,#363092,#36359d,#363aa7,#36349a,#363195,#363398,#36349a,#3638a3,#363399,#362f90,#363296,#363092,#363092,#36369e,#363398,#36349b,#363194,#363297,#363093,#363195,#36369f,#363297,#363398,#363297,#363296,#363092,#363093,#363092,#363194,#363195,#363194,#36359d,#353dad,#353dac,#3340b3,#2f47c0,#2a4bc8,#343fb0,#353ba9,#2a4cc9,#3145bc,#254fce,#3440b2,#2f47c1,#3342b6,#343eb0,#353cab,#353cac,#343eb0,#3440b2,#2b4bc8,#1559da,#254fce,#2c4ac6,#3045bd,#3440b3,#353eaf,#343fb0,#3341b4,#343fb2,#3244ba,#343fb1,#1c55d6,#3638a4,#343fb0,#3046be,#36369f,#3340b4,#353dad,#1d54d5,#2e48c1,#3341b6,#2e48c2,#3342b7,#0661e0,#2e48c3,#294cc9,#0364e1,#2350d0,#2053d4,#1956d8,#2450cf,#2053d4,#0c74dd,#115bdc,#3145bc,#0269e1,#1459db,#2d49c5,#3244ba,#0c5dde,#1d54d5,#3341b4,#2b4bc7,#3341b6,#2c4ac6,#284dca,#0267e1,#0363e1,#294cca,#137ed7,#056ee0,#0267e1,#2053d4,#3341b4,#3046be,#36359e,#1a56d7,#0269e1,#066fdf,#1758d9,#264ecd,#0f5cde,#2f47bf,#3045bd,#2c4ac6,#0e5dde,#244fcf,#2152d2,#105bdd,#3244ba,#0363e1,#0c5ede,#343fb2,#0267e1,#0267e1,#353dad,#2e47c1,#264fcd,#0760e0,#274ecc,#0562e0,#2052d3,#3341b4,#2d49c3,#0870df,#3242b8,#3440b3,#3244ba,#135adb,#056ee0,#2152d2,#0462e1,#0269e1,#3341b5,#3045bd,#095fdf,#2f46bf,#353cab,#3045bd,#1d54d6,#0760e0,#2b4bc7,#2c4ac6,#0d75dc,#0269e1,#2152d2,#0c5dde,#1956d8,#1d54d5,#3243b8,#1857d8,#2b4bc7,#2f46bf,#2a4cc8,#274ecc,#1857d9,#1658da,#2152d2,#1359db,#284dcb,#2053d4,#0265e1,#0e5dde,#2a4cc9,#1956d8,#0770df,#0761e0,#0a72de,#0971de,#2c49c5,#0770df,#0267e1,#2f47c0,#3145bc,#3046bf,#2f47c0,#1559da,#046de0,#127cd8,#056ee0,#1c55d6,#3145bc,#2c4ac6,#1a56d7,#0d5dde,#0b73dd,#0265e1,#3046be,#2f47c0,#0364e1,#2251d1,#1757d9,#3440b3,#2251d2,#2a4bc8,#2f47c0,#1758d9,#3341b6,#1559da,#3046be,#284dcb,#254fce,#3342b7,#353dac,#353dad,#0a5fdf,#2152d3,#3144bb,#1b55d7,#1f53d4,#0c74dd,#0d5dde,#2c4ac6,#046de0,#0267e1,#115bdd,#1d54d5,#0d5dde,#127cd8,#036ae1,#066edf,#0f5cdd,#3243b9,#046ce0,#046de0,#0268e1,#0269e1,#0269e1,#0363e1,#2c4ac7,#3341b5,#353ba8,#2e48c3,#0266e1,#0b5ede,#0a5fdf,#2350d0,#3243b9,#264ecd,#3340b3,#36359d,#0267e1,#125adb,#0365e1,#0972de,#0c5dde,#1459db,#2a4bc8,#026ae1,#2251d1,#0a5fdf,#0b74dd,#0462e1,#0265e1,#254fce,#2251d1,#353caa,#036be0,#0e5cde,#264fcd,#046de0,#0363e1,#1078da,#0661e0,#1957d8,#036ce0,#2d49c4,#0269e1,#2b4bc7,#353eae,#353dac,#0871de,#254fcd,#363399,#2351d1,#0760e0,#2450d0,#2152d2,#1e54d5,#0462e1,#0761e0,#2d49c4,#2251d1,#1757d9,#254fce,#036ae1,#135adb,#1e54d5,#0265e1,#137ed7,#0364e1,#2d49c4,#2e48c3,#0268e1,#1a56d7,#3341b5,#0268e1,#0971de,#0268e1,#0661e0,#115bdd,#0363e1,#076fdf,#0265e1,#0269e1,#115bdc,#3145bc,#1857d8,#0871de,#036ae1,#3243b9,#2351d1,#105bdd,#2c4ac6,#1d55d6,#0c5ede,#0365e1,#2e48c2,#3340b4,#137fd7,#0269e1,#0462e1,#0364e1,#046de0,#1b56d7,#0d75dc,#1482d5,#0268e1,#056de0,#1857d8,#2053d4,#0a5fdf,#0267e1,#274ecc,#0363e1,#0e5cde,#2d49c4,#2450cf,#135adb,#2a4cc9,#1857d8,#056de0,#0268e1,#0364e1,#2152d2,#2e48c3,#125adc,#254fce,#3440b2,#36349a,#0a5edf,#115bdc,#3341b5,#1e54d5,#0e5cde,#3341b4,#2f47c0,#343eaf,#1956d8,#046de0,#0761e0,#2c4ac5,#353dad,#1e54d5,#274ecc,#0363e1,#0760e0,#0e76db,#1e54d5,#363398,#2c4ac7,#3243b8,#095fdf,#264ecd,#3342b6,#3342b7,#1f53d4,#3046bd,#3637a2,#2d49c4,#2053d4,#2e48c2,#3144bb,#353dad,#3342b7,#353dad,#3638a2,#353baa,#3243b9,#3243b9,#2c4ac5,#343fb0,#36359c,#3638a3,#3340b3,#343fb0,#343eaf,#363296,#3637a2,#363399,#343fb0,#2b4bc8,#284dca,#343eaf,#3243ba,#2152d3,#343eaf,#36359d,#3637a1,#363399,#36359e,#2c4ac6,#2251d1,#2b4bc7,#353eae,#36359e,#3638a3,#353baa,#36369e,#3637a0,#36349b,#36359d,#36339a,#36339a,#363195,#363194,#3638a2,#363092,#3638a2,#363399,#362f91,#363194,#362f91,#362f90,#363195,#363092,#362d8d,#363296,#363195,#362d8d,#362f90,#363296,#363296,#363092,#363093,#363093,#36349b,#363296,#362f90,#352d8c,#363195,#363399,#363195,#363093,#363194,#36359d,#362f91,#363194,#363296,#3637a1,#363297,#362f90,#363092,#352d8b,#352d8b,#363092,#363195,#3637a0,#363196,#362e8e,#363093,#363399,#362e8f,#362e8f,#36349a,#362e8e,#362e8f,#363398,#363092,#362f91,#363297,#362e8d,#352d8d,#352d8c,#352c89,#352b88,#352b89,#352b89,#352c8a,#352c8b,#352c8a,#352c8a,#352b89,#352c8a,#352b89,#352c8a,#352c8a,#352c8a,#352c8a,#352c89,#352b89,#352b89,#352c8a,#352b89,#352c89,#352b89,#352d8c,#352c8a,#352b89,#363aa7,#352b88,#352c8a,#352c8a,#363296,#352c8b,#352d8c,#352c8b,#352b89,#352c89,#352c8b,#352d8c,#352c8b,#352c8b,#352c89,#352c8a,#352c89,#352b89,#352c8a,#352b89,#352b89,#352c8b,#352c8b,#352c89,#352c89,#352c8a,#352b89,#352b89,#352c8a,#352b89,#352c89,#352c8a,#352c89,#352b89,#352b89,#352c8a,#352c8b,#352b89,#352d8c,#352c8b,#352c89,#352c89,#352b89,#352b89,#352c8a,#352c89,#352c8a,#352c89,#352b89,#352c8a,#352b89,#352b88,#352c8a,#352b89,#352d8c,#352b89,#352c8b,#352c89,#352b89,#352c8b,#352d8c,#363194,#352c8a,#352b89,#352c8a,#352b88,#352b89,#352c8b,#352b89,#352c8a,#352c8a,#352b89,#352c8a,#352c89,#352b88,#352c8a,#352c8a,#352d8d,#352c8a,#352b89,#36369e,#352c8a,#352c8a,#352c8a,#352b88,#352c8a,#352c8a,#352b89,#352c8a,#352c8a,#352c8a,#352c8a,#352c8b,#352b89,#352c8b,#352c8b,#352c8b,#352b88,#352b89,#352c8a,#352c8a,#352b89,#352c8b,#352c8a,#352c8a,#352b89,#352b89,#352b89,#352b89,#352b89,#352c89,#362f8f,#352c8a,#352d8c,#352c8b,#352b88,#352c8a,#352c89,#352c8b,#352c8a,#352c8a,#36359c,#352b88,#363194,#352b89,#352b89,#352b89,#352b89,#352b89,#352c8a,#352c89,#352c8a,#352b88,#352c8b,#352b89,#352b88,#352b87,#352c89,#352c89,#352c8a,#352c8a,#352c8b,#352c8b,#352c8b,#352c8b,#352c8a,#352c8a,#352c8a,#352c8a,#352c8a,#352b89,#352b88,#352c8b,#352c8b,#352c8a,#352d8b,#352b89,#352b89,#352b89,#352b89,#352b88,#352b89,#352b89,#352c89,#352c8a,#352c8b,#352c8b,#352b89,#352d8b,#352c8b,#352b88,#352b89,#352c8a,#352b89,#352c89,#352b88,#352c89,#352c8a,#352b89,#352c89,#352c8a,#352b89,#352c89,#352c8a,#352c8b,#352c8a,#352c89,#352c8a,#352c89,#352c89,#352b89,#352b89,#352c8b,#352c8b,#352c8a,#352c8a,#352c89,#352d8c,#352d8c,#352c8a,#352c8b,#352c89,#352c8a,#352b88,#352c89,#352b89,#352c8b,#352b88,#352b89,#352c89,#352b89,#352d8c,#362f91,#352b89,#352c8a,#352c8a,#352c8a,#352c89,#352c89,#352b89,#352c89,#352c8a,#352b89,#352c8a,#352d8c,#352c8a,#352c8b,#352c8a,#352b88,#352b89,#352c8a,#352c89,#352b89,#352c89,#352c8b,#352b89,#352b89,#352b89,#352c89,#352b89,#352b89,#352c8b,#352c8a,#352b89,#352b88,#352c89,#352c8a,#352b88,#352b88,#352c8a,#352c8a,#363195,#352c8b,#352b89,#352c89,#362d8d,#352c8a,#352c8a,#352b89,#352b89,#352c89,#352c8b,#352c8a,#352c8a,#352c89,#352b89,#352c8b,#352c8a,#352d8c,#352c8a,#352c8b,#352c89,#352c8b,#352b88,#352d8c,#352c8a,#352c8a,#352c8a,#352b89,#352c8a,#352c8b,#352c8a,#352c8a,#352c8a,#352c8b,#352c8a,#352c89,#352b89,#352c8a,#352c8b,#352c8b,#352b88,#352c8a,#352c8a,#352c8a,#352c8a,#352d8d,#352c8a,#352b89,#352b89,#352c8a,#352c8b,#352c8a,#352c8a,#352c8a,#352c8a,#352b88,#352b88,#352c8a,#352c8a,#352b89,#352b89,#352b89,#352c89,#352b89,#352c8a,#352b88,#352c8a,#352b89,#352c8b,#352d8b,#352c8b,#352b89,#352c8b,#352c8a,#352b88,#352b89,#352d8c,#352b89,#352c8b,#352d8b,#352c8a,#352c89,#352c8a,#352d8c,#352c8b,#352b89,#352c8a,#352b88,#352c8a,#352c8a,#352b89,#352b89,#352c89,#352c8b,#352c8b,#352c8a,#352c8a,#352c8b,#352b89,#352c8a,#352c8a,#352c89,#352b89,#352b88,#352d8c,#352c8a,#352b89,#352c8a,#352c8a,#352b88,#352c89,#352c8b,#352c8b,#352b88,#352c8b,#352c8a,#352c8a,#352d8c,#352b89,#352c89,#352c8a,#352c89,#352b88,#352b89,#352b88,#363296,#352b89,#352b89 940.5px)"></div>
<div class="c" style="left:897px;background:linear-gradient(#353ba8 .5px,#3144bb,#353ba9,#353ba9,#2152d2,#1559da,#353ba8,#353dad,#3144bb,#3440b3,#264fcd,#1359db,#3243b9,#343fb0,#353cab,#2e47c1,#274ecc,#2351d0,#0266e1,#0363e1,#1e54d5,#3144bb,#343fb1,#095fdf,#036be1,#0860df,#353dac,#1c55d6,#2e48c2,#3340b3,#2152d2,#0265e1,#3045bd,#2e48c2,#3045bd,#1f53d4,#3340b4,#2c4ac6,#294cc9,#2251d1,#1f53d5,#0a5fdf,#0761e0,#115bdd,#1559da,#1f53d4,#3045bd,#0a5fdf,#0265e1,#1658d9,#036ae1,#0265e1,#2b4bc7,#2351d0,#2052d3,#343fb2,#1c55d6,#0267e1,#2c4ac6,#036be0,#138ad3,#095fdf,#353ba9,#0760e0,#0b73dd,#095fdf,#3639a6,#343eb0,#0a5fdf,#2c4ac6,#2450cf,#3341b4,#2450cf,#1857d8,#0363e1,#3341b6,#046de0,#2251d1,#117ada,#0269e1,#2251d2,#0268e1,#3342b7,#0b5ede,#0265e1,#3045bd,#1c55d6,#3046bf,#3342b7,#353eaf,#353eae,#2f46bf,#2e48c2,#353dae,#0f5cdd,#046de0,#2152d3,#046ce0,#274ecc,#0f5cdd,#1c55d6,#0661e0,#3244ba,#353cac,#066fdf,#0c74dd,#036be1,#127cd8,#2052d3,#3046be,#254fce,#036be1,#0365e1,#1e54d5,#3144bb,#2251d1,#2052d3,#125adb,#2152d3,#1c55d6,#0760e0,#066fdf,#1658d9,#0a5fdf,#066fdf,#115bdc,#264fcd,#2e47c1,#0d5dde,#0661e0,#2351d1,#353dad,#343fb0,#1a56d7,#0268e1,#036be1,#0e77db,#1e54d5,#1857d8,#0266e1,#117bd9,#056de0,#2d49c4,#1757d9,#3242b8,#353aa8,#3045bd,#066fdf,#2f47c0,#2a4cc9,#0d5dde,#1758d9,#3341b5,#3340b4,#066fdf,#274dcb,#254fce,#2152d3,#2450cf,#3341b5,#2152d3,#3242b7,#353dad,#2f47bf,#0363e1,#1f53d4,#2b4bc8,#343fb2,#1459da,#353dad,#2c4ac6,#1f53d4,#036ae1,#0d5dde,#2f46bf,#3341b4,#353dae,#353dad,#353dac,#1758d9,#0d5dde,#3243b9,#353cac,#2d49c4,#1559da,#2450cf,#036be0,#0a73dd,#2a4cc9,#353ba9,#3341b6,#2d49c4,#0364e1,#1f53d4,#353cab,#2a4cc9,#1d55d6,#0760e0,#3145bd,#3046be,#3145bc,#3145bc,#294cca,#294cca,#0e5dde,#1459db,#0f5cdd,#137ed7,#0972de,#0b5edf,#3440b2,#3144bb,#0269e1,#0268e1,#2c4ac6,#076fdf,#2053d4,#135adb,#3145bc,#0267e1,#3244ba,#353cab,#2d49c5,#3639a5,#1459db,#2d48c3,#2152d3,#2f46bf,#2350d0,#294cca,#0e5cde,#1b55d6,#3145bc,#3342b7,#0c5dde,#0267e1,#294cca,#046ce0,#0364e1,#036ce0,#0a72de,#125adc,#036be0,#0364e1,#0c5ede,#254fce,#0971de,#1486d4,#0265e1,#0268e1,#0972de,#0a5fdf,#1658d9,#0268e1,#0269e1,#0860e0,#0b73dd,#0b5edf,#2d49c4,#0d5dde,#046de0,#0e5cde,#0b74dd,#0267e1,#0269e1,#2e48c2,#343fb1,#0363e1,#3341b5,#0462e1,#0a73dd,#2251d1,#125adc,#0870df,#0a72de,#125adc,#0363e1,#117ad9,#1078da,#0c74dd,#1857d9,#2e47c1,#1a56d7,#2252d2,#1956d8,#066fdf,#0a96d1,#0b73dd,#284dcb,#0770df,#0268e1,#1f53d4,#3046be,#353ba9,#2c49c5,#036be1,#1d54d5,#3045bd,#363aa7,#046de0,#294cc9,#353dac,#1459da,#0770df,#0f5cdd,#1757d9,#0266e1,#3342b6,#284dcb,#1857d8,#2f47c0,#3639a5,#36359d,#2f46bf,#125adc,#3144bb,#343fb2,#2c4ac5,#2f47c0,#3638a3,#353cab,#3638a4,#3243ba,#1359db,#343eb0,#3440b3,#353dad,#3242b8,#3342b6,#3341b5,#2c4ac6,#2d49c5,#3638a3,#3639a4,#3045bd,#353cac,#3341b4,#3243b9,#2e48c2,#3342b7,#353caa,#274dcc,#3637a1,#363296,#3244ba,#343fb2,#2f47c0,#2c4ac6,#3639a4,#3637a0,#36349a,#3639a5,#36359c,#3243b8,#36349b,#36349b,#353caa,#3638a3,#3440b2,#363aa6,#3639a6,#36349a,#3638a2,#36359c,#363398,#363091,#36359c,#36359d,#36359d,#36349a,#3638a4,#36369e,#363398,#3637a1,#36369e,#362e8f,#3639a6,#36369f,#363399,#362e8e,#362f91,#3637a2,#3637a1,#36359c,#36349c,#362f91,#363093,#363399,#363296,#362f91,#3638a2,#363296,#3637a0,#363399,#363aa6,#36359c,#363194,#362f91,#362e8f,#352d8c,#363399,#363398,#363399,#363195,#353ba9,#36349b,#363092,#363398,#36349a,#36349c,#363297,#3639a4,#363092,#363092,#363093,#362e8e,#352c8b,#363092,#362f91,#352d8d,#362f90,#362f91,#362d8d,#362d8d,#362e8d,#363092,#362e8e,#352d8b,#362e8f,#352d8d,#352d8c,#362f91,#352c8a,#362e8e,#362e8e,#362f90,#352d8d,#362e8e,#363194,#363194,#352d8d,#362e8e,#363092,#352d8d,#352c8a,#352d8d,#352c8a,#352d8c,#362f90,#362e8f,#363093,#362e8e,#352d8c,#352d8c,#363093,#362e8e,#352d8c,#362f91,#362e8f,#362f91,#362e8f,#352c8b,#352d8c,#352d8b,#363092,#362e8e,#362f90,#352d8b,#352d8b,#362e8f,#352d8c,#362e8d,#362e8d,#352d8c,#352c8a,#352b89,#352b89,#352b88,#352b88,#352c89,#352b87,#352b88,#352b88,#352b88,#352b87,#352b88,#352b88,#352b87,#352b88,#352b87,#352b88,#352b87,#352b87,#352b88,#352b89,#352b87,#352b88,#352a87,#352b89,#352b88,#352b88,#352b88,#352c89,#352b87,#352b88,#352a87,#352b88,#352b88,#352b88,#352b87,#352b88,#352b88,#352b88,#352b88,#352b88,#352b89,#352a87,#352b88,#352b87,#352a87,#352b88,#352b89,#352b88,#352a87,#352b87,#352b87,#352c89,#352d8c,#352b88,#352b89,#352b88,#352b88,#352a87,#352b88,#352a87,#352c8a,#352b88,#352b88,#352b88,#352b88,#352a87,#352a87,#352b87,#352b88,#352a87,#352b89,#352b88,#352c8a,#352b88,#352b88,#352c8a,#352b87,#352b88,#352b88,#352b88,#352b88,#352b88,#352b89,#352b88,#352b89,#352b88,#352b87,#352b87,#352b88,#352b88,#352a87,#352b87,#352b89,#352b89,#352b88,#352b88,#352a87,#352a87,#352b89,#352b88,#352b88,#352b88,#352b88,#352a87,#352b88,#352b87,#352b88,#352b87,#352b88,#352a87,#352a87,#352a87,#352b88,#352b88,#352b88,#352b89,#352b88,#352b87,#352b89,#352a87,#352b88,#352b89,#352a87,#352b88,#352b87,#352b87,#352b88,#352c8a,#352b88,#352b88,#352a87,#352c89,#352b87,#352b87,#352b87,#352b87,#352b88,#352b87,#352b87,#352a87,#352b88,#352a87,#352b87,#352b87,#352b88,#362e8e,#352b88,#352b88,#352b89,#352b87,#352b87,#352b87,#352b89,#363398,#352a87,#352b87,#352b88,#352b87,#352c89,#352b89,#352b88,#352b88,#352b88,#352b88,#352b87,#352c8a,#352b88,#352b87,#352b87,#352b88,#352b88,#352b87,#352b88,#352b88,#352a87,#352b89,#352c89,#352b88,#352b87,#3638a2,#352b89,#352a87,#352a87,#352b89,#352b88,#352b88,#352b88,#363195,#352a87,#352b88,#352b88,#352b88,#352b89,#352b88,#352b87,#352b87,#352b88,#352c8b,#352b89,#352b88,#352a87,#352b88,#352b89,#352c8a,#352b88,#352c89,#352b88,#352b87,#352a87,#352b87,#352b88,#352b87,#352b88,#352b88,#352b88,#352c89,#352b88,#352b89,#352b89,#352a87,#352b88,#352b89,#352b88,#352b89,#352b88,#352b88,#352b87,#352b88,#352b88,#352b88,#352b89,#352b88,#352b87,#352b89,#352a87,#352c89,#352b88,#352b88,#352a87,#352b88,#352b87,#352b87,#352b88,#352b88,#352b87,#352b88,#352b87,#352b88,#352b88,#352b88,#352b89,#352b88,#352b87,#352b88,#352a87,#352b88,#352c8a,#352b89,#352b88,#352b87,#352b89,#352b88,#352b88,#352a87,#352b88,#352b88,#352b88,#352a87,#352b87,#352b87,#352b87,#352b88,#352b88,#352a87,#352b87,#352b88,#352b88,#352b87,#352b87,#352b89,#352b88,#352b88,#352b89,#352c8a,#352b88,#352c8a,#352b88,#352b88,#352b87,#352b87,#352b88,#352b88,#352b88,#352b88,#352b89,#352c89,#352c89,#352b87,#352b87,#352a87,#352b88,#352a87,#352a87,#352a87,#352b87,#352b88,#352a87,#352a87,#352b88,#352b88,#352b87,#352b89,#352b88,#352b87,#352b89,#352b88,#352b87,#352a87,#352b87,#352b88,#352c8a,#352b87,#352b87,#352a87,#352b87,#352b89,#352b88,#352b88,#352b89,#352b89,#352a87,#352b88,#352b88,#352b88,#352b88,#352b88,#352b87,#352b87,#352b88,#352b88,#352b89,#36349a,#352b89,#352a87,#352b88,#352a87,#352b88,#352b88,#352b88,#352b88,#352b88,#352b88,#352b89,#352b89,#352b88,#352b87,#352b89,#352b89,#352c89,#352b88,#352b87,#352b88,#352b88,#352a87,#352a87,#352b89,#352a87,#352b88,#352b88,#352b88,#362f90,#352c8a,#352b89,#352b88,#352b88,#352a87,#352c89,#352b89,#362e8e,#352b87,#352b89,#352c8a,#352b88,#352b88,#352b87,#352b87,#352b87,#352b87,#352a87,#352b87,#352b88,#352b87,#352b88,#352b88,#352b89,#352b88,#352b88,#352b89,#352b89,#352b87,#352b88,#352b89,#352b88,#352b87,#352b89,#352a87,#352b88,#352b88,#352b87,#352b88,#352c89,#352b89,#352b88,#363092,#352b88,#352b88,#352b88,#352b89,#352b87,#352a87,#352b89,#363297,#352b88,#352b88,#352b88,#352b87,#352b88,#352b88,#352b88,#352b87,#352b88,#352b87,#352b89,#352b88,#352c89,#352a87,#352b88,#352b87,#352b88,#352b89,#352a87,#363297,#352b88,#352b89,#352b88,#352b88,#352b87,#352b87,#352b88,#352b87,#352b87,#362f91,#352b87,#352b88,#352b88,#352c89,#352a87,#362e8f,#352b88,#352a87,#352b88,#352b88,#352b89,#352b88,#352b88,#352b87 940.5px)"></div>
<div class="c" style="left:931.5px;background:linear-gradient(#0b73dd .5px,#0268e1,#066edf,#1d54d5,#0265e1,#0269e1,#1d54d5,#274ecc,#254fcf,#1857d8,#2a4bc8,#2351d1,#3440b3,#254fce,#0268e1,#0c5ede,#1558da,#254fce,#0b5edf,#1e54d5,#2f46bf,#066fdf,#135adb,#3342b7,#294cc9,#2d49c3,#0269e1,#0562e0,#0364e1,#135adb,#2450cf,#1e54d5,#2b4bc8,#0c5ede,#036be1,#274dcb,#294cca,#046ce0,#135adb,#0770df,#0e76dc,#117ada,#036be0,#117ad9,#1a56d7,#3045bd,#066edf,#066fdf,#0770df,#046ce0,#1558da,#1758d9,#343fb0,#3045bd,#2a4bc8,#3341b6,#0a72de,#0a72de,#0363e1,#036be0,#264fcd,#254fce,#0860e0,#1658da,#0265e1,#1f53d4,#3045bd,#353dad,#1956d8,#0269e1,#036ae1,#3046be,#353dad,#2e48c2,#0269e1,#2053d4,#3340b3,#3046be,#3244ba,#353cab,#3243b8,#0f5cdd,#026ae1,#105bdd,#2c4ac6,#2e47c1,#0a5fdf,#0266e1,#284dca,#2f46bf,#353cac,#2351d0,#1758d9,#1c55d6,#274ecc,#0265e1,#036be1,#2b4bc8,#105bdd,#0d5dde,#0b5ede,#2c4ac6,#36369f,#066fdf,#264ecd,#0760e0,#2450cf,#3242b8,#3637a0,#0a5fdf,#1079da,#0266e1,#2f47c0,#0e5cde,#0561e0,#1f53d4,#343eaf,#254fce,#0267e1,#0364e1,#0562e0,#0363e1,#1b55d6,#0c74dd,#0266e1,#0269e1,#0e5dde,#3046be,#1757d9,#105bdd,#3242b7,#0268e1,#0265e1,#0364e1,#0267e1,#0269e1,#1459da,#1857d8,#3046be,#1d54d5,#1658da,#0267e1,#2e48c1,#274dcc,#0364e1,#046ce0,#0462e1,#2152d2,#3639a4,#2d49c4,#284dcb,#0265e1,#1956d8,#2a4cc9,#046de0,#2e48c2,#3342b6,#2152d3,#254fce,#3440b2,#3440b3,#2c4ac5,#353dac,#353dad,#294dca,#2450cf,#353cac,#3341b5,#1d54d5,#2d49c5,#1b55d7,#2450cf,#2152d3,#3244ba,#363399,#3341b4,#3145bc,#3638a3,#3637a1,#3636a0,#363298,#3145bc,#284dcb,#353ba9,#3639a4,#362f91,#363092,#363aa7,#363aa7,#36369e,#3638a2,#3341b5,#353eaf,#2e47c1,#3638a2,#3639a5,#3638a2,#3638a3,#2a4cc9,#3638a3,#3639a5,#3636a0,#3637a1,#36349a,#363093,#36369e,#3637a0,#363296,#363195,#363195,#36369e,#36349b,#362f91,#352d8b,#363093,#3637a2,#363297,#363093,#343fb1,#353aa8,#363399,#363296,#363296,#362f91,#363091,#362f90,#36349a,#362e8f,#363194,#363194,#362f90,#36339a,#363398,#363195,#362f90,#362f8f,#3637a2,#36359d,#3638a2,#363194,#353eae,#36369f,#3637a1,#36349a,#36349b,#3638a3,#363399,#3638a2,#3638a3,#36369f,#3639a4,#36369f,#363296,#363194,#36349a,#363aa6,#363297,#36349a,#363297,#363093,#352d8d,#352c8a,#3636a0,#3638a4,#36369f,#363398,#3637a0,#36349a,#36349b,#3637a1,#362f90,#363399,#363194,#362f91,#3242b8,#3638a3,#36359c,#363093,#363093,#363aa6,#3638a2,#36359e,#363195,#36359d,#363296,#363297,#36349b,#363194,#363399,#363399,#363399,#363399,#363297,#362f91,#363092,#362e8f,#363195,#363399,#363399,#353ba9,#36359e,#362f91,#363092,#352d8d,#36349b,#36349b,#363093,#363398,#363195,#363093,#363296,#36359c,#363093,#362f91,#363093,#363092,#363398,#362e8e,#362f91,#362e8f,#363195,#362e8d,#363093,#3638a3,#363195,#362f90,#363aa6,#363296,#352d8c,#362e8e,#362e8e,#362f90,#362e8e,#362f90,#362e8f,#362d8d,#363195,#363093,#362e8e,#352d8c,#352d8c,#352c8b,#352d8c,#352c8a,#352c8a,#352b88,#352b88,#352b87,#352b87,#352b87,#352b88,#352b89,#352a87,#352b88,#352b88,#352b87,#352b87,#352a87,#352b88,#352b87,#352b87,#352b88,#352b87,#352b88,#352b87,#352b88,#352b89,#352c89,#352b89,#352b88,#352b87,#352a87,#352b88,#352b88,#352b88,#352b89,#352b88,#352b88,#352a87,#352b87,#352b88,#352b87,#352b88,#352b88,#352b88,#352b87,#352b88,#352c89,#352b87,#352b89,#352b88,#352b88,#352b87,#352b87,#352b89,#352b88,#352b87,#352b88,#352c8a,#352b89,#352c8a,#352b89,#352b88,#352b87,#352b88,#352b88,#352b89,#352b88,#352b87,#352b87,#352b87,#352a87,#352b88,#352b88,#352a87,#352b87,#352b88,#352b89,#352a87,#352b88,#352b88,#352a87,#362f90,#352a87,#352a87,#352b87,#352b87,#352a87,#352a87,#352b88,#352b87,#352b88,#363195,#352b87,#352a87,#352b88,#352b88,#352b88,#352b87,#352b87,#352b87,#352b89,#352c89,#352b88,#352b87,#352a87,#352b89,#352b88,#352b87,#352b88,#352b88,#352b88,#352b87,#352b89,#352b87,#352b87,#352b88,#352b87,#352b88,#352b87,#352b87,#352b88,#352b87,#352b88,#352b89,#352b89,#352b88,#352b89,#352b87,#352b88,#352b87,#352b88,#352b88,#352d8d,#352b87,#352b88,#352b88,#352b89,#352b88,#352c8a,#352a87,#352a87,#352b89,#352a87,#352b88,#352a87,#352b88,#362e8e,#352b89,#352b87,#352b89,#352a87,#352b87,#352b88,#352b88,#352b89,#352b88,#352b88,#352a87,#352b87,#352c8a,#352b87,#352b88,#352b88,#352b88,#352b88,#352a87,#352b87,#352c89,#352c89,#352b87,#352b88,#352b89,#352c89,#352b88,#352b87,#352b88,#352b88,#352a87,#352a87,#352b89,#352a87,#352a87,#352b88,#352b89,#352b88,#363093,#352b87,#352c89,#352b88,#352c8a,#352b88,#352b88,#352b88,#352b88,#352c8a,#352b87,#352b88,#352b89,#352b88,#362f91,#352b89,#362f91,#362f90,#352b88,#352a87,#352b88,#352b88,#352b87,#352b87,#352b89,#352b89,#352a87,#352b88,#352b89,#352b88,#352b88,#352b88,#352b87,#352b88,#352b88,#352b88,#352b88,#352b88,#352b87,#352b88,#352a87,#352a87,#352a87,#352b89,#352b88,#352a87,#352b88,#352b89,#352b88,#352b88,#352b88,#352b87,#352a87,#352b89,#352b89,#352a87,#352b87,#352b88,#352b87,#352b87,#352b87,#352b88,#352b88,#352b88,#352b88,#352c89,#352b88,#352b88,#352b87,#352b88,#352b88,#352b88,#352b88,#352b87,#352a87,#352b88,#352b88,#352b87,#352b88,#352b88,#352a87,#352b88,#352b87,#352b87,#352c8a,#352b89,#352b87,#352b88,#352b87,#352b87,#352b89,#352b87,#352b88,#352b87,#352b88,#352b88,#352b89,#352a87,#352d8c,#352a87,#352b89,#352b87,#352b88,#352b87,#352b88,#352b87,#352b89,#352b89,#352a87,#352b89,#352b87,#352b88,#352b89,#352b88,#352c8a,#352c8a,#352b88,#352b88,#352b88,#352a87,#352b87,#352b88,#352b87,#352b88,#352b88,#352a87,#352c8a,#352c89,#352b88,#352b89,#352b87,#352a87,#352b89,#352b87,#352b88,#352b88,#352a87,#352b87,#352b89,#352b88,#352b88,#352b89,#352b88,#352b87,#352b88,#352a87,#362e8f,#352b88,#352b88,#352b87,#352b88,#352b87,#352b88,#352b87,#352b89,#352a87,#352c89,#352b88,#352b88,#352b88,#352b88,#352b88,#352b88,#352b88,#352a87,#362e8f,#352b88,#352b88,#352b88,#352b88,#352b87,#352b89,#352b88,#352b87,#352b88,#352b87,#352a87,#352a87,#352b87,#352b87,#352b87,#352a87,#352b88,#352b87,#352b87,#352b88,#352b87,#352a87,#352b88,#352a87,#352b88,#352a87,#352b87,#352b88,#352b88,#352b87,#352b88,#362e8f,#352b87,#352b87,#352b88,#352b88,#352b87,#352b88,#352b87,#352b87,#352b88,#352b88,#352a87,#352b88,#352b88,#352b87,#352b88,#352b89,#352b87,#352b89,#352b88,#352b88,#352c8b,#352b88,#352b88,#352b88,#352b87,#352b87,#352b88,#352b87,#352b87,#352b88,#352a87,#352c8a,#352b88,#352b88,#363195,#352b88,#352b88,#352b88,#352a87,#352b88,#352b88,#352b88,#352b87,#352b88,#352b87,#352b88,#352b88,#352a87,#352b88,#352b89,#352b89,#352b88,#352b88,#352b88,#352b88,#352b89,#352b87,#352b87,#352b87,#352c8a,#352b87,#352b88,#352a87,#352b89,#352a87,#352b88,#352b88,#352b88,#352b88,#352b88,#352b89,#352b87,#362d8d,#352b89,#352b87,#352c8a,#352b87,#352b88,#352b87,#352a87,#352b88,#352b89,#352b88,#352b88,#352b88,#352a87,#352b88,#352b88,#352b89,#352b89,#362d8d,#352b88,#352b88,#352b88,#352b88,#352b88,#352b89,#363195,#352c8a,#352d8b,#362d8d,#352c8b,#352d8d,#363194,#363194,#362f90,#362d8d,#362e8f,#362e8f,#363092,#362e8f,#362e8f,#363297,#363296,#362f90,#352d8b,#362d8d,#352d8c,#362f90,#363092,#363093,#362f90,#362e8f,#362f90,#362f90,#362e8e,#362e8d,#363297,#363297,#363194,#363194,#363092,#36359c,#363296,#363093,#363296,#363296,#363296,#363194,#362f91,#362f91,#363195,#363194,#363093,#363194,#363194,#363092,#363399,#363297,#362e8f,#363092,#363194,#363398,#363092,#3636a0,#353eaf,#36349a,#363399,#36349a,#36349b,#3637a2,#3639a4,#363aa7,#36359e,#36359d,#3046bf,#3638a4,#363aa7,#3639a5,#3440b3,#353ba8,#36349c,#3637a2,#353ba9,#36359d,#3639a5,#363aa6,#363aa6,#363296,#36369e,#3342b6,#36359d,#36359d,#353baa,#353ba9,#3639a5,#36369f,#353dad,#3342b7,#3342b7,#353ba8,#3637a0,#363398,#353baa,#36349a,#343fb1,#343fb2,#36359c,#363093,#363399,#363194,#36359e,#353dad,#363296,#363195,#36369e,#36369f,#353ba8,#294dca,#2052d3,#3342b7,#3639a5,#3144bb,#2f46bf,#1658d9,#2c4ac5,#3243b9 940.5px)"></div>
<div class="c" style="left:966px;background:linear-gradient(#353cac .5px,#3440b3,#36349c,#363aa7,#294cca,#3638a3,#363aa7,#353dad,#353eaf,#3244ba,#3440b3,#3440b2,#36359d,#36349a,#3637a2,#3637a0,#353cab,#36349a,#353eaf,#343fb1,#36369f,#353dac,#353ba9,#343eb0,#353ba8,#36359d,#3637a1,#353aa8,#353dad,#274ecc,#3341b4,#1956d7,#0a5fdf,#353eaf,#353cab,#353eae,#3243b9,#343fb1,#3639a4,#353eaf,#2d49c3,#2351d0,#3341b5,#2f46bf,#2d49c4,#0f5cdd,#2152d3,#3144bb,#3144bb,#3243b8,#3243b8,#1a56d7,#3243b8,#3637a1,#36369f,#353ba9,#363aa6,#36339a,#3638a4,#363297,#363297,#36359e,#363093,#353eae,#36359e,#343eb0,#353baa,#3639a6,#363399,#36359d,#36349a,#363399,#363093,#3636a0,#363399,#353dad,#294cc9,#343eb0,#343fb1,#3638a2,#3639a5,#353dad,#36369e,#353dad,#353eae,#36359c,#363195,#36369f,#353aa8,#353eae,#353cab,#363296,#353ba8,#3639a4,#363296,#3639a5,#36369e,#3243b9,#3639a5,#36339a,#362f91,#36369f,#363399,#3144bb,#3144bb,#3639a5,#36359c,#363093,#363195,#363093,#363399,#36359d,#363398,#363398,#36369e,#363296,#363297,#363194,#363093,#3637a2,#363296,#363296,#363195,#36359c,#363398,#36349a,#363297,#36369e,#363195,#363195,#363297,#363092,#36339a,#363399,#363092,#362e8f,#363297,#363092,#36359c,#36369e,#3637a0,#363194,#36359d,#363296,#3637a2,#3637a0,#363296,#36369f,#363399,#36349b,#363092,#363297,#3637a1,#3638a2,#363296,#362e8e,#343fb2,#36369f,#363399,#363297,#362f91,#363297,#3639a4,#363195,#362e8f,#363195,#362e8f,#363195,#362f90,#363093,#363092,#362f91,#362f90,#352d8c,#362d8d,#352d8d,#352d8c,#352d8c,#363092,#362f91,#363092,#362e8f,#352d8d,#352d8b,#362e8d,#352d8d,#362e8d,#352d8b,#362e8e,#362d8d,#362e8e,#362f91,#362f90,#362e8e,#362f91,#352d8d,#352c8b,#362e8f,#362d8d,#362f90,#352d8d,#352d8c,#362e8e,#363092,#352d8d,#362f91,#362f90,#352d8b,#362d8d,#362e8e,#352d8b,#352c8a,#352d8d,#352d8c,#362e8e,#362e8f,#363194,#362f91,#363195,#352d8c,#352c8b,#352d8b,#362e8e,#362e8f,#352d8c,#352d8d,#352d8c,#363297,#362e8f,#352d8d,#352d8d,#362f91,#362d8d,#352c8b,#352d8d,#352d8c,#352c8a,#352b89,#352b89,#352c8a,#352b87,#352b87,#352b88,#352b88,#352b87,#352b88,#352b87,#352a87,#352b87,#352b88,#352b88,#352b88,#352b89,#352b89,#352b87,#352a87,#352b88,#352b88,#352b88,#352b89,#352b88,#352b88,#352b88,#352a87,#352b87,#352d8c,#352b88,#352b88,#352b88,#352b88,#352b88,#352b87,#352b88,#352b88,#352b88,#352b87,#352b87,#352b88,#352b89,#352c8a,#352b87,#352b88,#352b88,#352b88,#352a87,#352b88,#352b88,#352a87,#352b87,#352a87,#352b88,#352b89,#352b87,#352b87,#352c89,#352b89,#352b88,#352b88,#352b88,#352c89,#352b87,#352b87,#352b87,#352b88,#352b87,#352c8a,#352b88,#352c8a,#352b88,#352c8a,#352a87,#352b88,#352b87,#352b87,#352b87,#352b88,#352b88,#352b88,#352b87,#352c8a,#352b88,#352b88,#352b88,#352a87,#352b88,#362e8f,#352b89,#352b89,#352b88,#352a87,#352b88,#352b89,#352b88,#352a87,#352b88,#352b87,#352b88,#352b87,#352b87,#352b87,#352b88,#352b88,#352b89,#352b88,#352b89,#352b88,#352b88,#352b89,#352a87,#352b89,#352a87,#352b88,#352b88,#352b88,#352b89,#352b88,#352b89,#352b88,#352b89,#352b88,#352b88,#352b88,#352b88,#352c8a,#352b88,#352c8a,#352b89,#352b88,#352b89,#352b87,#352b88,#352b87,#352a87,#352c89,#352b88,#352b87,#352b88,#352b88,#352b88,#352b88,#352b88,#352b88,#352b88,#352b87,#352b89,#352c89,#352b87,#352b88,#352b88,#352b88,#352b88,#352b88,#352b88,#352b87,#352b88,#352b87,#352a87,#352b88,#352b88,#352b88,#352b88,#352d8c,#352b88,#352b87,#352b87,#352b88,#352b88,#352c89,#352b88,#352b88,#352b89,#352b88,#352b88,#352b87,#352b88,#352c89,#352a87,#352b88,#352b89,#352a87,#352b89,#352b88,#352b87,#352b89,#352b89,#352a87,#352b87,#352b89,#352b88,#352b88,#352b87,#352b89,#352b88,#352a87,#352b87,#352b87,#352c8a,#352b87,#363297,#352b88,#352b88,#352b87,#352b87,#352b88,#352b88,#352b87,#352b89,#352b87,#352b87,#352b87,#352b88,#352b88,#352b88,#352b88,#352b88,#352b88,#352b88,#352b89,#352a87,#3637a2,#352b88,#352b88,#352b87,#352b88,#352b88,#362e8f,#352b89,#352c89,#352b88,#352b88,#352b88,#352a87,#352b89,#352b87,#352b87,#352b89,#352b89,#352b88,#352b87,#352b88,#352b87,#352b89,#352b88,#352b88,#352b87,#352b88,#363296,#352b88,#352a87,#352b88,#352b88,#352b88,#352b89,#352b89,#352a87,#352b88,#352a87,#352b89,#352b87,#352b88,#352a87,#352b88,#352c8a,#352a87,#352b87,#352b88,#352a87,#352b88,#352a87,#352b88,#352a87,#352b87,#352b88,#352b89,#352b88,#352b89,#352b87,#352b88,#352a87,#352a87,#352b88,#352c89,#352a87,#362e8e,#352b89,#352b87,#352b88,#352b88,#352b88,#352b89,#352b87,#352b88,#352a87,#352c8a,#352b88,#352b87,#36349a,#352b89,#352b88,#352b88,#352b89,#352b88,#352b87,#352b89,#352a87,#352b89,#352b88,#352b88,#352b88,#352b88,#352b88,#352b88,#352b88,#352b89,#352b88,#352a87,#352b88,#352a87,#352b88,#352b89,#352b89,#352b89,#352b88,#352b87,#352a87,#352b87,#352b87,#352b88,#352b88,#352b88,#352a87,#352b88,#352b87,#352a87,#352b88,#352b88,#352c89,#352b88,#352b88,#352b87,#352b87,#352b88,#352b89,#352a87,#352b87,#352b88,#352b89,#352c89,#352b87,#352b87,#352b87,#352b88,#352b89,#352b89,#352b89,#352b88,#352b87,#352a87,#352b88,#352b87,#352b89,#352b88,#352b89,#352b88,#352a87,#352a87,#352b88,#352a87,#352b88,#352b88,#352b87,#352b89,#352b87,#352b88,#352b88,#352b89,#352b89,#352b89,#352b88,#352a87,#352b88,#352b88,#352b88,#352a87,#352b89,#352b88,#352b87,#352a87,#352b88,#352b87,#352b88,#352b88,#352b88,#352c8a,#352b89,#352a87,#352b88,#352c8a,#352b87,#352b88,#352b87,#352a87,#352b87,#352b88,#352a87,#352b89,#352b89,#352b88,#352b87,#352b89,#352b88,#352b89,#352b87,#352b88,#352b88,#352b88,#352b87,#352b89,#352b88,#352b88,#352b88,#352b88,#352b87,#352b88,#352b88,#352b88,#352d8c,#352b88,#352b88,#352b88,#352b88,#352a87,#352c8a,#352b87,#352a87,#352b88,#352b88,#352a87,#352a87,#352b89,#352b87,#352b88,#352a87,#352b88,#352b88,#352b88,#352b87,#352d8d,#352b88,#352b87,#352b88,#352b88,#352b87,#352b87,#352c89,#352b89,#352b89,#352b88,#352b87,#352b87,#352a87,#352b87,#352b87,#352b89,#352b87,#352a87,#352d8c,#352b87,#352b89,#352b88,#352b88,#352b87,#352b89,#352b89,#352b89,#352c89,#352a87,#352b88,#352a87,#352a87,#352b88,#352b89,#352b87,#352b87,#352b89,#352b87,#352c89,#352b88,#352b88,#352c89,#352b88,#352b88,#352b88,#352b89,#352b88,#352b88,#352b89,#352b87,#352b87,#352b88,#352b87,#352b88,#352b88,#352b89,#352c89,#352d8b,#363194,#352d8d,#352d8c,#362f91,#363195,#36349b,#363399,#3637a0,#362f90,#363195,#36349a,#363194,#363092,#363093,#36349a,#363296,#363194,#363297,#36349b,#36359e,#363093,#363297,#36359c,#363092,#363297,#363298,#362f91,#362f91,#363398,#363297,#363194,#362f90,#362e8f,#363093,#363297,#363093,#36359d,#362e8e,#362e8e,#363195,#363093,#363093,#362f91,#362f91,#362f90,#362f90,#362f90,#362e8f,#352d8c,#362e8e,#362e8e,#363297,#36359c,#36369f,#36349b,#363297,#36339a,#362f91,#36369f,#36369f,#353cac,#36359d,#363297,#36349b,#3638a3,#3046be,#353ba9,#363297,#363093,#363297,#3637a0,#353ba9,#36359d,#3639a4,#3637a0,#353caa,#3242b8,#3341b5,#2b4bc7,#3243b9,#2e47c1,#343eaf,#353dad,#3639a4,#2e47c1,#353ba9,#353ba9,#3342b7,#284dcb,#0561e0,#0364e1,#095fdf,#3145bc,#2a4bc8,#0e5cde,#2d49c4,#2d48c3,#3045bd,#3639a4,#36359c,#353caa,#2350d0,#343eaf,#3340b4,#2c4ac6,#3144bb,#264ecd,#3440b3,#0d5dde,#343fb1,#353ba9,#363aa7,#2e48c3,#3342b7,#0b5ede,#2b4bc7,#1e54d5,#353eaf,#363aa6,#2f46bf,#353ba9,#2d49c5,#3440b2,#3638a2,#3145bc,#343eaf,#3145bc,#1459db,#3342b7,#0c5dde,#1757d9,#3639a4,#3637a1,#353eaf,#353ba9,#36349b,#36349b,#3440b2,#3145bd,#353dac,#353dad,#343eaf,#2c4ac5,#353ba9,#343eb0,#2e47c1,#1a56d7,#2d49c4,#0d5dde,#1c55d6,#274ecc,#1b55d7,#046de0,#0365e1,#2d49c5,#2152d2,#026ae1,#095fdf,#0f5cdd,#2450cf,#3046be,#2c4ac6,#2c4ac6,#3341b5,#2350d0,#264ecd,#105bdd,#0760e0,#0c5dde,#2c4ac6,#294cca,#3144bb,#3440b3,#353baa,#2052d3,#1857d8,#2d49c4,#264ecd,#046de0,#1758d9,#3244bb,#353eaf,#1481d6,#2152d2,#284dcb,#0561e0,#3340b4,#046ce0,#0860e0,#2c4ac5,#284dca,#0269e1,#117bd9,#264ecd,#0860e0 940.5px)"></div>
<div class="c" style="left:1000.5px;background:linear-gradient(#353dad .5px,#1a56d7,#353caa,#353aa8,#353cab,#3045bd,#3638a2,#36359c,#36359c,#343fb1,#2e48c2,#3341b6,#343fb0,#3637a0,#363194,#36359c,#3638a2,#3638a4,#36369e,#3638a2,#294cc9,#2152d2,#343fb1,#3638a2,#36369f,#36349a,#2c49c5,#353dad,#36349c,#3440b3,#353cab,#353cab,#36359c,#363398,#3637a1,#363195,#3638a3,#3145bc,#36369e,#36359c,#363093,#363399,#3639a4,#353cab,#353dae,#36359e,#3340b4,#353dad,#363093,#363093,#363194,#3637a2,#3637a1,#362f91,#363092,#363398,#3637a1,#3637a0,#36369e,#3342b7,#3639a6,#363296,#353ba9,#363398,#363399,#36369e,#36369f,#353dae,#353eae,#363297,#362e8f,#353dac,#3637a0,#36349b,#363195,#362f91,#36349b,#353cab,#36359d,#363297,#363297,#3638a4,#363aa7,#363297,#363296,#3637a1,#36349b,#36339a,#363194,#3341b4,#3639a5,#3638a3,#3637a0,#36359c,#363399,#353ba9,#353dad,#36359d,#3638a3,#353ba8,#353dad,#353ba9,#3638a3,#36349b,#36349a,#363398,#363398,#353ba8,#353cac,#3637a2,#363297,#363296,#3342b7,#254fcf,#3341b4,#3637a2,#363297,#36369f,#363297,#353dae,#36359d,#363297,#363399,#363399,#353ba8,#3243b9,#36349b,#363399,#363296,#3637a0,#353cab,#353cab,#363aa6,#363399,#362f91,#363398,#36359d,#363297,#362f90,#36359e,#3636a0,#353cab,#3637a1,#353ba9,#353cac,#36369f,#36349c,#36359d,#363297,#36349b,#363398,#36349b,#363296,#36349c,#3637a1,#363398,#36369e,#36369e,#3639a5,#353ba9,#363296,#3638a3,#36359c,#363094,#362f91,#36349a,#36359d,#363195,#3637a2,#362e8e,#36369e,#362d8d,#352c8a,#352c8b,#352d8d,#362d8d,#352c8a,#352d8c,#352c8a,#352c89,#362e8d,#352c8a,#352b89,#352b88,#352c8a,#352c8a,#352c8b,#352c8b,#352c89,#352c8b,#352d8b,#352c89,#352c8b,#352b89,#352c8a,#352b88,#352b89,#352b88,#352b88,#352b87,#352c89,#352b87,#352b89,#352c8a,#352a87,#352b88,#352b89,#352b87,#352b87,#352b88,#352b88,#352b87,#352b88,#352b87,#352b89,#352b87,#352b88,#352b87,#352b87,#352b88,#352a87,#352b87,#352b88,#352b88,#352b89,#352b89,#352b88,#352a87,#352b88,#352b89,#352b88,#352b88,#352b88,#352b88,#352b88,#352b88,#352b88,#352a87,#352b88,#352b88,#352b88,#352b88,#352b88,#352b88,#352b89,#352c8a,#352b87,#352b88,#352b87,#352b89,#352b87,#352b87,#352a87,#352b87,#352a87,#352b87,#352b87,#352b87,#352c8a,#352b88,#352b88,#352b88,#352b88,#352b88,#352b88,#352a87,#352b87,#352a87,#352b88,#352b88,#352b88,#352b88,#352b88,#352b88,#352b89,#352b88,#352b88,#352b89,#352b89,#362f8f,#352b88,#352b88,#352b88,#352a87,#352b89,#352b87,#352b88,#352b88,#352a87,#352b89,#352b88,#352b88,#352b88,#352b87,#352b87,#352b89,#352b89,#352b88,#352a87,#352b87,#352d8d,#352b88,#352b88,#352b88,#352b88,#352b89,#352a87,#352a87,#352b88,#352b88,#352a87,#352b88,#352b88,#352c8a,#352b87,#352b87,#352b87,#352b88,#352b87,#352a87,#352b88,#362d8d,#352b87,#352b87,#352c8a,#352a87,#362d8d,#352b87,#352b87,#352b88,#352a87,#352b89,#352b87,#352b89,#363195,#352b88,#352b87,#352b87,#352b87,#352b88,#352b89,#352b88,#352b88,#352b87,#352b89,#352b88,#352b88,#352b87,#352b88,#352b87,#352c89,#352b87,#352b87,#352b88,#352b89,#352b88,#352b88,#352b87,#352b88,#352b89,#352b87,#352b87,#352b87,#352b88,#352b88,#352b87,#352b89,#352b87,#352b87,#352b87,#352b88,#352b87,#352b89,#3636a0,#352c89,#352b87,#352b87,#363093,#352b88,#352a87,#352b88,#352b88,#352b87,#352a87,#352a87,#352a87,#352b88,#352b88,#352b88,#352b87,#352b87,#352a87,#352b88,#352b88,#352b89,#352b87,#352b87,#352b88,#352b88,#352c8a,#352b87,#352b87,#352b88,#352a87,#352b88,#352b88,#352b89,#352b89,#352b88,#352b89,#352b87,#352b88,#352b87,#352b87,#352b89,#352b87,#352b88,#352b88,#352b88,#352b88,#352b89,#352a87,#352b87,#352b88,#352b87,#352b89,#352b89,#352b87,#352b88,#352b88,#352b88,#352a87,#352a87,#352b87,#352a87,#352a87,#352b88,#352b89,#352a87,#352a87,#352b88,#352b87,#352b88,#352b89,#352b87,#352b88,#352b88,#352b88,#352b89,#352b88,#362e8e,#352b88,#36349c,#352b88,#352b88,#352c89,#352b88,#352b89,#352b88,#352c89,#352b87,#352a87,#352b88,#352b88,#352b87,#363194,#352b87,#352a87,#362e8d,#352b87,#352b88,#352a87,#352b87,#352b87,#352b88,#352b88,#352b88,#352b88,#352b88,#352b89,#352b88,#352b88,#352b87,#352b89,#352b88,#352b88,#352b89,#352c8a,#352b87,#352b87,#352b89,#352b89,#352b89,#352b88,#352b88,#352b88,#352b87,#352a87,#352b87,#352b88,#352b88,#352b88,#352c89,#352b88,#352c8b,#352b88,#352b88,#352b89,#352b88,#352c89,#352a87,#352b87,#352b87,#352b88,#352b88,#352a87,#352b87,#352b89,#352b87,#352a87,#352b87,#352b88,#352b88,#352b88,#352b87,#352b88,#352b87,#352b87,#352c8b,#352b87,#352b88,#352b88,#352d8b,#352b87,#352b87,#352a87,#352b87,#352b89,#352a87,#352b88,#352a87,#352b87,#352b89,#352b88,#352b88,#3638a2,#352b88,#362f90,#352b88,#352b87,#352b88,#352b88,#352b87,#352b88,#352b88,#352b88,#352a87,#352c8a,#352b87,#352a87,#352b88,#352b87,#352b87,#352b87,#352b89,#352c8a,#352a87,#352b87,#352a87,#352b88,#352c8b,#352b88,#352b89,#352b88,#352b87,#352a87,#352a87,#352b88,#352b88,#352b88,#352b88,#352b87,#352b89,#352b88,#352b88,#352b88,#352b88,#352b89,#352b87,#352a87,#352a87,#352b87,#352b89,#352b88,#352b89,#352b88,#352b89,#352b88,#352b88,#352b88,#352b89,#352c8a,#352b88,#352b87,#352b87,#352b89,#352b88,#352b88,#363092,#352b89,#352b89,#352b88,#352b89,#352b87,#352b89,#352a87,#352b87,#352b88,#352a87,#352b88,#352c8a,#352b87,#352b88,#352b89,#352b89,#352b89,#352c8a,#352c8b,#352d8c,#352d8d,#352d8c,#352c8b,#362f90,#363093,#363296,#363195,#363194,#363398,#362e8f,#362d8d,#362e8f,#362f90,#363093,#362e8f,#362f90,#362f90,#362f8f,#362f91,#362f91,#363297,#362e8e,#362d8d,#363092,#362f91,#352d8c,#352c8b,#352d8c,#362f91,#362e8f,#352d8c,#362e8f,#363194,#363194,#362e8f,#362e8f,#363297,#362f90,#362d8d,#362f91,#352c8b,#352c8a,#362e8f,#362e8e,#362e8e,#362e8e,#363296,#362e8f,#362e8e,#352d8d,#362e8d,#362e8e,#363093,#363296,#362e8f,#352c8b,#352d8b,#352c8b,#362f91,#363092,#363297,#362f90,#362e8e,#363398,#363093,#363296,#363092,#362f91,#36349a,#36359c,#36349c,#362f91,#363092,#362f90,#363093,#363399,#363398,#363092,#362e8e,#363398,#363297,#353dac,#363298,#363297,#36349b,#353eae,#36359d,#36349c,#36369f,#3636a0,#362f91,#363aa7,#36369f,#363399,#3637a1,#363195,#363296,#353cab,#3639a5,#36369f,#343eb0,#36369e,#363194,#3637a1,#363195,#363398,#363093,#36349b,#36359c,#3638a4,#3638a3,#36359d,#3638a2,#353ba9,#363398,#3637a1,#353dac,#3637a1,#2f47c0,#2450cf,#2c4ac6,#3341b4,#353aa8,#3045bd,#353cac,#343fb1,#3639a4,#3440b3,#3342b6,#36369f,#3046be,#2c4ac6,#353ba8,#353eaf,#3440b2,#353dac,#3340b4,#353dac,#36359d,#3638a3,#36359d,#36349b,#36369f,#353dae,#3440b3,#3244ba,#3440b3,#343fb0,#2d49c3,#343fb0,#36369f,#363297,#353baa,#274ecc,#353eaf,#36349b,#3637a0,#343fb0,#353cab,#3145bd,#343eaf,#353cab,#3639a6,#3637a1,#3639a5,#353dae,#353cab,#3639a4,#36359e,#3639a5,#3637a1,#343eaf,#3144bb,#3145bc,#3340b4,#353ba9,#2c4ac6,#3244ba,#36369f,#353ba9,#343fb2,#353dad,#3244ba,#3045bd,#3440b3,#2b4bc8,#105bdd,#294cca,#3243b8,#3440b2,#363aa7,#3638a3,#353dad,#0c74dd,#0265e1,#2450cf,#1459db,#0b5edf,#0363e1,#2d49c4,#353aa8,#0770df,#0f77db,#056de0,#105bdd,#0268e1,#0268e1,#056de0,#2f47c0,#1957d8,#0761e0,#2251d1,#095fdf,#2e48c2,#3639a6,#0972de,#1481d5,#105bdd,#1482d5,#0d75dc,#0363e1,#254fce,#026ae1,#0f78db,#0a5fdf,#3340b3,#274ecc,#1a56d7,#284dcb,#1f53d4,#3440b2,#1079da,#0363e1,#046de0,#066fdf,#056ee0,#036ae1,#0661e0,#2b4bc7,#0661e0,#2e48c2,#0363e1,#0268e1,#0f5cde,#1a56d7,#2c4ac5,#294cc9,#3440b2,#3244ba,#2450d0,#0268e1,#0269e1,#1c55d6,#353dae,#0266e1,#0364e1,#3342b6,#353dad,#343fb1,#2c4ac5,#056ee0,#0e5cde,#036ce0,#095fdf,#3342b6,#0269e1,#0661e0,#0266e1,#0c74dd,#1389d3,#127bd9,#095fdf,#0363e1,#1459da,#254fce,#115bdd,#0268e1,#0661e0,#1c55d6,#2450cf,#0972de,#0661e0,#0d5dde,#2e48c1,#2e48c2,#2f46bf,#0364e1,#2c4ac6,#2c4ac6,#353dac,#3637a1,#046ce0,#2350d0,#3145bc,#0364e1,#0562e0,#0365e1,#0e5cde,#0269e1,#0561e0,#0269e1,#3145bc,#2152d3,#1658d9,#0364e1,#0661e0,#2d49c4,#0269e1,#2a4cc8,#353ba9,#3243b8,#0266e1 940.5px)"></div>
<div class="c" style="left:1035px;background:linear-gradient(#36349b .5px,#362f91,#36359c,#36349a,#363195,#36369f,#362f90,#363194,#363399,#3638a3,#3639a5,#36359c,#36359c,#363195,#362f90,#36369f,#363398,#362f90,#363399,#362f90,#363195,#36349a,#353dad,#3636a0,#363399,#362f90,#363195,#362f90,#363093,#363399,#363399,#362e8f,#363399,#363195,#363296,#363297,#363297,#363093,#3638a2,#36349a,#36359e,#363296,#363296,#363093,#352c8a,#362f91,#363092,#363399,#363195,#362f90,#362e8f,#362f90,#362e8f,#352d8d,#362f90,#362e8f,#363399,#363297,#363093,#363093,#363092,#362e8f,#352d8d,#362e8e,#362f90,#363195,#362e8e,#362e8f,#362f91,#362e8e,#362e8e,#363093,#362e8e,#362f90,#352d8c,#363399,#363196,#362e8f,#362e8f,#36359c,#363196,#363399,#363093,#362e8f,#352d8c,#362d8d,#362f90,#363093,#363298,#362e8e,#362d8d,#362f91,#362e8e,#362e8f,#362e8f,#362f90,#363194,#363298,#363296,#363195,#36349a,#363092,#352d8c,#362e8d,#362d8d,#363093,#362f90,#362f91,#362f8f,#362e8e,#362e8e,#362f91,#362e8f,#352d8c,#352d8c,#352d8c,#352d8d,#352c8a,#352b88,#352b88,#352d8c,#352b88,#352b88,#352b88,#352b88,#352a87,#352b88,#352b87,#352a87,#352b88,#352b88,#352b88,#352b88,#352b87,#352b89,#352b88,#352a87,#352a87,#352b88,#352b88,#352b87,#352b88,#352b87,#352b89,#352b88,#352b89,#352b88,#352b88,#352b88,#352a87,#352b88,#352b88,#352b87,#352b89,#352b89,#352b87,#352b88,#352a87,#352b87,#352b87,#352d8b,#352c89,#352b88,#363092,#352b88,#352b88,#352b87,#352b88,#352b88,#352a87,#352b88,#352c89,#352b88,#352b89,#352b88,#352b87,#352b87,#352b87,#352b88,#352b87,#352b88,#352c8a,#352b87,#352b88,#352b89,#352b88,#352b88,#352b88,#352b89,#352b87,#352a87,#352b88,#352b88,#352b87,#352c8a,#352b87,#352a87,#352b88,#352b88,#352b89,#352b88,#352b87,#352b88,#352b87,#352c8a,#352b88,#352b89,#352b87,#352b89,#352b88,#352b88,#352b87,#352b88,#352b88,#352b88,#352a87,#352b87,#352b89,#352b88,#352b87,#352c89,#352b88,#352b87,#352b88,#352b88,#352b89,#352b88,#352b88,#352b88,#352a87,#352b88,#352b88,#352b88,#352b88,#352b88,#352b87,#352a87,#352c8a,#352b88,#362f91,#352b87,#352b88,#352b88,#352b88,#352b88,#352b87,#352c89,#352b89,#352b88,#352b89,#352a87,#352b88,#352b88,#352b88,#352b88,#352c8a,#352b87,#352b88,#352b87,#352a87,#352b88,#352b88,#352b88,#352b89,#352b88,#352b88,#352b88,#352b88,#352b87,#352b87,#352b87,#352b88,#352a87,#352b88,#352b88,#352b88,#352b87,#352b87,#352b88,#352b88,#352b88,#352c89,#352b87,#352a87,#352b88,#352b87,#352b88,#352b89,#352a87,#352b87,#352b89,#352b89,#352b89,#352b87,#352b88,#352b87,#352b89,#352b89,#352b88,#352b87,#352b88,#352b87,#352b88,#352b88,#352b88,#352b88,#352b89,#352b88,#352a87,#352b89,#352b88,#352a87,#352b87,#352b88,#362e8f,#352b87,#352a87,#352b88,#352b89,#352b88,#352b87,#352b88,#352b88,#352b87,#352b88,#352b88,#352b89,#352b88,#352b87,#352b87,#352b87,#352b88,#352b87,#352a87,#362f91,#352b89,#352b88,#352b87,#352b89,#352a87,#352b88,#352a87,#352a87,#352b88,#352b87,#352b88,#352c8a,#352b88,#352a87,#352b88,#352a87,#352b88,#362d8d,#352b88,#352b87,#352a87,#352b88,#352b88,#352b88,#352b87,#352b89,#352b87,#352b88,#352b88,#352b88,#352b89,#352b87,#352b87,#352a87,#352b87,#352b88,#352b88,#352b89,#352b88,#352b88,#352b88,#352b88,#352b88,#352b87,#352a87,#352a87,#352c8a,#352b88,#352b88,#352b87,#352b88,#352b87,#352d8d,#352b88,#352a87,#352a87,#352b87,#352b88,#352b88,#352b87,#352b88,#352b87,#352b87,#352b88,#352b88,#352a87,#352b87,#352b88,#352b89,#352b89,#352b88,#352b87,#352b88,#352b87,#352a87,#352a87,#352b87,#352b88,#352b87,#352b88,#352c89,#352b87,#352b88,#352b88,#352b88,#352b88,#352b88,#352b87,#352b88,#352b89,#352a87,#352a87,#352b88,#352b87,#352b88,#352b88,#352b88,#352d8b,#352c89,#352b88,#352b88,#352b88,#352b88,#352b89,#352b87,#352b88,#352b87,#352b87,#352b88,#352b87,#352b88,#352b87,#352b89,#352b88,#352a87,#352c89,#352b89,#352a87,#352b88,#352b87,#352b88,#352b87,#352b88,#352b87,#352b88,#362f91,#352b88,#352b87,#352b89,#352b88,#352b88,#352b88,#352b88,#352b88,#352b88,#352b88,#352b88,#352b88,#352b88,#352b88,#352b87,#352b87,#352b89,#352b88,#352b88,#352b88,#352a87,#352a87,#352b88,#352b88,#352b89,#352b88,#352b89,#352b88,#352a87,#352b87,#352b88,#352b88,#352b88,#352c89,#352b89,#352b87,#352b88,#352c89,#352b88,#352b89,#352c8a,#352b88,#352b87,#352c8a,#352b87,#352b87,#352b87,#352b89,#352c8a,#352b88,#362d8d,#352b88,#352c8a,#352b88,#352b88,#352b88,#352a87,#352b87,#352a87,#352b88,#352b87,#352b88,#352c89,#352b88,#352b88,#352b89,#352b88,#352b88,#352b88,#352b88,#352a87,#352b89,#352a87,#352b87,#352b88,#352b88,#352b89,#352b88,#352b88,#352b88,#352b88,#352b88,#352b88,#352b88,#352b87,#352b88,#352b87,#352b88,#352b89,#352c89,#352b89,#352d8c,#352c8b,#352d8d,#363093,#363093,#362f91,#363195,#363195,#363398,#362f91,#352d8c,#362e8e,#362e8f,#363092,#362f90,#363093,#362e8e,#362f90,#352d8c,#362e8e,#362f91,#362f90,#3637a0,#363296,#363194,#363399,#362f91,#362e8e,#362e8f,#362f91,#363092,#363195,#363093,#362e8e,#362e8e,#3637a1,#36349a,#362f8f,#363093,#363092,#363092,#363297,#36359d,#362f8f,#362f91,#36349b,#363195,#36359d,#362f91,#36349a,#363aa6,#363399,#362f91,#363aa6,#353cab,#3638a2,#36359d,#363194,#36359c,#3639a6,#363195,#36369f,#36359c,#353ba9,#3243b9,#343fb0,#36369e,#36359e,#363399,#363195,#353cac,#343fb2,#3244ba,#3637a0,#363092,#36349a,#363093,#363195,#362f90,#3636a0,#3637a1,#363296,#363195,#363093,#363398,#36369f,#36349b,#353eae,#1c55d6,#353baa,#363aa7,#343fb1,#353eaf,#363aa7,#3440b2,#3440b2,#36359d,#3637a1,#353ba9,#363398,#36359c,#2450cf,#353cab,#3638a3,#3637a2,#2c4ac5,#284dcb,#1a56d7,#3341b5,#36349b,#3341b6,#3340b3,#2f47c0,#3639a5,#3638a2,#363297,#3639a4,#3639a5,#3342b7,#36349a,#36359e,#3144bb,#2f47c0,#3638a4,#3242b8,#3638a3,#3637a0,#363aa7,#363194,#3638a4,#36359d,#3341b5,#3341b4,#353cac,#363aa6,#2d48c3,#343fb0,#353cab,#2f47c0,#1d54d5,#135adb,#2d49c4,#1559da,#1078da,#0661e0,#0860e0,#294cc9,#2152d2,#0364e1,#1459db,#274ecc,#0265e1,#1a56d7,#046ce0,#1b55d6,#3341b4,#353ba8,#2e48c2,#1857d8,#2c4ac6,#3243b8,#353ba8,#0266e1,#0266e1,#0364e1,#2d49c4,#353baa,#353dad,#36369f,#0269e1,#046de0,#095fdf,#0266e1,#1559da,#353dad,#254fce,#1b56d7,#0760e0,#1857d8,#0d5dde,#3145bc,#3638a2,#3144bb,#1459da,#3341b4,#135adb,#0f5cde,#343eb0,#135adb,#2251d1,#1b55d7,#0e5cde,#1c55d6,#1b56d7,#2c4ac5,#046ce0,#3243ba,#3342b6,#284dca,#2b4bc7,#0b5edf,#0265e1,#3440b2,#2e48c2,#3638a2,#1e54d5,#294dca,#1e54d5,#115bdc,#0a72de,#2b4bc8,#3243b8,#36349a,#294cca,#2053d4,#0269e1,#0268e1,#1c55d6,#2a4cc9,#2251d1,#1d54d6,#0860e0,#036ae1,#0363e1,#0266e1,#1f53d4,#284dcb,#254fcd,#2052d3,#0267e1,#2251d2,#2c4ac7,#1956d8,#1d54d5,#125adc,#0363e1,#1559da,#1559da,#115adc,#0363e1,#2d49c3,#3341b6,#353eaf,#3144bb,#0a5fdf,#0364e1,#3342b6,#0e5cde,#284dcb,#3243b9,#1857d8,#026ae1,#254fce,#1079da,#0971de,#2a4cc9,#353ba9,#0d5dde,#1459db,#3342b7,#3144bb,#3244ba,#353dac,#353caa,#2a4bc8,#1459da,#0c5ede,#2d49c4,#046ce0,#1658d9,#2f47c0,#343fb0,#353eae,#3144bb,#3243b9,#3144bb,#2350d0,#0462e1,#036be0,#0f5cdd,#0363e1,#0661e0,#0a5fdf,#0267e1,#1d54d5,#353dad,#1484d4,#1757d9,#264fcd,#2450cf,#046ce0,#0363e1,#125adc,#2c4ac6,#127bd9,#0b5edf,#0268e1,#2350d0,#0e5cde,#1a56d7,#3638a3,#0a5fdf,#2053d4,#2d48c3,#0661e0,#1d54d5,#284dcb,#046ce0,#0269e1,#0363e1,#0972de,#0265e1,#2e48c2,#3243b8,#3242b8,#0661e0,#3342b7,#056ee0,#0661e0,#0363e1,#0971de,#0269e1,#2d49c3,#2b4bc7,#0b5edf,#0363e1,#274dcb,#363aa7,#2c4ac7,#3045bd,#0268e1,#264fcd,#294cca,#105bdd,#0d5dde,#1a56d7,#3243b9,#1d54d6,#105bdd,#095fdf,#3341b4,#2f47c0,#2350d0,#3341b4,#294cc9,#105bdd,#0364e1,#1956d8,#353cab,#3242b7,#115bdc,#1e54d5,#274ecc,#0770df,#0268e1,#1c55d6,#353baa,#1c55d6,#3244ba,#2e48c2,#284dca,#3638a4,#343eaf,#3243b9,#353dae,#3638a3,#363aa7,#353caa,#353dad,#353aa8,#353eae,#36349a,#363092,#343eaf,#2b4bc7,#353dae,#36349b,#36359d,#36359d,#353ba9,#343fb0,#3243b9,#3440b3,#353ba8,#343fb0,#343fb0,#3637a1,#343eaf,#353ba9 940.5px)"></div>
</div>
<svg width="1280" height="1122" viewBox="0 0 1280 1122" style="position:absolute;left:0;top:0">
<g stroke="#000" stroke-width="2.9" fill="none">
<line x1="220.5" y1="947.65" x2="220.5" y2="933.15"/>
<line x1="220.5" y1="3.3" x2="220.5" y2="17.8"/>
<line x1="612" y1="947.65" x2="612" y2="933.15"/>
<line x1="612" y1="3.3" x2="612" y2="17.8"/>
<line x1="1003.5" y1="947.65" x2="1003.5" y2="933.15"/>
<line x1="1003.5" y1="3.3" x2="1003.5" y2="17.8"/>
<line x1="201.3" y1="182.5" x2="215.8" y2="182.5"/>
<line x1="1272.8" y1="182.5" x2="1258.3" y2="182.5"/>
<line x1="201.3" y1="391.4" x2="215.8" y2="391.4"/>
<line x1="1272.8" y1="391.4" x2="1258.3" y2="391.4"/>
<line x1="201.3" y1="600.3" x2="215.8" y2="600.3"/>
<line x1="1272.8" y1="600.3" x2="1258.3" y2="600.3"/>
<line x1="201.3" y1="809.3" x2="215.8" y2="809.3"/>
<line x1="1272.8" y1="809.3" x2="1258.3" y2="809.3"/>
</g>
<rect x="203.5" y="5.5" width="1067.1" height="939.95" fill="none" stroke="#000" stroke-width="3.1"/>
<g font-family="'Liberation Serif', serif" font-size="48" fill="#000">
<text transform="translate(219.9,1023.9) scale(1.03,1.05)" text-anchor="middle">0</text>
<text transform="translate(611.7,1023.9) scale(1.03,1.05)" text-anchor="middle">5</text>
<text transform="translate(1004.1,1023.9) scale(1.03,1.05)" text-anchor="middle">10</text>
<text transform="translate(165.6,201.2) scale(1.012,1.05)" text-anchor="end">100</text>
<text transform="translate(165.6,410.1) scale(1.012,1.05)" text-anchor="end">200</text>
<text transform="translate(165.6,619) scale(1.012,1.05)" text-anchor="end">300</text>
<text transform="translate(165.6,828) scale(1.012,1.05)" text-anchor="end">400</text>
<text transform="translate(735.7,1104.5) scale(1,1.035)" text-anchor="middle" word-spacing="5" textLength="181.5" lengthAdjust="spacingAndGlyphs">Time (s)</text>
<text transform="translate(49.6,485) rotate(-90) scale(1,1.035)" text-anchor="middle" word-spacing="5" textLength="276.5" lengthAdjust="spacingAndGlyphs">Distance (m)</text>
</g></svg>
</body></html>
